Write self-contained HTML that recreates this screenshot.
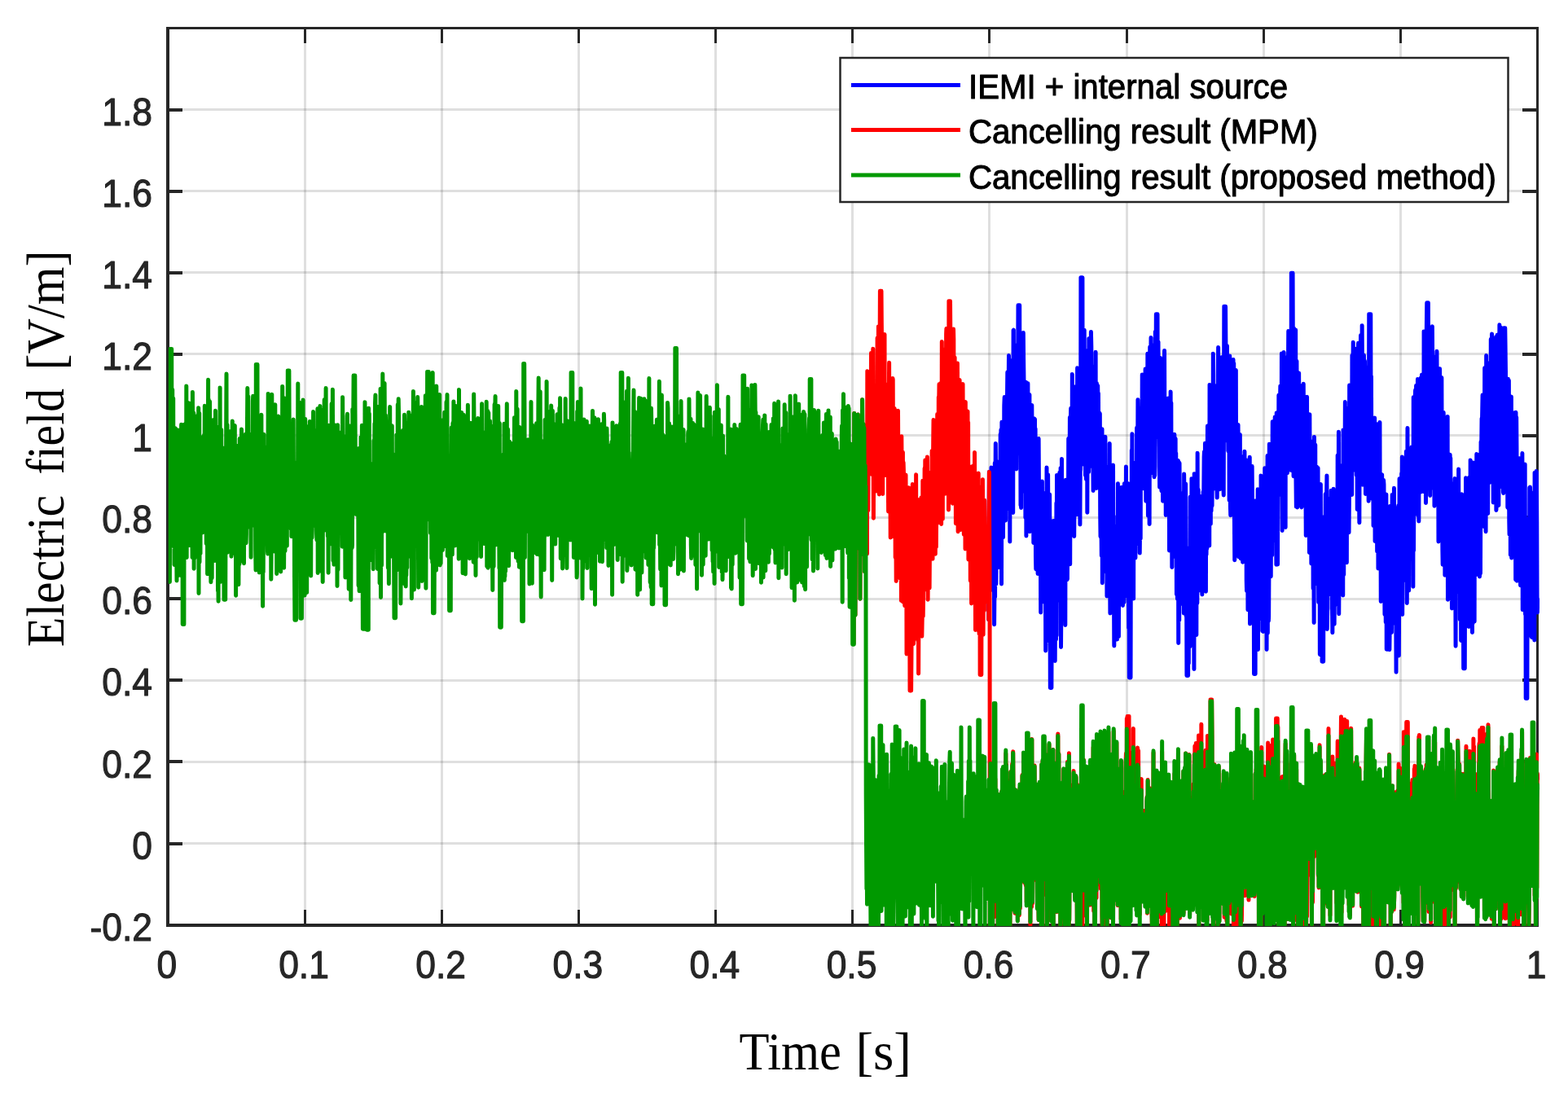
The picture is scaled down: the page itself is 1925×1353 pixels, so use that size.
<!DOCTYPE html>
<html><head><meta charset="utf-8"><title>Electric field plot</title>
<style>html,body{margin:0;padding:0;background:#fff;overflow:hidden}svg{display:block}</style>
</head><body>
<svg width="1925" height="1353" viewBox="0 0 1925 1353">
<rect x="0" y="0" width="1925" height="1353" fill="#fff"/>
<path d="M373 36h3V1134h-3z M541 36h3V1134h-3z M709 36h3V1134h-3z M877 36h3V1134h-3z M1045 36h3V1134h-3z M1213 36h3V1134h-3z M1382 36h3V1134h-3z M1550 36h3V1134h-3z M1718 36h3V1134h-3z" fill="#262626" fill-opacity="0.15"/>
<path d="M208 1034H1886v3H208z M208 934H1886v3H208z M208 834H1886v3H208z M208 734H1886v3H208z M208 634H1886v3H208z M208 533H1886v3H208z M208 433H1886v3H208z M208 333H1886v3H208z M208 233H1886v3H208z M208 133H1886v3H208z" fill="#262626" fill-opacity="0.15"/>
<path d="M204 33H1889V36H204z M204 1134H1889V1138H204z M204 33H208V1138H204z M1886 33H1889V1138H1886z M373 36h3v17h-3z M373 1117h3v17h-3z M541 36h3v17h-3z M541 1117h3v17h-3z M709 36h3v17h-3z M709 1117h3v17h-3z M877 36h3v17h-3z M877 1117h3v17h-3z M1045 36h3v17h-3z M1045 1117h3v17h-3z M1213 36h3v17h-3z M1213 1117h3v17h-3z M1382 36h3v17h-3z M1382 1117h3v17h-3z M1550 36h3v17h-3z M1550 1117h3v17h-3z M1718 36h3v17h-3z M1718 1117h3v17h-3z M208 1034h16v4h-16z M1869 1034h17v4h-17z M208 933h16v4h-16z M1869 933h17v4h-17z M208 833h16v4h-16z M1869 833h17v4h-17z M208 733h16v4h-16z M1869 733h17v4h-17z M208 633h16v4h-16z M1869 633h17v4h-17z M208 533h16v4h-16z M1869 533h17v4h-17z M208 433h16v4h-16z M1869 433h17v4h-17z M208 333h16v4h-16z M1869 333h17v4h-17z M208 233h16v4h-16z M1869 233h17v4h-17z M208 133h16v4h-16z M1869 133h17v4h-17z" fill="#262626"/>
<clipPath id="c"><rect x="206.7" y="34" width="1683.50" height="1103"/></clipPath>
<g clip-path="url(#c)" fill="none" stroke-linejoin="round" stroke-linecap="round" stroke-width="5.0">
<path stroke="#0000ff" d="M1212.0 738.9l0.4 -81.8 0.3 40.6 0.3 -6.7 0.4 -37.0 0.3 106.7 0.3 -97.3 0.4 -83.8 0.3 74.8 0.3 43.9 0.3 23.6 0.4 -59.0 0.3 61.9 0.3 -13.4 0.4 -110.8 0.3 -26.5 0.3 47.9 0.4 93.4 0.3 -87.5 0.3 22.4 0.3 -37.3 0.4 -25.3 0.3 104.1 0.3 -88.0 0.4 37.8 0.3 -13.8 0.3 138.9 0.4 -49.1 0.3 -149.2 0.3 164.6 0.3 -125.3 0.4 -63.2 0.3 53.3 0.3 119.2 0.4 -48.4 0.3 14.3 0.3 3.0 0.4 -70.6 0.3 -30.6 0.3 .3 0.3 -17.7 0.4 86.3 0.3 35.4 0.3 7.4 0.4 -120.2 0.3 82.5 0.3 37.2 0.4 -120.3 0.3 13.2 0.3 -55.9 0.3 52.4 0.4 -57.6 0.3 2.0 0.3 187.3 0.4 -198.8 0.3 110.4 0.3 -6.7 0.4 -102.0 0.3 67.7 0.3 72.1 0.4 -106.7 0.3 -34.7 0.3 69.8 0.3 -89.9 0.4 -10.6 0.3 110.4 0.3 -6.6 0.4 46.9 0.3 .7 0.3 -114.1 0.4 44.6 0.3 22.3 0.3 -24.8 0.3 22.5 0.4 -102.5 0.3 -30.1 0.3 103.6 0.4 64.0 0.3 -56.0 0.3 -81.4 0.4 -50.5 0.3 25.3 0.3 108.9 0.3 -52.4 0.4 146.6 0.3 -121.0 0.3 20.9 0.4 -31.7 0.3 13.5 0.3 64.4 0.4 -165.3 0.3 132.4 0.3 19.9 0.3 11.0 0.4 -55.2 0.3 -112.3 0.3 188.0 0.4 -224.0 0.3 -.4 0.3 146.0 0.4 -67.8 0.3 73.0 0.3 -120.1 0.3 -12.5 0.4 82.5 0.3 62.4 0.3 -84.1 0.4 -32.1 0.3 123.4 0.3 -77.4 0.4 -7.6 0.3 31.9 0.3 -12.6 0.3 -36.4 0.4 -26.5 0.3 -72.5 0.3 .0 0.4 .0 0.3 .0 0.3 .0 0.4 .0 0.3 182.5 0.3 -143.3 0.3 71.4 0.4 135.0 0.3 -123.1 0.3 126.3 0.4 -160.4 0.3 50.9 0.3 49.9 0.4 -81.4 0.3 97.6 0.3 22.8 0.3 -77.2 0.4 -117.2 0.3 32.5 0.3 21.3 0.4 61.6 0.3 36.4 0.3 42.5 0.4 -22.8 0.3 -61.9 0.3 117.2 0.3 -7.1 0.4 -159.0 0.3 188.8 0.3 -140.7 0.4 -34.0 0.3 108.6 0.3 -71.4 0.4 94.8 0.3 -144.7 0.3 82.6 0.3 -24.8 0.4 53.3 0.3 -71.4 0.3 6.5 0.4 -32.3 0.3 168.2 0.3 -120.4 0.4 -31.2 0.3 58.6 0.3 -46.6 0.3 15.4 0.4 56.7 0.3 -66.9 0.3 -20.8 0.4 54.4 0.3 46.6 0.3 -47.7 0.4 11.0 0.3 -7.7 0.3 112.2 0.3 -146.3 0.4 134.6 0.3 -140.8 0.3 34.3 0.4 -33.5 0.3 90.9 0.3 -79.3 0.4 157.0 0.3 15.5 0.3 -132.8 0.3 -18.0 0.4 20.0 0.3 76.7 0.3 -29.4 0.4 -20.3 0.3 109.6 0.3 -131.8 0.4 87.1 0.3 -121.4 0.3 45.6 0.3 85.1 0.4 -9.7 0.3 -27.4 0.3 -9.5 0.4 -20.6 0.3 63.4 0.3 86.5 0.4 -132.0 0.3 45.9 0.3 -25.8 0.3 94.0 0.4 -142.9 0.3 133.4 0.3 -106.8 0.4 76.2 0.3 30.1 0.3 -82.3 0.4 97.2 0.3 -133.3 0.3 56.1 0.3 -28.7 0.4 19.2 0.3 45.3 0.3 -52.8 0.4 154.2 0.3 -18.7 0.3 -24.0 0.4 -74.0 0.3 -108.2 0.3 212.9 0.3 -78.0 0.4 40.9 0.3 -152.4 0.3 -14.6 0.4 85.0 0.3 102.9 0.3 -131.5 0.4 50.9 0.3 -70.8 0.3 -12.3 0.3 61.1 0.4 176.5 0.3 .0 0.3 .0 0.4 .0 0.3 .0 0.3 .0 0.4 -110.1 0.3 4.2 0.3 -64.3 0.3 74.2 0.4 -55.9 0.3 19.2 0.3 -72.5 0.4 21.7 0.3 14.5 0.3 -5.3 0.4 -11.2 0.3 125.0 0.3 27.3 0.3 -53.0 0.4 14.9 0.3 -73.5 0.3 85.3 0.4 -167.7 0.3 162.8 0.3 -196.8 0.4 67.5 0.3 53.0 0.3 -27.9 0.3 -71.0 0.4 132.0 0.3 -130.1 0.3 84.6 0.4 -85.1 0.3 111.9 0.3 -138.1 0.4 76.6 0.3 -18.4 0.3 99.3 0.3 -163.0 0.4 219.8 0.3 -38.0 0.3 -99.4 0.4 -93.5 0.3 139.8 0.3 28.5 0.4 -76.9 0.3 -36.3 0.3 12.5 0.4 126.7 0.3 -78.0 0.3 -23.4 0.3 29.3 0.4 41.1 0.3 -28.6 0.3 -44.6 0.4 113.8 0.3 -146.2 0.3 -32.0 0.4 57.8 0.3 53.3 0.3 .8 0.3 10.8 0.4 -96.7 0.3 95.6 0.3 -73.2 0.4 15.8 0.3 -8.4 0.3 -106.6 0.4 29.9 0.3 27.5 0.3 15.7 0.3 -15.7 0.4 -83.5 0.3 180.3 0.3 -103.9 0.4 -74.1 0.3 -13.4 0.3 61.1 0.4 7.7 0.3 37.6 0.3 34.0 0.3 -182.1 0.4 111.2 0.3 34.4 0.3 -37.4 0.4 38.8 0.3 -99.8 0.3 105.5 0.4 46.3 0.3 -37.1 0.3 -146.6 0.3 73.1 0.4 -24.7 0.3 106.1 0.3 -48.8 0.4 -56.9 0.3 -9.9 0.3 118.0 0.4 -30.3 0.3 -76.5 0.3 -73.3 0.3 131.0 0.4 27.5 0.3 -106.0 0.3 -11.8 0.4 56.7 0.3 -53.1 0.3 -40.5 0.4 65.7 0.3 -47.6 0.3 170.5 0.3 -65.4 0.4 -2.2 0.3 -235.7 0.3 .0 0.4 .0 0.3 .0 0.3 .0 0.4 .0 0.3 .0 0.3 229.1 0.3 -26.8 0.4 -40.1 0.3 -53.5 0.3 -15.7 0.4 44.9 0.3 -73.4 0.3 95.1 0.4 37.5 0.3 -92.3 0.3 138.1 0.3 -42.9 0.4 -107.4 0.3 155.2 0.3 -42.9 0.4 33.5 0.3 -142.9 0.3 192.9 0.4 -117.4 0.3 -5.9 0.3 -75.7 0.3 130.3 0.4 19.1 0.3 -163.9 0.3 158.1 0.4 -76.7 0.3 -45.8 0.3 114.4 0.4 -18.2 0.3 -101.2 0.3 31.5 0.3 -70.4 0.4 17.9 0.3 55.6 0.3 63.1 0.4 -94.3 0.3 39.7 0.3 70.4 0.4 -3.5 0.3 46.3 0.3 -76.1 0.3 42.3 0.4 -92.0 0.3 -.4 0.3 47.9 0.4 54.5 0.3 -56.5 0.3 50.0 0.4 -140.1 0.3 164.4 0.3 -76.4 0.3 79.3 0.4 -128.9 0.3 81.6 0.3 -8.0 0.4 -19.8 0.3 -50.8 0.3 38.4 0.4 -29.2 0.3 56.8 0.3 22.2 0.3 -54.6 0.4 -.3 0.3 57.0 0.3 -56.2 0.4 124.7 0.3 26.3 0.3 -121.9 0.4 78.4 0.3 32.2 0.3 34.9 0.3 -16.8 0.4 -138.7 0.3 189.0 0.3 -32.9 0.4 -101.5 0.3 84.7 0.3 33.8 0.4 -60.9 0.3 -13.8 0.3 7.9 0.3 -44.4 0.4 41.8 0.3 -8.9 0.3 -85.3 0.4 154.1 0.3 -117.6 0.3 56.1 0.4 74.0 0.3 -101.9 0.3 130.9 0.3 -57.2 0.4 10.8 0.3 -97.8 0.3 60.2 0.4 -75.0 0.3 130.8 0.3 -2.4 0.4 -58.0 0.3 23.3 0.3 -122.0 0.3 141.2 0.4 67.3 0.3 -63.8 0.3 51.5 0.4 -161.4 0.3 135.1 0.3 32.6 0.4 -4.7 0.3 -97.0 0.3 92.6 0.3 -135.9 0.4 43.2 0.3 -74.3 0.3 122.5 0.4 -35.6 0.3 72.2 0.3 63.0 0.4 -146.8 0.3 57.8 0.3 -55.9 0.3 105.1 0.4 13.4 0.3 -70.7 0.3 -48.1 0.4 56.7 0.3 -8.9 0.3 68.4 0.4 20.8 0.3 -151.3 0.3 79.5 0.3 -119.3 0.4 48.4 0.3 100.8 0.3 38.4 0.4 -148.9 0.3 64.9 0.3 -24.1 0.4 5.3 0.3 -71.0 0.3 62.8 0.3 17.4 0.4 -18.4 0.3 60.3 0.3 -44.8 0.4 -86.6 0.3 59.9 0.3 20.6 0.4 -31.6 0.3 96.4 0.3 -38.0 0.4 -99.7 0.3 88.5 0.3 -27.9 0.3 73.0 0.4 -145.8 0.3 129.5 0.3 -65.0 0.4 -58.9 0.3 92.6 0.3 1.9 0.4 -120.8 0.3 158.4 0.3 -91.3 0.3 16.3 0.4 -2.6 0.3 -35.2 0.3 -12.4 0.4 -12.6 0.3 18.8 0.3 104.8 0.4 54.0 0.3 -108.7 0.3 169.4 0.3 .0 0.4 .0 0.3 .0 0.3 .0 0.4 .0 0.3 -130.6 0.3 -87.9 0.4 121.4 0.3 -181.7 0.3 106.2 0.3 -126.6 0.4 146.1 0.3 -.5 0.3 5.9 0.4 13.2 0.3 37.7 0.3 -166.8 0.4 98.7 0.3 -82.2 0.3 47.4 0.3 32.6 0.4 -66.0 0.3 86.3 0.3 -57.8 0.4 33.9 0.3 -51.2 0.3 34.0 0.4 -118.8 0.3 89.0 0.3 -88.3 0.3 64.2 0.4 -99.4 0.3 18.1 0.3 4.7 0.4 136.3 0.3 -139.9 0.3 158.6 0.4 -49.5 0.3 60.1 0.3 -26.9 0.3 -78.2 0.4 87.3 0.3 -122.2 0.3 13.5 0.4 20.9 0.3 -72.2 0.3 93.5 0.4 -134.8 0.3 25.5 0.3 70.1 0.3 -51.4 0.4 58.6 0.3 36.9 0.3 -79.8 0.4 74.7 0.3 -108.6 0.3 66.9 0.4 -73.0 0.3 5.3 0.3 -32.1 0.3 92.6 0.4 69.5 0.3 -19.9 0.3 -86.2 0.4 83.4 0.3 -111.9 0.3 125.1 0.4 -171.4 0.3 120.9 0.3 78.1 0.3 -140.8 0.4 116.6 0.3 -78.3 0.3 -74.0 0.4 186.8 0.3 -109.4 0.3 -108.1 0.4 29.1 0.3 119.8 0.3 -124.7 0.3 -35.9 0.4 67.1 0.3 99.2 0.3 -104.1 0.4 59.1 0.3 -6.6 0.3 -39.1 0.4 43.0 0.3 -63.8 0.3 103.3 0.3 -148.8 0.4 137.4 0.3 24.7 0.3 -120.3 0.4 118.5 0.3 -11.5 0.3 -165.0 0.4 118.9 0.3 -73.0 0.3 -67.6 0.3 .0 0.4 .0 0.3 .0 0.3 .0 0.4 .0 0.3 138.6 0.3 8.9 0.4 -113.6 0.3 117.3 0.3 -70.1 0.3 51.8 0.4 30.4 0.3 49.2 0.3 -65.8 0.4 24.6 0.3 -117.5 0.3 7.3 0.4 69.2 0.3 -60.6 0.3 147.3 0.3 -156.1 0.4 63.1 0.3 72.5 0.3 2.1 0.4 30.9 0.3 -137.3 0.3 133.5 0.4 -147.2 0.3 118.1 0.3 -16.3 0.3 -135.6 0.4 107.7 0.3 31.5 0.3 -.6 0.4 -37.4 0.3 100.7 0.3 -78.9 0.4 72.6 0.3 -72.8 0.3 43.4 0.3 28.0 0.4 -11.0 0.3 -10.3 0.3 -73.2 0.4 -41.3 0.3 143.8 0.3 -122.7 0.4 -4.9 0.3 170.8 0.3 -76.2 0.3 -45.2 0.4 72.0 0.3 44.3 0.3 -189.9 0.4 183.1 0.3 -169.5 0.3 143.7 0.4 -62.2 0.3 120.4 0.3 -99.9 0.3 62.3 0.4 -82.2 0.3 79.6 0.3 27.5 0.4 -43.1 0.3 -62.7 0.3 47.0 0.4 -91.6 0.3 49.2 0.3 82.0 0.3 -27.2 0.4 -98.7 0.3 103.0 0.3 -85.4 0.4 86.4 0.3 87.1 0.3 -149.0 0.4 66.3 0.3 88.2 0.3 -131.6 0.3 .8 0.4 -38.9 0.3 223.9 0.3 -207.7 0.4 168.3 0.3 11.5 0.3 -192.9 0.4 59.8 0.3 5.8 0.3 10.7 0.4 -2.8 0.3 99.5 0.3 -17.0 0.3 -81.8 0.4 91.7 0.3 2.4 0.3 -99.3 0.4 56.2 0.3 36.8 0.3 -60.1 0.4 -11.1 0.3 -54.8 0.3 148.3 0.3 -170.9 0.4 31.8 0.3 47.9 0.3 36.6 0.4 -73.5 0.3 66.3 0.3 -97.2 0.4 138.8 0.3 23.9 0.3 -20.9 0.3 93.9 0.4 .0 0.3 .0 0.3 .0 0.4 .0 0.3 .0 0.3 -156.7 0.4 141.6 0.3 -107.1 0.3 -25.3 0.3 35.1 0.4 30.1 0.3 46.4 0.3 -183.4 0.4 10.6 0.3 25.7 0.3 -5.8 0.4 125.2 0.3 -178.3 0.3 94.5 0.3 -32.4 0.4 142.6 0.3 -84.3 0.3 48.6 0.4 -76.3 0.3 86.5 0.3 -82.9 0.4 137.5 0.3 -239.8 0.3 9.5 0.3 145.9 0.4 1.8 0.3 -120.9 0.3 82.6 0.4 31.9 0.3 41.2 0.3 5.9 0.4 -183.2 0.3 57.3 0.3 86.7 0.3 -184.1 0.4 162.0 0.3 -77.0 0.3 -40.2 0.4 35.0 0.3 23.0 0.3 65.9 0.4 -86.9 0.3 -.4 0.3 71.6 0.3 -72.2 0.4 -27.6 0.3 1.2 0.3 58.6 0.4 33.5 0.3 -58.2 0.3 -34.6 0.4 120.0 0.3 -27.1 0.3 -74.3 0.3 74.7 0.4 -99.6 0.3 33.1 0.3 -25.8 0.4 -49.3 0.3 -7.0 0.3 157.7 0.4 1.5 0.3 -169.6 0.3 19.1 0.3 1.1 0.4 161.8 0.3 -170.5 0.3 125.1 0.4 -30.1 0.3 22.8 0.3 -15.5 0.4 -135.0 0.3 105.7 0.3 -77.7 0.3 112.4 0.4 -45.5 0.3 -52.2 0.3 45.1 0.4 59.0 0.3 -197.3 0.3 44.1 0.4 80.6 0.3 -84.4 0.3 130.3 0.3 -119.0 0.4 103.2 0.3 -26.7 0.3 -122.7 0.4 143.0 0.3 -52.5 0.3 -56.4 0.4 79.0 0.3 -156.8 0.3 49.4 0.3 116.6 0.4 -127.9 0.3 64.4 0.3 39.6 0.4 -50.3 0.3 1.9 0.3 35.5 0.4 12.0 0.3 22.2 0.3 -6.2 0.3 -64.4 0.4 -52.7 0.3 125.4 0.3 11.3 0.4 -53.6 0.3 12.5 0.3 -108.5 0.4 -35.1 0.3 84.6 0.3 89.1 0.3 -41.9 0.4 -103.6 0.3 27.0 0.3 119.1 0.4 -115.0 0.3 -45.5 0.3 8.3 0.4 70.1 0.3 30.1 0.3 14.2 0.3 -27.5 0.4 -96.8 0.3 12.4 0.3 105.2 0.4 -76.8 0.3 -5.9 0.3 118.1 0.4 16.3 0.3 -120.3 0.3 -111.3 0.3 .0 0.4 .0 0.3 .0 0.3 .0 0.4 .0 0.3 40.9 0.3 69.2 0.4 -26.9 0.3 -16.3 0.3 76.4 0.3 -95.2 0.4 117.2 0.3 -11.2 0.3 -41.1 0.4 64.5 0.3 -9.2 0.3 -57.4 0.4 -43.6 0.3 170.7 0.3 -121.2 0.3 -56.1 0.4 42.4 0.3 142.8 0.3 10.5 0.4 -62.5 0.3 -114.9 0.3 -9.0 0.4 183.1 0.3 -129.6 0.3 7.8 0.3 -21.5 0.4 136.3 0.3 -79.6 0.3 -101.3 0.4 95.1 0.3 -90.7 0.3 78.4 0.4 116.9 0.3 46.6 0.3 -81.6 0.3 -14.5 0.4 -40.2 0.3 26.8 0.3 -123.9 0.4 187.2 0.3 -39.5 0.3 79.4 0.4 -63.2 0.3 -91.4 0.3 95.6 0.3 -66.9 0.4 -34.0 0.3 38.3 0.3 123.9 0.4 -79.3 0.3 -36.6 0.3 -16.8 0.4 48.9 0.3 -66.5 0.3 135.0 0.4 -56.3 0.3 73.8 0.3 -110.0 0.3 94.5 0.4 -6.4 0.3 -101.9 0.3 107.6 0.4 -54.9 0.3 75.4 0.3 -82.4 0.4 70.6 0.3 -90.8 0.3 -27.5 0.3 93.4 0.4 -1.5 0.3 -97.9 0.3 106.0 0.4 -74.4 0.3 2.3 0.3 21.4 0.4 -36.0 0.3 -8.8 0.3 147.7 0.3 13.1 0.4 -99.5 0.3 95.5 0.3 -102.6 0.4 129.8 0.3 -73.2 0.3 29.2 0.4 -3.0 0.3 -49.1 0.3 85.3 0.3 -46.2 0.4 -130.5 0.3 204.8 0.3 -161.7 0.4 55.0 0.3 94.3 0.3 -121.4 0.4 54.3 0.3 1.5 0.3 40.2 0.3 -155.8 0.4 54.2 0.3 66.6 0.3 -13.8 0.4 31.9 0.3 -14.2 0.3 -17.8 0.4 148.1 0.3 .0 0.3 .0 0.3 .0 0.4 .0 0.3 .0 0.3 -146.2 0.4 -66.4 0.3 137.1 0.3 36.8 0.4 -98.8 0.3 -45.1 0.3 48.8 0.3 -21.5 0.4 -71.4 0.3 196.8 0.3 -121.5 0.4 -1.5 0.3 26.1 0.3 -5.1 0.4 58.9 0.3 -55.8 0.3 -67.2 0.3 -13.7 0.4 107.1 0.3 34.9 0.3 -175.7 0.4 164.4 0.3 -58.5 0.3 34.3 0.4 -59.6 0.3 110.2 0.3 -47.1 0.3 29.6 0.4 18.1 0.3 -162.0 0.3 17.8 0.4 97.9 0.3 -92.8 0.3 67.1 0.4 -128.6 0.3 45.3 0.3 91.2 0.3 -13.6 0.4 -37.1 0.3 -51.3 0.3 26.5 0.4 161.7 0.3 -116.3 0.3 -4.0 0.4 -117.6 0.3 217.7 0.3 -205.5 0.3 74.7 0.4 115.9 0.3 -5.7 0.3 -55.3 0.4 -156.2 0.3 47.3 0.3 50.6 0.4 14.6 0.3 -52.2 0.3 59.3 0.3 42.9 0.4 -96.1 0.3 55.6 0.3 -62.6 0.4 77.1 0.3 -95.1 0.3 -68.9 0.4 110.3 0.3 -98.2 0.3 3.2 0.3 18.4 0.4 112.2 0.3 -14.2 0.3 -69.2 0.4 -61.7 0.3 -6.6 0.3 97.2 0.4 -41.9 0.3 53.9 0.3 -48.8 0.3 121.0 0.4 -186.3 0.3 39.8 0.3 -13.6 0.4 103.3 0.3 56.4 0.3 -164.0 0.4 79.6 0.3 -40.8 0.3 -82.4 0.3 12.6 0.4 90.2 0.3 -76.0 0.3 -21.4 0.4 .8 0.3 -17.6 0.3 8.0 0.4 59.0 0.3 14.5 0.3 11.0 0.3 -132.3 0.4 160.1 0.3 57.4 0.3 -132.4 0.4 14.0 0.3 -49.4 0.3 135.2 0.4 -97.7 0.3 -88.7 0.3 112.5 0.3 52.9 0.4 -150.8 0.3 77.1 0.3 44.8 0.4 78.4 0.3 -208.8 0.3 24.2 0.4 69.9 0.3 -53.8 0.3 86.7 0.3 -13.6 0.4 28.7 0.3 -69.8 0.3 -58.9 0.4 -.5 0.3 -45.1 0.3 67.3 0.4 48.2 0.3 15.0 0.3 13.4 0.3 -11.4 0.4 -60.8 0.3 70.9 0.3 25.7 0.4 -99.8 0.3 102.5 0.3 -242.2 0.4 .0 0.3 .0 0.3 .0 0.3 .0 0.4 .0 0.3 99.9 0.3 -1.7 0.4 151.3 0.3 -127.5 0.3 -54.0 0.4 125.6 0.3 -6.3 0.3 -106.2 0.3 20.3 0.4 18.6 0.3 -50.4 0.3 181.7 0.4 35.5 0.3 -12.5 0.3 -166.4 0.4 144.0 0.3 35.7 0.3 -29.4 0.3 -82.7 0.4 -5.8 0.3 44.5 0.3 8.0 0.4 -99.6 0.3 85.6 0.3 16.6 0.4 -57.6 0.3 -20.6 0.3 67.7 0.4 35.6 0.3 -35.5 0.3 -49.6 0.3 121.9 0.4 .8 0.3 -54.7 0.3 -72.3 0.4 -22.6 0.3 2.9 0.3 40.8 0.4 -35.1 0.3 -10.6 0.3 38.5 0.3 9.3 0.4 101.7 0.3 -133.2 0.3 119.0 0.4 -15.3 0.3 -69.9 0.3 61.1 0.4 75.1 0.3 -94.4 0.3 -28.2 0.3 25.2 0.4 -72.9 0.3 151.6 0.3 -94.1 0.4 53.7 0.3 10.7 0.3 -37.0 0.4 20.6 0.3 39.1 0.3 -23.0 0.3 69.7 0.4 -169.7 0.3 106.7 0.3 -59.2 0.4 -15.0 0.3 78.6 0.3 -67.8 0.4 140.0 0.3 -33.5 0.3 -57.1 0.3 -22.9 0.4 -14.6 0.3 90.1 0.3 -88.7 0.4 157.1 0.3 -114.8 0.3 41.7 0.4 115.1 0.3 -228.1 0.3 30.5 0.3 -1.5 0.4 149.2 0.3 -168.7 0.3 150.3 0.4 20.6 0.3 -119.1 0.3 30.0 0.4 -54.8 0.3 98.1 0.3 -26.8 0.3 -13.5 0.4 19.6 0.3 -75.7 0.3 96.9 0.4 67.9 0.3 -51.9 0.3 -13.0 0.4 -58.3 0.3 18.7 0.3 168.6 0.3 -88.6 0.4 89.0 0.3 -209.3 0.3 138.8 0.4 -83.6 0.3 155.5 0.3 -163.5 0.4 170.5 0.3 .0 0.3 .0 0.3 .0 0.4 .0 0.3 .0 0.3 -127.4 0.4 51.0 0.3 11.5 0.3 -112.8 0.4 4.7 0.3 90.7 0.3 -40.0 0.3 -83.4 0.4 78.2 0.3 -58.0 0.3 38.7 0.4 -62.8 0.3 -18.8 0.3 188.6 0.4 -22.3 0.3 -3.2 0.3 -122.3 0.3 37.8 0.4 32.8 0.3 -51.9 0.3 24.3 0.4 59.0 0.3 -6.6 0.3 -107.8 0.4 97.5 0.3 5.6 0.3 14.3 0.3 -39.9 0.4 -87.5 0.3 117.1 0.3 -115.8 0.4 51.4 0.3 98.3 0.3 23.5 0.4 -150.9 0.3 39.0 0.3 -31.6 0.3 -33.1 0.4 106.1 0.3 -53.2 0.3 113.2 0.4 -80.2 0.3 57.2 0.3 -127.4 0.4 14.1 0.3 75.9 0.3 -16.3 0.3 -.8 0.4 -15.3 0.3 -65.9 0.3 108.9 0.4 -8.7 0.3 -148.5 0.3 164.3 0.4 -32.8 0.3 -60.4 0.3 -100.2 0.3 223.5 0.4 -67.9 0.3 -50.1 0.3 35.7 0.4 51.0 0.3 -110.3 0.3 47.8 0.4 -.2 0.3 -69.4 0.3 23.4 0.3 21.5 0.4 -19.8 0.3 53.1 0.3 -97.2 0.4 34.1 0.3 125.5 0.3 -202.8 0.4 121.6 0.3 55.9 0.3 -157.5 0.3 59.8 0.4 19.6 0.3 -68.2 0.3 -65.8 0.4 156.9 0.3 -136.4 0.3 13.6 0.4 -26.6 0.3 79.5 0.3 110.2 0.3 -127.1 0.4 -8.4 0.3 32.4 0.3 -75.2 0.4 131.1 0.3 -142.5 0.3 122.4 0.4 30.4 0.3 -36.6 0.3 -144.2 0.3 95.3 0.4 -23.2 0.3 22.4 0.3 -15.9 0.4 52.5 0.3 -20.3 0.3 -98.7 0.4 -13.3 0.3 135.8 0.3 -171.0 0.3 139.9 0.4 -80.4 0.3 -40.5 0.3 -35.3 0.4 61.9 0.3 -28.9 0.3 73.1 0.4 50.5 0.3 -148.8 0.3 25.3 0.3 50.0 0.4 69.2 0.3 -37.6 0.3 15.7 0.4 -46.6 0.3 79.3 0.3 -129.7 0.4 72.8 0.3 99.0 0.3 -164.1 0.3 80.0 0.4 -107.8 0.3 -12.3 0.3 132.3 0.4 -10.0 0.3 64.0 0.3 34.1 0.4 -162.2 0.3 36.4 0.3 35.1 0.4 -104.8 0.3 -34.5 0.3 145.9 0.3 -9.4 0.4 27.9 0.3 9.6 0.3 -185.9 0.4 66.8 0.3 128.6 0.3 -43.5 0.4 -114.4 0.3 117.6 0.3 -4.9 0.3 -113.9 0.4 118.2 0.3 -76.5 0.3 -34.8 0.4 26.1 0.3 15.3 0.3 122.2 0.4 -56.1 0.3 -93.0 0.3 48.6 0.3 77.6 0.4 -108.2 0.3 -24.2 0.3 68.1 0.4 14.6 0.3 -60.8 0.3 42.7 0.4 99.3 0.3 -89.5 0.3 -139.9 0.3 .0 0.4 .0 0.3 .0 0.3 .0 0.4 .0 0.3 .0 0.3 141.1 0.4 -65.0 0.3 98.1 0.3 -46.3 0.3 84.5 0.4 14.2 0.3 -97.8 0.3 19.6 0.4 20.7 0.3 90.7 0.3 -124.8 0.4 112.9 0.3 -89.9 0.3 65.5 0.3 -96.2 0.4 151.4 0.3 -108.7 0.3 28.9 0.4 16.9 0.3 -61.8 0.3 77.6 0.4 -66.8 0.3 25.2 0.3 101.3 0.3 -156.3 0.4 97.6 0.3 -79.8 0.3 159.5 0.4 -66.5 0.3 -4.1 0.3 69.3 0.4 -109.0 0.3 5.5 0.3 -74.7 0.3 144.6 0.4 -26.6 0.3 -8.8 0.3 110.7 0.4 -125.7 0.3 19.7 0.3 35.3 0.4 -85.1 0.3 92.4 0.3 -62.0 0.3 14.6 0.4 72.6 0.3 -43.4 0.3 -67.5 0.4 5.4 0.3 56.7 0.3 43.4 0.4 59.6 0.3 -67.5 0.3 -10.4 0.3 -67.5 0.4 154.8 0.3 -42.6 0.3 -114.3 0.4 190.3 0.3 .0 0.3 .0 0.4 .0 0.3 .0 0.3 .0 0.3 -117.5 0.4 -29.1 0.3 108.8 0.3 -132.8 0.4 33.0 0.3 138.0 0.3 -26.3 0.4 -150.0 0.3 62.4 0.3 -51.2 0.3 136.6 0.4 -95.1 0.3 4.6 0.3 97.7 0.4 -110.2 0.3 -58.8 0.3 141.7 0.4 -7.2 0.3 23.0 0.3 -92.7 0.3 37.9 0.4 -74.5 0.3 -36.3 0.3 149.8 0.4 -126.2 0.3 58.7 0.3 11.3 0.4 21.9 0.3 -63.1 0.3 88.9 0.3 84.7 0.4 -141.6 0.3 72.7 0.3 -36.0 0.4 26.8 0.3 -13.7 0.3 -86.9 0.4 -12.2 0.3 -13.6 0.3 35.6 0.3 148.6 0.4 -99.7 0.3 -117.6 0.3 162.9 0.4 -82.5 0.3 34.0 0.3 -53.7 0.4 -6.1 0.3 7.1 0.3 -23.9 0.3 -44.3 0.4 27.7 0.3 -47.8 0.3 193.5 0.4 -67.7 0.3 -122.0 0.3 120.7 0.4 27.1 0.3 -148.4 0.3 49.1 0.3 -50.7 0.4 56.3 0.3 -52.1 0.3 136.0 0.4 -56.8 0.3 33.9 0.3 -30.1 0.4 -95.7 0.3 3.0 0.3 26.0 0.3 157.4 0.4 -69.1 0.3 -146.0 0.3 115.4 0.4 53.8 0.3 -139.0 0.3 151.7 0.4 17.7 0.3 -160.2 0.3 17.3 0.3 -14.8 0.4 -2.7 0.3 69.3 0.3 -49.2 0.4 -29.3 0.3 25.0 0.3 54.8 0.4 -86.4 0.3 92.3 0.3 -45.0 0.3 46.7 0.4 11.5 0.3 -20.0 0.3 85.8 0.4 -232.4 0.3 188.1 0.3 -67.7 0.4 -118.9 0.3 142.5 0.3 -122.9 0.3 -19.1 0.4 -10.8 0.3 74.0 0.3 34.6 0.4 -114.2 0.3 87.2 0.3 44.1 0.4 23.6 0.3 -140.0 0.3 14.9 0.3 -37.6 0.4 94.9 0.3 73.2 0.3 -118.5 0.4 124.9 0.3 -111.2 0.3 35.0 0.4 -46.5 0.3 58.4 0.3 -106.0 0.4 -5.4 0.3 133.2 0.3 6.4 0.3 -119.0 0.4 52.3 0.3 -77.0 0.3 133.5 0.4 -28.2 0.3 -35.5 0.3 -17.5 0.4 -24.8 0.3 111.5 0.3 4.2 0.3 -196.6 0.4 86.9 0.3 58.1 0.3 50.7 0.4 -91.7 0.3 -50.4 0.3 -4.2 0.4 161.1 0.3 -30.4 0.3 -173.1 0.3 -11.2 0.4 -30.9 0.3 .0 0.3 .0 0.4 .0 0.3 .0 0.3 .0 0.4 128.8 0.3 -54.5 0.3 118.9 0.3 -106.5 0.4 131.2 0.3 -53.3 0.3 72.1 0.4 -187.1 0.3 104.9 0.3 63.5 0.4 -171.7 0.3 177.4 0.3 -64.2 0.3 -56.7 0.4 -73.8 0.3 45.0 0.3 15.6 0.4 49.6 0.3 62.6 0.3 25.8 0.4 -124.1 0.3 -21.4 0.3 167.4 0.3 -38.9 0.4 -104.9 0.3 58.9 0.3 -49.2 0.4 13.7 0.3 -63.2 0.3 137.8 0.4 -76.6 0.3 -67.7 0.3 62.2 0.3 -.5 0.4 87.5 0.3 -44.2 0.3 -58.5 0.4 187.3 0.3 -158.9 0.3 108.5 0.4 -7.3 0.3 -17.5 0.3 -137.1 0.3 27.5 0.4 151.9 0.3 -12.8 0.3 6.9 0.4 -32.1 0.3 48.3 0.3 -178.8 0.4 148.3 0.3 12.2 0.3 51.4 0.3 17.8 0.4 -37.3 0.3 -43.9 0.3 -105.7 0.4 15.0 0.3 156.2 0.3 12.1 0.4 -64.1 0.3 80.6 0.3 -160.4 0.3 79.4 0.4 16.7 0.3 -121.0 0.3 7.3 0.4 21.3 0.3 86.6 0.3 65.8 0.4 -17.7 0.3 -172.6 0.3 224.6 0.3 -150.3 0.4 -5.9 0.3 -19.2 0.3 1.2 0.4 91.9 0.3 -86.8 0.3 139.5 0.4 -148.4 0.3 176.2 0.3 -172.1 0.3 126.1 0.4 -40.8 0.3 88.0 0.3 -54.7 0.4 66.2 0.3 -87.7 0.3 60.7 0.4 -87.9 0.3 68.2 0.3 -92.5 0.3 98.9 0.4 32.8 0.3 -146.2 0.3 28.1 0.4 -4.5 0.3 -29.5 0.3 107.9 0.4 11.8 0.3 86.1 0.3 -157.5 0.3 91.3 0.4 -33.8 0.3 -9.8 0.3 7.2 0.4 24.6 0.3 -84.6 0.3 28.3 0.4 8.1 0.3 18.9 0.3 -110.0 0.3 86.9 0.4 53.3 0.3 -3.0 0.3 -100.0 0.4 147.5 0.3 -93.6 0.3 -38.4 0.4 21.6 0.3 136.1 0.3 -89.2 0.3 -14.1 0.4 -76.4 0.3 36.9 0.3 116.1 0.4 10.6 0.3 -69.4 0.3 15.4 0.4 104.5 0.3 .0 0.3 .0 0.3 .0 0.4 .0 0.3 .0 0.3 -93.2 0.4 -102.0 0.3 119.6 0.3 -158.4 0.4 137.7 0.3 -83.3 0.3 -7.6 0.3 14.0 0.4 -25.7 0.3 146.8 0.3 -113.5 0.4 -65.0 0.3 57.7 0.3 -22.9 0.4 144.5 0.3 -6.9 0.3 -176.4 0.3 122.5 0.4 -58.8 0.3 85.4 0.3 -170.4 0.4 140.8 0.3 38.4 0.3 -120.3 0.4 -15.7 0.3 88.3 0.3 44.5 0.3 35.6 0.4 -187.1 0.3 175.9 0.3 -151.9 0.4 -45.3 0.3 31.8 0.3 158.8 0.4 -2.7 0.3 7.1 0.3 -174.4 0.3 22.6 0.4 85.2 0.3 -71.1 0.3 80.7 0.4 -84.9 0.3 -16.5 0.3 -47.3 0.4 147.7 0.3 -80.6 0.3 -55.7 0.3 64.1 0.4 -74.7 0.3 106.4 0.3 24.5 0.4 -45.7 0.3 -11.5 0.3 -29.6 0.4 105.7 0.3 -36.4 0.3 -6.4 0.4 38.9 0.3 -85.3 0.3 -76.4 0.3 83.7 0.4 -84.2 0.3 -28.2 0.3 9.1 0.4 -20.9 0.3 -16.9 0.3 51.8 0.4 99.1 0.3 -34.2 0.3 38.0 0.3 6.8 0.4 -159.0 0.3 65.2 0.3 -101.0 0.4 38.6 0.3 -13.3 0.3 123.6 0.4 52.1 0.3 -86.3 0.3 -129.8 0.3 151.1 0.4 -99.7 0.3 83.8 0.3 -126.2 0.4 33.9 0.3 151.1 0.3 -151.0 0.4 -21.4 0.3 97.9 0.3 -8.4 0.3 21.2 0.4 -18.4 0.3 -.8 0.3 42.6 0.4 -89.6 0.3 36.6 0.3 -122.9 0.4 137.6 0.3 -121.5 0.3 71.2 0.3 -93.6 0.4 70.1 0.3 -43.0 0.3 69.5 0.4 37.0 0.3 73.3 0.3 -154.3 0.4 -16.4 0.3 75.8 0.3 -62.5 0.3 10.0 0.4 69.1 0.3 32.8 0.3 14.5 0.4 -105.8 0.3 -66.5 0.3 212.7 0.4 -5.0 0.3 -2.9 0.3 -86.5 0.3 -120.8 0.4 22.4 0.3 93.0 0.3 33.0 0.4 -83.8 0.3 144.6 0.3 -104.0 0.4 -2.8 0.3 -114.8 0.3 87.5 0.3 -77.7 0.4 163.8 0.3 -170.5 0.3 44.1 0.4 107.6 0.3 -55.9 0.3 -29.9 0.4 64.8 0.3 26.3 0.3 39.4 0.3 -67.7 0.4 -83.6 0.3 157.2 0.3 1.3 0.4 -202.7 0.3 .0 0.3 .0 0.4 .0 0.3 .0 0.3 .0 0.3 20.9 0.4 31.4 0.3 120.7 0.3 -49.5 0.4 -2.0 0.3 -43.3 0.3 51.2 0.4 -16.8 0.3 107.6 0.3 -69.2 0.3 -88.6 0.4 41.4 0.3 118.3 0.3 -157.9 0.4 172.2 0.3 17.0 0.3 -59.6 0.4 -39.5 0.3 -25.9 0.3 150.1 0.3 -122.1 0.4 60.0 0.3 -132.3 0.3 198.2 0.4 -22.6 0.3 -18.2 0.3 21.2 0.4 -1.5 0.3 -19.2 0.3 -88.7 0.3 42.4 0.4 -21.1 0.3 -69.9 0.3 79.8 0.4 -80.5 0.3 107.1 0.3 -43.7 0.4 -53.4 0.3 195.0 0.3 -205.5 0.3 81.7 0.4 -75.7 0.3 38.8 0.3 162.1 0.4 -51.4 0.3 -23.1 0.3 -69.7 0.4 100.7 0.3 -45.6 0.3 39.2 0.3 14.6 0.4 12.7 0.3 11.9 0.3 -139.7 0.4 33.0 0.3 -24.8 0.3 147.7 0.4 -78.0 0.3 46.1 0.3 -90.4 0.3 101.6 0.4 21.0 0.3 -38.3 0.3 -124.3 0.4 192.4 0.3 -86.4 0.3 67.4 0.4 6.1 0.3 -88.7 0.3 51.5 0.3 19.3 0.4 -103.8 0.3 53.3 0.3 -97.6 0.4 184.7 0.3 -118.0 0.3 220.8 0.4 .0 0.3 .0 0.3 .0 0.3 .0 0.4 .0 0.3 -124.2 0.3 44.9 0.4 -83.6 0.3 83.3 0.3 -117.2 0.4 -23.7 0.3 86.2 0.3 57.0 0.3 -181.1 0.4 8.5 0.3 -9.5 0.3 10.2 0.4 170.0 0.3 -173.8 0.3 107.8 0.4 -20.5 0.3 90.7 0.3 -114.4 0.3 -61.3 0.4 117.8 0.3 -5.3 0.3 -8.6 0.4 39.9 0.3 21.6 0.3 -39.8 0.4 -19.0 0.3 72.8 0.3 -205.7 0.3 .3 0.4 61.8 0.3 108.2 0.3 -86.5 0.4 -21.5 0.3 -64.3 0.3 1.4 0.4 61.3 0.3 90.6 0.3 20.3 0.3 -16.6"/>
<path stroke="#ff0000" d="M1046.4 670.4l0.3 -95.4 0.3 96.3 0.4 28.4 0.3 -90.0 0.3 180.6 0.3 -175.5 0.4 -107.2 0.3 17.9 0.3 -7.9 0.4 -3.4 0.3 241.1 0.3 -73.5 0.4 -164.2 0.3 130.2 0.3 -49.0 0.3 41.6 0.4 -100.5 0.3 133.1 0.3 -38.7 0.4 11.9 0.3 -137.2 0.3 59.4 0.4 25.6 0.3 23.5 0.3 40.2 0.3 -141.5 0.4 4.6 0.3 54.2 0.3 160.2 0.4 -133.5 0.3 80.1 0.3 -150.8 0.4 87.3 0.3 19.7 0.3 -41.0 0.3 2.9 0.4 -109.1 0.3 46.4 0.3 82.4 0.4 -85.1 0.3 -14.0 0.3 25.0 0.4 48.8 0.3 -69.1 0.3 63.5 0.3 113.0 0.4 -58.5 0.3 -71.7 0.3 62.3 0.4 -37.0 0.3 42.2 0.3 -63.6 0.4 32.3 0.3 23.8 0.3 48.6 0.3 -224.3 0.4 143.4 0.3 -78.3 0.3 105.9 0.4 -148.8 0.3 38.1 0.3 52.4 0.4 -95.7 0.3 86.2 0.3 22.0 0.3 -67.7 0.4 29.8 0.3 -53.1 0.3 38.8 0.4 -95.2 0.3 148.6 0.3 -20.7 0.4 -60.9 0.3 -40.7 0.3 120.7 0.3 -45.5 0.4 -106.9 0.3 105.3 0.3 102.7 0.4 -129.6 0.3 -2.3 0.3 85.1 0.4 -72.0 0.3 9.7 0.3 76.2 0.3 -36.9 0.4 -38.7 0.3 45.8 0.3 -90.6 0.4 120.0 0.3 -47.5 0.3 -4.7 0.4 -135.7 0.3 167.7 0.3 15.1 0.3 -16.6 0.4 -180.3 0.3 142.7 0.3 -123.3 0.4 186.6 0.3 -174.0 0.3 8.5 0.4 -84.1 0.3 .0 0.3 .0 0.3 .0 0.4 .0 0.3 .0 0.3 38.7 0.4 34.0 0.3 67.7 0.3 -15.6 0.4 124.5 0.3 -151.6 0.3 -1.1 0.4 89.6 0.3 -105.6 0.3 34.2 0.3 101.3 0.4 -162.9 0.3 172.7 0.3 -15.9 0.4 16.2 0.3 -111.8 0.3 70.7 0.4 -22.5 0.3 -13.6 0.3 -28.7 0.3 82.8 0.4 -61.4 0.3 52.0 0.3 -71.4 0.4 100.6 0.3 47.7 0.3 -128.6 0.4 -9.0 0.3 -45.1 0.3 152.8 0.3 -93.2 0.4 90.8 0.3 -43.5 0.3 107.9 0.4 -161.8 0.3 20.7 0.3 15.5 0.4 22.6 0.3 -1.9 0.3 103.6 0.3 -38.4 0.4 -155.8 0.3 1.7 0.3 101.8 0.4 -8.0 0.3 64.5 0.3 -19.3 0.4 -65.7 0.3 -38.1 0.3 61.2 0.3 -46.8 0.4 168.8 0.3 -155.1 0.3 99.4 0.4 84.6 0.3 -53.5 0.3 13.3 0.4 -108.0 0.3 123.9 0.3 -172.9 0.3 87.0 0.4 -99.0 0.3 57.9 0.3 85.6 0.4 13.3 0.3 -96.1 0.3 44.9 0.4 93.9 0.3 -19.6 0.3 25.9 0.3 -135.1 0.4 14.0 0.3 24.8 0.3 123.8 0.4 -201.9 0.3 37.7 0.3 160.7 0.4 -64.1 0.3 -46.3 0.3 -68.5 0.3 184.0 0.4 -171.4 0.3 9.8 0.3 66.4 0.4 2.1 0.3 -20.7 0.3 118.4 0.4 -55.4 0.3 -36.5 0.3 63.2 0.3 -132.2 0.4 131.5 0.3 -62.0 0.3 150.7 0.4 -155.1 0.3 28.2 0.3 -41.9 0.4 13.8 0.3 41.9 0.3 77.6 0.3 -159.6 0.4 -9.3 0.3 83.5 0.3 4.3 0.4 57.4 0.3 104.0 0.3 .0 0.4 .0 0.3 .0 0.3 .0 0.3 .0 0.4 -50.0 0.3 -172.6 0.3 54.9 0.4 5.3 0.3 -90.9 0.3 190.6 0.4 -21.0 0.3 -155.8 0.3 182.1 0.3 -63.1 0.4 -119.8 0.3 126.2 0.3 -99.2 0.4 60.2 0.3 -70.1 0.3 153.3 0.4 -74.3 0.3 -121.0 0.3 116.8 0.3 -28.4 0.4 25.7 0.3 -83.2 0.3 42.0 0.4 130.2 0.3 -172.2 0.3 4.0 0.4 209.5 0.3 -77.1 0.3 -30.8 0.3 23.5 0.4 14.6 0.3 -53.6 0.3 -59.3 0.4 -17.5 0.3 113.2 0.3 -88.7 0.4 -40.5 0.3 84.6 0.3 -8.3 0.3 94.1 0.4 -21.7 0.3 -46.3 0.3 -123.0 0.4 166.5 0.3 -22.4 0.3 -80.1 0.4 -35.9 0.3 106.0 0.3 -61.0 0.3 -88.5 0.4 41.4 0.3 -51.2 0.3 35.1 0.4 91.2 0.3 -84.3 0.3 44.8 0.4 -71.2 0.3 40.1 0.3 -3.7 0.3 -56.0 0.4 123.0 0.3 52.1 0.3 -56.1 0.4 -63.0 0.3 -26.1 0.3 19.5 0.4 85.0 0.3 26.6 0.3 -41.7 0.3 -100.2 0.4 48.1 0.3 -21.6 0.3 -7.1 0.4 57.1 0.3 -74.8 0.3 32.0 0.4 -60.2 0.3 -.1 0.3 87.7 0.3 45.0 0.4 -107.9 0.3 -35.0 0.3 -27.8 0.4 78.3 0.3 78.5 0.3 -87.7 0.4 -45.5 0.3 34.9 0.3 -35.4 0.3 141.6 0.4 -87.7 0.3 64.8 0.3 14.3 0.4 -58.1 0.3 30.1 0.3 -82.2 0.4 -52.9 0.3 55.4 0.3 31.7 0.3 46.0 0.4 -56.6 0.3 -97.7 0.3 15.3 0.4 -30.9 0.3 10.8 0.3 74.0 0.4 -19.9 0.3 31.7 0.3 -97.7 0.3 56.5 0.4 26.9 0.3 89.3 0.3 -44.0 0.4 -179.8 0.3 87.2 0.3 -66.3 0.4 196.8 0.3 -185.5 0.3 -11.1 0.4 133.9 0.3 -145.6 0.3 145.6 0.3 -98.9 0.4 62.2 0.3 8.1 0.3 11.6 0.4 48.6 0.3 -154.2 0.3 135.3 0.4 -177.5 0.3 -6.4 0.3 82.4 0.3 69.3 0.4 -46.5 0.3 -60.2 0.3 90.8 0.4 14.6 0.3 -122.2 0.3 194.5 0.4 -256.3 0.3 .0 0.3 .0 0.3 .0 0.4 .0 0.3 .0 0.3 39.9 0.4 150.1 0.3 -46.3 0.3 -33.8 0.4 16.9 0.3 6.4 0.3 56.8 0.3 -89.9 0.4 148.3 0.3 -108.8 0.3 79.5 0.4 -184.8 0.3 12.4 0.3 164.3 0.4 -58.1 0.3 26.1 0.3 -110.1 0.3 99.2 0.4 70.3 0.3 -61.9 0.3 96.4 0.4 -75.8 0.3 -60.5 0.3 53.7 0.4 33.2 0.3 -1.0 0.3 -146.2 0.3 60.2 0.4 146.4 0.3 -68.7 0.3 -7.0 0.4 -40.8 0.3 78.3 0.3 -37.3 0.4 -110.8 0.3 62.3 0.3 -12.9 0.3 73.8 0.4 60.9 0.3 -97.8 0.3 53.5 0.4 -32.3 0.3 -8.0 0.3 48.2 0.4 -105.0 0.3 3.4 0.3 -40.9 0.3 64.1 0.4 -31.6 0.3 65.6 0.3 86.6 0.4 -21.3 0.3 -41.4 0.3 -83.3 0.4 1.0 0.3 162.7 0.3 -180.4 0.3 127.6 0.4 -22.4 0.3 -26.2 0.3 42.9 0.4 -20.1 0.3 -2.3 0.3 -45.0 0.4 -43.1 0.3 107.3 0.3 -93.9 0.3 168.7 0.4 -23.0 0.3 -54.9 0.3 22.4 0.4 -39.9 0.3 70.4 0.3 -69.6 0.4 120.5 0.3 -86.9 0.3 69.3 0.3 -101.8 0.4 147.4 0.3 -77.0 0.3 -91.2 0.4 81.6 0.3 34.8 0.3 -33.8 0.4 -34.8 0.3 58.4 0.3 -107.2 0.3 70.3 0.4 -40.9 0.3 41.9 0.3 -87.6 0.4 91.7 0.3 2.9 0.3 123.4 0.4 -92.3 0.3 -5.6 0.3 -48.7 0.3 -32.3 0.4 49.4 0.3 35.1 0.3 1.8 0.4 -94.3 0.3 96.3 0.3 83.3 0.4 -185.3 0.3 193.8 0.3 -129.4 0.3 132.9 0.4 -9.1 0.3 -171.3 0.3 230.6 0.4 .0 0.3 .0 0.3 .0 0.4 .0 0.3 .0 0.3 -168.1 0.3 -11.5 0.4 -8.9 0.3 114.8 0.3 -166.0 0.4 87.1 0.3 103.4 0.3 -77.3 0.4 -2.8 0.3 -25.6 0.3 75.9 0.3 -135.2 0.4 32.1 0.3 70.3 0.3 -51.5 0.4 48.7 0.3 -56.7 0.3 7.5 0.4 17.7 0.3 29.3 0.3 -28.8 0.3 56.1 0.4 -81.8 0.3 40.6 0.3 -6.7 0.4 -37.0 0.3 106.7 0.3 -97.3 0.4 -83.8 0.3 74.8 0.3 43.9 0.3 502.3 0.4 -116.3 0.3 -148.0 0.3 163.1 0.4 -77.0 0.3 28.1 0.3 -63.6 0.4 -5.0 0.3 87.3 0.3 -16.8 0.3 90.7 0.4 -58.6 0.3 -119.5 0.3 82.6 0.4 22.4 0.3 -14.7 0.3 -47.4 0.4 33.4 0.3 84.3 0.3 -72.6 0.3 -96.7 0.4 81.8 0.3 63.0 0.3 -73.6 0.4 -54.4 0.3 11.2 0.3 80.2 0.4 -53.0 0.3 90.4 0.3 -94.8 0.3 146.5 0.4 -178.2 0.3 75.7 0.3 -2.2 0.4 -25.5 0.3 39.9 0.3 -49.4 0.4 -36.2 0.3 66.9 0.3 -11.3 0.3 24.1 0.4 26.4 0.3 42.6 0.3 -153.4 0.4 -2.1 0.3 191.9 0.3 -217.5 0.4 33.7 0.3 98.4 0.3 -134.4 0.4 144.3 0.3 -118.0 0.3 166.7 0.3 -22.3 0.4 -168.1 0.3 64.5 0.3 -24.5 0.4 38.3 0.3 -35.0 0.3 -63.9 0.4 160.5 0.3 -147.1 0.3 77.9 0.3 -44.4 0.4 160.6 0.3 -102.9 0.3 55.0 0.4 59.6 0.3 -58.7 0.3 18.7 0.4 36.5 0.3 -137.0 0.3 -45.5 0.3 153.0 0.4 43.0 0.3 -52.2 0.3 -59.5 0.4 -95.0 0.3 18.3 0.3 -5.2 0.4 148.0 0.3 -101.8 0.3 66.0 0.3 -134.9 0.4 35.6 0.3 .5 0.3 -51.3 0.4 58.5 0.3 75.3 0.3 59.7 0.4 -27.7 0.3 -9.8 0.3 -3.9 0.3 46.5 0.4 -42.8 0.3 -108.4 0.3 56.6 0.4 -32.3 0.3 -.3 0.3 -22.3 0.4 52.9 0.3 95.7 0.3 -110.5 0.3 120.5 0.4 -113.9 0.3 38.4 0.3 57.5 0.4 -95.6 0.3 18.0 0.3 88.9 0.4 -143.1 0.3 -13.2 0.3 148.0 0.3 -30.5 0.4 -50.1 0.3 -27.5 0.3 -21.7 0.4 64.2 0.3 -6.0 0.3 30.3 0.4 -122.7 0.3 17.7 0.3 44.2 0.3 26.0 0.4 30.1 0.3 -144.6 0.3 80.0 0.4 -8.9 0.3 87.8 0.3 -94.1 0.4 68.5 0.3 -25.8 0.3 -80.5 0.3 135.3 0.4 -119.0 0.3 64.4 0.3 75.3 0.4 -173.8 0.3 71.1 0.3 67.6 0.4 26.3 0.3 -150.5 0.3 103.4 0.3 -53.6 0.4 -33.5 0.3 -17.5 0.3 62.9 0.4 -63.6 0.3 76.2 0.3 -83.3 0.4 196.0 0.3 -60.4 0.3 27.5 0.3 -58.0 0.4 -73.9 0.3 142.9 0.3 -206.2 0.4 199.1 0.3 2.6 0.3 -44.5 0.4 -82.5 0.3 45.6 0.3 -68.2 0.3 50.4 0.4 -18.4 0.3 80.3 0.3 -131.8 0.4 56.2 0.3 21.2 0.3 -5.1 0.4 68.1 0.3 -103.4 0.3 1.0 0.3 -11.9 0.4 35.2 0.3 11.3 0.3 101.9 0.4 1.3 0.3 -42.6 0.3 -97.7 0.4 130.2 0.3 23.8 0.3 -133.8 0.3 93.5 0.4 -126.1 0.3 87.4 0.3 -76.7 0.4 -.2 0.3 89.0 0.3 -19.8 0.4 -11.0 0.3 150.1 0.3 -242.4 0.3 38.3 0.4 112.1 0.3 69.2 0.3 -224.7 0.4 120.0 0.3 -8.8 0.3 -103.5 0.4 121.7 0.3 7.6 0.3 -63.6 0.3 90.5 0.4 -94.5 0.3 -14.4 0.3 -13.1 0.4 -49.7 0.3 83.2 0.3 -17.8 0.4 89.4 0.3 -148.7 0.3 225.0 0.3 -75.7 0.4 -95.3 0.3 17.3 0.3 -22.9 0.4 1.8 0.3 57.1 0.3 -93.3 0.4 -32.8 0.3 202.0 0.3 -110.2 0.3 53.8 0.4 -63.1 0.3 107.1 0.3 -146.4 0.4 .5 0.3 173.2 0.3 -150.7 0.4 47.7 0.3 -42.6 0.3 26.6 0.3 -76.4 0.4 32.9 0.3 -47.8 0.3 231.5 0.4 -118.3 0.3 -48.7 0.3 -48.5 0.4 133.1 0.3 -4.8 0.3 18.5 0.3 -114.3 0.4 56.6 0.3 16.5 0.3 30.8 0.4 19.3 0.3 27.6 0.3 -108.5 0.4 104.1 0.3 -73.0 0.3 -48.2 0.3 -93.2 0.4 133.0 0.3 23.8 0.3 -132.6 0.4 169.2 0.3 -75.1 0.3 -29.3 0.4 84.7 0.3 -84.0 0.3 151.7 0.3 -110.6 0.4 22.5 0.3 6.3 0.3 -19.8 0.4 -9.0 0.3 -12.4 0.3 -46.0 0.4 -10.0 0.3 39.2 0.3 125.1 0.4 -103.9 0.3 -79.4 0.3 61.2 0.3 56.2 0.4 59.5 0.3 17.3 0.3 -95.5 0.4 -31.3 0.3 35.0 0.3 -98.8 0.4 38.9 0.3 -6.1 0.3 136.0 0.3 -16.0 0.4 -135.1 0.3 -30.1 0.3 71.0 0.4 -46.7 0.3 16.9 0.3 24.3 0.4 165.9 0.3 -242.2 0.3 205.7 0.3 -43.2 0.4 -107.3 0.3 -16.5 0.3 118.9 0.4 -28.6 0.3 -46.2 0.3 27.8 0.4 23.2 0.3 -26.0 0.3 -49.9 0.3 70.0 0.4 18.7 0.3 -84.7 0.3 104.7 0.4 -40.7 0.3 -104.1 0.3 83.5 0.4 -69.8 0.3 69.5 0.3 -46.0 0.3 117.8 0.4 -20.5 0.3 -105.5 0.3 -22.9 0.4 1.0 0.3 50.9 0.3 44.1 0.4 31.2 0.3 60.5 0.3 -177.2 0.3 145.4 0.4 -83.7 0.3 96.8 0.3 -95.0 0.4 22.4 0.3 21.7 0.3 38.6 0.4 -67.8 0.3 17.9 0.3 27.5 0.3 80.2 0.4 -59.3 0.3 -114.0 0.3 -10.0 0.4 -14.5 0.3 169.2 0.3 -243.4 0.4 88.4 0.3 151.5 0.3 -63.5 0.3 -27.7 0.4 31.8 0.3 18.7 0.3 -161.3 0.4 104.5 0.3 -59.3 0.3 71.5 0.4 -37.8 0.3 48.9 0.3 -4.1 0.3 -115.0 0.4 54.4 0.3 -15.5 0.3 144.6 0.4 -182.7 0.3 200.2 0.3 -163.1 0.4 -21.6 0.3 5.0 0.3 92.5 0.3 -85.9 0.4 67.2 0.3 29.8 0.3 -55.3 0.4 -42.4 0.3 89.5 0.3 52.7 0.4 -172.0 0.3 79.3 0.3 -8.5 0.3 -18.3 0.4 114.1 0.3 -117.3 0.3 100.7 0.4 -64.2 0.3 -66.1 0.3 1.6 0.4 12.1 0.3 -55.2 0.3 95.4 0.3 106.0 0.4 -11.5 0.3 -96.9 0.3 138.8 0.4 -45.4 0.3 65.1 0.3 -99.9 0.4 -138.4 0.3 133.3 0.3 -76.1 0.3 114.6 0.4 -189.7 0.3 107.2 0.3 -27.7 0.4 -16.4 0.3 110.3 0.3 -163.1 0.4 97.3 0.3 7.6 0.3 -23.1 0.3 -49.5 0.4 50.2 0.3 28.8 0.3 28.5 0.4 -28.1 0.3 -123.4 0.3 179.9 0.4 -13.3 0.3 -2.6 0.3 -106.0 0.3 -41.4 0.4 209.3 0.3 13.4 0.3 -22.2 0.4 -184.4 0.3 41.8 0.3 124.3 0.4 -161.8 0.3 188.1 0.3 -100.8 0.3 -125.7 0.4 156.7 0.3 -8.2 0.3 -33.4 0.4 -9.4 0.3 -19.5 0.3 124.3 0.4 -125.8 0.3 11.0 0.3 168.4 0.3 -68.7 0.4 -141.0 0.3 160.3 0.3 -33.5 0.4 -114.8 0.3 -77.5 0.3 109.2 0.4 10.1 0.3 4.3 0.3 -4.0 0.3 29.6 0.4 -67.2 0.3 105.7 0.3 -75.6 0.4 116.0 0.3 -196.1 0.3 -1.0 0.4 56.7 0.3 91.5 0.3 14.0 0.3 -85.0 0.4 1.6 0.3 129.4 0.3 -102.3 0.4 -138.3 0.3 53.6 0.3 45.3 0.4 60.4 0.3 -131.1 0.3 37.1 0.3 17.9 0.4 122.4 0.3 -54.5 0.3 -1.1 0.4 -39.1 0.3 -96.9 0.3 64.4 0.4 42.7 0.3 -44.6 0.3 137.9 0.3 -42.5 0.4 -73.0 0.3 90.1 0.3 -140.3 0.4 23.2 0.3 121.4 0.3 -19.5 0.4 -115.1 0.3 28.4 0.3 101.8 0.3 -86.6 0.4 129.1 0.3 -194.3 0.3 117.1 0.4 -23.2 0.3 -9.9 0.3 3.1 0.4 -49.4 0.3 84.7 0.3 72.8 0.4 17.2 0.3 -68.4 0.3 55.6 0.3 -22.4 0.4 -39.5 0.3 -87.5 0.3 132.4 0.4 -13.5 0.3 54.4 0.3 -221.1 0.4 -11.8 0.3 81.8 0.3 96.9 0.3 -221.5 0.4 141.7 0.3 -144.6 0.3 .0 0.4 .0 0.3 .0 0.3 .0 0.4 .0 0.3 .0 0.3 248.2 0.3 -184.1 0.4 98.8 0.3 -94.6 0.3 -20.2 0.4 182.5 0.3 -73.5 0.3 -111.9 0.4 14.7 0.3 44.4 0.3 -8.6 0.3 46.6 0.4 -95.2 0.3 159.1 0.3 -14.1 0.4 -177.0 0.3 156.6 0.3 20.4 0.4 -44.7 0.3 -73.7 0.3 29.0 0.3 66.6 0.4 -1.7 0.3 -100.2 0.3 -9.7 0.4 47.4 0.3 106.1 0.3 -57.7 0.4 68.9 0.3 -147.1 0.3 91.2 0.3 -127.9 0.4 154.4 0.3 -75.9 0.3 -75.1 0.4 63.6 0.3 21.4 0.3 -15.9 0.4 34.0 0.3 98.4 0.3 -157.8 0.3 105.1 0.4 -27.0 0.3 -78.3 0.3 64.3 0.4 -72.7 0.3 37.4 0.3 71.0 0.4 28.7 0.3 -87.1 0.3 91.4 0.3 -6.2 0.4 -61.9 0.3 19.3 0.3 -.2 0.4 -9.2 0.3 1.1 0.3 -38.0 0.4 -7.6 0.3 110.0 0.3 -19.4 0.3 14.4 0.4 -102.9 0.3 68.8 0.3 10.7 0.4 -93.1 0.3 -5.2 0.3 142.7 0.4 -60.9 0.3 -102.8 0.3 40.8 0.3 47.0 0.4 -2.6 0.3 -74.0 0.3 16.9 0.4 88.7 0.3 36.8 0.3 -86.4 0.4 46.4 0.3 -103.2 0.3 143.8 0.3 -39.6 0.4 -89.3 0.3 25.9 0.3 109.0 0.4 28.3 0.3 -128.4 0.3 -27.6 0.4 5.3 0.3 47.5 0.3 -118.9 0.3 213.7 0.4 -166.4 0.3 -18.2 0.3 112.6 0.4 57.6 0.3 -145.7 0.3 116.4 0.4 -63.4 0.3 -30.6 0.3 -26.6 0.3 102.4 0.4 -123.1 0.3 205.6 0.3 -171.6 0.4 -15.3 0.3 106.2 0.3 -124.4 0.4 172.8 0.3 -165.7 0.3 -4.5 0.3 119.3 0.4 -31.0 0.3 14.9 0.3 30.9 0.4 -11.1 0.3 -82.8 0.3 122.6 0.4 -142.1 0.3 71.8 0.3 66.4 0.3 23.2 0.4 -215.1 0.3 95.9 0.3 65.4 0.4 1.7 0.3 -34.6 0.3 18.1 0.4 70.5 0.3 -6.0 0.3 -121.1 0.3 -2.3 0.4 82.1 0.3 9.4 0.3 -145.9 0.4 34.0 0.3 16.2 0.3 112.2 0.4 -19.0 0.3 -.6 0.3 -104.0 0.3 14.8 0.4 74.3 0.3 -28.6 0.3 15.5 0.4 -56.5 0.3 29.5 0.3 -67.8 0.4 100.4 0.3 64.9 0.3 -55.1 0.3 -22.2 0.4 7.5 0.3 20.4 0.3 -73.2 0.4 -41.2 0.3 12.2 0.3 20.0 0.4 15.8 0.3 107.2 0.3 -97.3 0.3 17.3 0.4 131.6 0.3 -81.5 0.3 44.8 0.4 -13.9 0.3 -109.5 0.3 94.0 0.4 -168.0 0.3 132.8 0.3 -106.4 0.3 9.1 0.4 106.1 0.3 75.2 0.3 -214.9 0.4 106.4 0.3 -29.2 0.3 65.8 0.4 68.8 0.3 -142.9 0.3 -27.9 0.3 35.3 0.4 -103.6 0.3 87.9 0.3 -31.0 0.4 128.5 0.3 -108.9 0.3 -41.8 0.4 167.9 0.3 -149.8 0.3 -11.9 0.4 1.9 0.3 145.4 0.3 -39.4 0.3 -8.7 0.4 -9.5 0.3 6.8 0.3 -59.2 0.4 1.4 0.3 -44.6 0.3 89.4 0.4 -101.8 0.3 174.0 0.3 -152.3 0.3 18.2 0.4 12.1 0.3 -5.5 0.3 -50.0 0.4 121.9 0.3 -98.1 0.3 -42.6 0.4 14.0 0.3 175.3 0.3 -12.9 0.3 -86.7 0.4 -9.2 0.3 90.3 0.3 -45.6 0.4 3.0 0.3 40.7 0.3 -89.9 0.4 14.0 0.3 -30.5 0.3 -61.0 0.3 138.7 0.4 58.1 0.3 -144.3 0.3 94.0 0.4 -43.3 0.3 -23.9 0.3 14.7 0.4 87.8 0.3 -76.1 0.3 47.7 0.3 -43.8 0.4 62.9 0.3 -103.2 0.3 115.3 0.4 -10.0 0.3 -138.5 0.3 -.5 0.4 113.3 0.3 -149.1 0.3 66.2 0.3 -76.6 0.4 175.9 0.3 -162.9 0.3 15.7 0.4 -32.1 0.3 .0 0.3 .0 0.4 .0 0.3 .0 0.3 .0 0.3 150.3 0.4 15.4 0.3 -62.9 0.3 69.0 0.4 -181.4 0.3 242.4 0.3 -128.8 0.4 -82.4 0.3 48.8 0.3 103.0 0.3 .5 0.4 -47.8 0.3 -29.8 0.3 52.3 0.4 -171.8 0.3 131.5 0.3 62.9 0.4 -155.2 0.3 132.6 0.3 -106.2 0.3 67.9 0.4 82.6 0.3 -48.4 0.3 11.8 0.4 -91.6 0.3 118.2 0.3 -118.6 0.4 113.0 0.3 -135.7 0.3 -29.7 0.3 -3.2 0.4 115.6 0.3 -71.3 0.3 155.1 0.4 -24.4 0.3 -160.5 0.3 194.3 0.4 -226.5 0.3 191.3 0.3 -66.9 0.3 6.1 0.4 5.2 0.3 -23.5 0.3 -65.9 0.4 25.5 0.3 136.1 0.3 -94.5 0.4 14.5 0.3 -172.5 0.3 .0 0.3 .0 0.4 .0 0.3 .0 0.3 .0 0.4 44.3 0.3 171.8 0.3 43.9 0.4 -7.4 0.3 24.1 0.3 -60.8 0.3 -34.5 0.4 -58.7 0.3 118.0 0.3 -161.2 0.4 131.4 0.3 53.4 0.3 -37.3 0.4 37.5 0.3 -64.7 0.3 -117.7 0.3 131.6 0.4 17.4 0.3 -8.8 0.3 4.0 0.4 -31.5 0.3 88.3 0.3 -31.7 0.4 -96.8 0.3 -27.2 0.3 -45.2 0.3 110.2 0.4 79.4 0.3 -130.4 0.3 104.4 0.4 -132.5 0.3 68.6 0.3 -42.1 0.4 30.7 0.3 26.5 0.3 39.5 0.3 -50.1 0.4 -49.3 0.3 -21.4 0.3 134.3 0.4 -95.9 0.3 -48.2 0.3 137.7 0.4 -153.0 0.3 124.5 0.3 -96.1 0.3 148.3 0.4 -82.1 0.3 46.7 0.3 -47.9 0.4 11.7 0.3 -11.9 0.3 7.9 0.4 -37.2 0.3 117.4 0.3 -175.5 0.3 18.8 0.4 197.0 0.3 -169.4 0.3 -18.5 0.4 29.5 0.3 20.3 0.3 81.7 0.4 3.0 0.3 -134.6 0.3 119.7 0.3 17.0 0.4 -99.6 0.3 36.9 0.3 4.0 0.4 60.5 0.3 -178.5 0.3 113.9 0.4 65.2 0.3 -8.4 0.3 -58.7 0.3 -7.0 0.4 -2.7 0.3 -14.7 0.3 7.8 0.4 113.7 0.3 -105.4 0.3 -16.2 0.4 -25.8 0.3 -55.2 0.3 113.8 0.3 -39.1 0.4 116.5 0.3 -93.8 0.3 31.4 0.4 51.1 0.3 -175.8 0.3 183.8 0.4 -40.5 0.3 43.4 0.3 -111.0 0.3 3.1 0.4 -32.8 0.3 -2.5 0.3 4.3 0.4 61.5 0.3 -91.9 0.3 117.1 0.4 -148.5 0.3 133.3 0.3 -77.1 0.4 214.9 0.3 -127.1 0.3 31.2 0.3 -122.5 0.4 138.5 0.3 -17.8 0.3 -103.7 0.4 7.2 0.3 -66.7 0.3 19.5 0.4 -47.0 0.3 99.1 0.3 -13.9 0.3 -90.7 0.4 160.6 0.3 -20.6 0.3 42.9 0.4 -99.5 0.3 50.2 0.3 23.6 0.4 -25.3 0.3 -8.6 0.3 42.9 0.3 -135.2 0.4 -24.0 0.3 96.3 0.3 -53.3 0.4 78.6 0.3 -58.3 0.3 73.3 0.4 44.6 0.3 -16.1 0.3 -153.3 0.3 57.9 0.4 27.3 0.3 -4.5 0.3 49.4 0.4 -122.1 0.3 -15.6 0.3 161.8 0.4 -61.3 0.3 70.2 0.3 -114.8 0.3 114.1 0.4 -50.8 0.3 -61.2 0.3 9.3 0.4 104.0 0.3 -78.5 0.3 48.9 0.4 6.0 0.3 23.3 0.3 1.4 0.3 -54.0 0.4 46.7 0.3 -142.9 0.3 122.3 0.4 -52.6 0.3 -75.4 0.3 64.5 0.4 56.7 0.3 10.8 0.3 -143.2 0.3 134.3 0.4 -23.5 0.3 14.9 0.3 6.1 0.4 -72.5 0.3 162.4 0.3 -130.8 0.4 100.2 0.3 -88.2 0.3 24.4 0.3 -22.7 0.4 69.5 0.3 -55.8 0.3 85.3 0.4 -65.8 0.3 -153.8 0.3 84.1 0.4 9.5 0.3 69.0 0.3 32.7 0.3 -132.9 0.4 5.4 0.3 66.6 0.3 37.4 0.4 -148.3 0.3 18.7 0.3 108.3 0.4 9.8 0.3 -101.3 0.3 114.9 0.3 -135.2 0.4 29.2 0.3 36.1 0.3 -63.6 0.4 162.9 0.3 -47.7 0.3 .7 0.4 -126.8 0.3 20.9 0.3 -55.9 0.3 117.6 0.4 -43.7 0.3 -54.5 0.3 .6 0.4 34.7 0.3 34.4 0.3 51.2 0.4 72.7 0.3 -109.3 0.3 -100.1 0.3 11.7 0.4 100.7 0.3 -15.0 0.3 -15.0 0.4 52.9 0.3 -97.2 0.3 92.0 0.4 -137.7 0.3 3.5 0.3 34.9 0.3 39.7 0.4 -6.0 0.3 133.2 0.3 -82.2 0.4 80.0 0.3 -59.6 0.3 -28.5 0.4 -18.4 0.3 -48.1 0.3 -74.5 0.3 .0 0.4 .0 0.3 .0 0.3 .0 0.4 .0 0.3 152.4 0.3 -141.8 0.4 204.5 0.3 18.9 0.3 25.3 0.3 -116.3 0.4 92.3 0.3 -38.4 0.3 51.7 0.4 -100.0 0.3 101.6 0.3 13.6 0.4 -74.9 0.3 -113.0 0.3 81.0 0.3 -37.3 0.4 -47.4 0.3 79.3 0.3 -79.9 0.4 96.4 0.3 15.8 0.3 33.0 0.4 -129.0 0.3 120.5 0.3 -79.6 0.3 -34.1 0.4 158.5 0.3 -131.3 0.3 -56.1 0.4 -34.6 0.3 105.1 0.3 18.7 0.4 -111.9 0.3 61.5 0.3 -60.7 0.3 111.3 0.4 -31.8 0.3 123.3 0.3 -21.0 0.4 -79.3 0.3 -30.9 0.3 39.5 0.4 35.6 0.3 -100.9 0.3 76.2 0.3 33.3 0.4 -19.3 0.3 66.6 0.3 -24.4 0.4 14.7 0.3 -181.0 0.3 21.4 0.4 154.2 0.3 -27.9 0.3 -132.2 0.3 63.4 0.4 101.7 0.3 -35.4 0.3 74.7 0.4 -87.1 0.3 -45.4 0.3 -97.8 0.4 87.4 0.3 44.8 0.3 -81.3 0.3 63.6 0.4 -19.0 0.3 -41.0 0.3 121.7 0.4 -29.8 0.3 -129.2 0.3 185.3 0.4 -63.5 0.3 16.1 0.3 22.4 0.3 -126.7 0.4 189.4 0.3 -192.7 0.3 129.9 0.4 5.3 0.3 -111.4 0.3 140.6 0.4 -119.7 0.3 -39.4 0.3 12.1 0.4 -4.1 0.3 158.2 0.3 38.1 0.3 -117.1 0.4 76.3 0.3 -69.6 0.3 -39.5 0.4 90.8 0.3 -98.4 0.3 -38.8 0.4 118.9 0.3 45.9 0.3 -104.8 0.3 7.2 0.4 -20.9 0.3 -28.2 0.3 99.7 0.4 26.1 0.3 -99.0 0.3 55.5 0.4 45.0 0.3 29.5 0.3 -60.8 0.3 -120.5 0.4 143.7 0.3 -58.0 0.3 -98.3 0.4 54.6 0.3 50.5 0.3 -76.6 0.4 -48.0 0.3 78.9 0.3 29.6 0.3 16.1 0.4 -86.6 0.3 20.1 0.3 -29.0 0.4 65.8 0.3 -15.4 0.3 -102.9 0.4 15.5 0.3 127.7 0.3 80.5 0.3 -159.9 0.4 -50.8 0.3 168.9 0.3 -32.8 0.4 -104.0 0.3 23.3 0.3 45.8 0.4 -24.4 0.3 35.8 0.3 -91.2 0.3 33.9 0.4 -17.6 0.3 -3.8 0.3 58.3 0.4 -56.0 0.3 -47.8 0.3 113.8 0.4 -72.6 0.3 54.3 0.3 -60.9 0.3 47.4 0.4 34.1 0.3 -63.6 0.3 95.2 0.4 -35.6 0.3 50.3 0.3 -10.1 0.4 -114.9 0.3 -50.1 0.3 139.0 0.3 10.2 0.4 -9.6 0.3 -118.9 0.3 45.8 0.4 69.6 0.3 -20.7 0.3 42.8 0.4 -40.3 0.3 -45.8 0.3 154.8 0.3 -112.5 0.4 15.9 0.3 90.5 0.3 -150.7 0.4 125.4 0.3 -49.4 0.3 31.6 0.4 -140.7 0.3 44.2 0.3 47.8 0.3 25.4 0.4 -15.2 0.3 38.5 0.3 5.2 0.4 -147.4 0.3 85.6 0.3 -16.8 0.4 73.7 0.3 -14.1 0.3 34.2 0.3 -58.7 0.4 -159.7 0.3 92.0 0.3 109.5 0.4 -78.9 0.3 77.3 0.3 -134.3 0.4 163.9 0.3 -104.7 0.3 -84.0 0.3 113.0 0.4 -3.9 0.3 -67.1 0.3 26.8 0.4 10.3 0.3 45.4 0.3 -130.8 0.4 61.1 0.3 27.9 0.3 58.2 0.3 -117.5 0.4 35.8 0.3 7.3 0.3 1.1 0.4 -65.7 0.3 33.4 0.3 60.0 0.4 -88.7 0.3 -2.0 0.3 25.7 0.3 61.9 0.4 81.2 0.3 -141.4 0.3 11.1 0.4 -26.7 0.3 -41.8 0.3 52.2 0.4 -5.1 0.3 21.0 0.3 64.5 0.3 -37.1 0.4 -12.9 0.3 -8.1 0.3 56.5 0.4 -73.4 0.3 30.7 0.3 117.6 0.4 -204.5 0.3 -31.2 0.3 13.6 0.3 226.6 0.4 -189.7 0.3 8.7 0.3 149.3 0.4 -40.9 0.3 -72.4 0.3 60.7 0.4 33.0 0.3 -96.0 0.3 -39.1 0.3 53.9 0.4 -104.6 0.3 80.8 0.3 80.2 0.4 -97.5 0.3 -61.3 0.3 .0 0.4 .0 0.3 .0 0.3 .0 0.3 .0 0.4 201.9 0.3 -67.7 0.3 70.3 0.4 -194.0 0.3 39.8 0.3 109.9 0.4 65.5 0.3 -97.2 0.3 104.5 0.3 -175.7 0.4 180.8 0.3 -137.3 0.3 20.1 0.4 -78.6 0.3 -33.5 0.3 75.5 0.4 68.1 0.3 -42.3 0.3 -10.6 0.3 13.4 0.4 113.9 0.3 -107.7 0.3 67.2 0.4 -7.2 0.3 -12.1 0.3 -95.3 0.4 -12.5 0.3 55.8 0.3 62.6 0.3 -49.1 0.4 -76.6 0.3 80.6 0.3 -82.0 0.4 73.5 0.3 83.5 0.3 -161.6 0.4 44.9 0.3 -35.6 0.3 150.9 0.3 3.8 0.4 -151.4 0.3 133.6 0.3 -1.3 0.4 -65.5 0.3 20.9 0.3 -88.4 0.4 43.3 0.3 -21.2 0.3 55.0 0.4 4.9 0.3 -7.1 0.3 44.6 0.3 5.3 0.4 44.9 0.3 -132.8 0.3 78.5 0.4 -67.8 0.3 121.5 0.3 -150.8 0.4 97.0 0.3 116.9 0.3 -79.5 0.3 -69.9 0.4 92.7 0.3 26.1 0.3 -88.2 0.4 -8.1 0.3 40.5 0.3 -134.4 0.4 4.8 0.3 -27.1 0.3 -25.3 0.3 83.3 0.4 29.0 0.3 138.5 0.3 -23.4 0.4 -80.8 0.3 -4.4 0.3 58.4 0.4 -39.3 0.3 13.8 0.3 74.0 0.3 -189.7 0.4 136.5 0.3 34.8 0.3 -37.3 0.4 -39.4 0.3 -122.6 0.3 73.7 0.4 83.3 0.3 19.5 0.3 -8.3 0.3 -127.9 0.4 15.1 0.3 19.6 0.3 52.4 0.4 -116.5 0.3 200.8 0.3 -123.1 0.4 71.1 0.3 -53.1 0.3 -79.1 0.3 -5.8 0.4 80.3 0.3 19.9 0.3 74.5 0.4 -163.0 0.3 194.9 0.3 -113.1 0.4 -48.2 0.3 124.3 0.3 26.7 0.3 -153.9 0.4 18.9 0.3 101.2 0.3 -143.4 0.4 41.1 0.3 92.7 0.3 -57.0 0.4 -94.6 0.3 -2.3 0.3 31.6 0.3 -27.2 0.4 175.0 0.3 -117.5 0.3 32.5 0.4 22.4 0.3 61.1 0.3 -122.5 0.4 70.5 0.3 25.4 0.3 -81.2 0.3 5.7 0.4 115.9 0.3 -188.6 0.3 107.5 0.4 -73.3 0.3 -9.9 0.3 167.2 0.4 -129.7 0.3 11.4 0.3 71.1 0.3 -50.3 0.4 2.9 0.3 -114.7 0.3 148.0 0.4 -9.7 0.3 -38.5 0.3 16.8 0.4 -93.5 0.3 138.9 0.3 -24.5 0.3 25.5 0.4 -148.8 0.3 99.7 0.3 -38.8 0.4 -93.3 0.3 62.8 0.3 2.6 0.4 -14.1 0.3 50.1 0.3 114.9 0.3 -40.3 0.4 -57.1 0.3 -32.6 0.3 107.2 0.4 -151.6 0.3 121.4 0.3 -124.6 0.4 42.5 0.3 22.9 0.3 76.0 0.3 -24.0 0.4 34.5 0.3 -6.3 0.3 -12.6 0.4 -114.2 0.3 -11.0 0.3 88.1 0.4 30.3 0.3 -110.3 0.3 59.0 0.3 -16.9 0.4 45.8 0.3 -78.0 0.3 45.6 0.4 -38.5 0.3 -27.0 0.3 117.9 0.4 -74.4 0.3 6.5 0.3 -82.7 0.3 139.9 0.4 -43.5 0.3 -5.8 0.3 -6.0 0.4 -79.7 0.3 .4 0.3 5.9 0.4 7.0 0.3 10.7 0.3 21.7 0.3 14.3 0.4 2.9 0.3 74.5 0.3 -124.7 0.4 89.0 0.3 -38.3 0.3 41.5 0.4 60.7 0.3 -209.9 0.3 143.3 0.3 11.3 0.4 -115.1 0.3 226.2 0.3 -217.0 0.4 28.1 0.3 74.9 0.3 -34.5 0.4 -93.1 0.3 -36.4 0.3 .0 0.3 .0 0.4 .0 0.3 .0 0.3 .0 0.4 116.0 0.3 14.1 0.3 124.5 0.4 -34.1 0.3 -143.3 0.3 50.4 0.3 -51.9 0.4 29.8 0.3 36.5 0.3 -18.7 0.4 43.5 0.3 -68.9 0.3 65.1 0.4 50.9 0.3 -41.0 0.3 -35.5 0.3 -66.3 0.4 95.4 0.3 -53.3 0.3 104.2 0.4 -29.7 0.3 50.1 0.3 -35.6 0.4 -144.6 0.3 70.5 0.3 -74.3 0.3 80.1 0.4 30.7 0.3 57.4 0.3 -58.8 0.4 17.4 0.3 -66.3 0.3 -20.8 0.4 -12.7 0.3 126.4 0.3 -94.8 0.3 -50.0 0.4 185.5 0.3 -161.5 0.3 73.1 0.4 -141.6 0.3 172.7 0.3 -174.6 0.4 143.0 0.3 38.2 0.3 -23.5 0.4 -103.5 0.3 100.4 0.3 -114.8 0.3 13.1 0.4 102.0 0.3 -110.1 0.3 61.4 0.4 -37.9 0.3 37.2 0.3 91.4 0.4 31.3 0.3 -136.7 0.3 -9.9 0.3 88.1 0.4 -100.3 0.3 158.4 0.3 -181.5 0.4 68.3 0.3 1.1 0.3 -73.6 0.4 45.3 0.3 118.9 0.3 -169.4 0.3 159.6 0.4 -81.9 0.3 15.0 0.3 1.7 0.4 -9.6 0.3 -49.8 0.3 98.5 0.4 -92.1 0.3 138.7 0.3 -4.5 0.3 -122.4 0.4 10.7 0.3 -65.8 0.3 80.2 0.4 92.4 0.3 -113.1 0.3 135.6 0.4 -170.4 0.3 -29.6 0.3 161.0 0.3 -9.7 0.4 23.6 0.3 -57.7 0.3 -.2 0.4 -53.3 0.3 50.0 0.3 -20.2 0.4 -118.0 0.3 171.6 0.3 -85.2 0.3 26.5 0.4 -109.6 0.3 152.8 0.3 -74.5 0.4 161.8 0.3 -159.4 0.3 108.6 0.4 -145.3 0.3 171.6 0.3 -116.1 0.3 79.4 0.4 75.2 0.3 -194.1 0.3 41.5 0.4 .5 0.3 78.4 0.3 -21.8 0.4 -33.4 0.3 75.6 0.3 -95.8 0.3 -2.4 0.4 -55.7 0.3 221.6 0.3 -136.0 0.4 25.7 0.3 -27.5 0.3 42.8 0.4 12.4 0.3 -151.2 0.3 49.0 0.3 -.8 0.4 95.4 0.3 31.1 0.3 -91.5 0.4 1.5 0.3 109.4 0.3 -75.6 0.4 -30.3 0.3 -30.3 0.3 -23.5 0.3 9.0 0.4 146.5 0.3 -133.4 0.3 94.9 0.4 -25.2 0.3 -41.2 0.3 -22.0 0.4 -15.9 0.3 191.7 0.3 -10.5 0.3 -99.9 0.4 -108.4 0.3 204.5 0.3 -136.0 0.4 -9.1 0.3 -65.6 0.3 38.4 0.4 127.7 0.3 -202.4 0.3 9.2 0.3 153.0 0.4 -109.9 0.3 35.5 0.3 21.5 0.4 20.1 0.3 39.6 0.3 -73.8 0.4 -89.9 0.3 43.3 0.3 71.9 0.3 10.9 0.4 -58.4 0.3 47.2 0.3 33.2 0.4 -91.1 0.3 160.3 0.3 -139.3 0.4 72.3 0.3 -30.8 0.3 42.6 0.3 -52.6 0.4 25.5 0.3 -57.0 0.3 16.3 0.4 -78.4 0.3 138.0 0.3 -173.4 0.4 20.6 0.3 49.3 0.3 100.6 0.3 -105.9 0.4 35.2 0.3 -71.0 0.3 87.2 0.4 43.1 0.3 6.1 0.3 16.0 0.4 -54.3 0.3 -86.1 0.3 42.0 0.3 108.2 0.4 -7.5 0.3 -88.8 0.3 13.3 0.4 -26.1 0.3 5.3 0.3 -46.2 0.4 152.6 0.3 -79.7 0.3 34.1 0.3 -14.9 0.4 49.1 0.3 -38.2 0.3 19.2 0.4 -19.5 0.3 -72.4 0.3 86.1 0.4 -150.5 0.3 132.9 0.3 -39.6 0.3 -60.6 0.4 123.7 0.3 -45.8 0.3 -32.1 0.4 106.1 0.3 -110.5 0.3 69.4 0.4 -62.1 0.3 -15.0 0.3 106.7 0.3 -167.1 0.4 114.5 0.3 -77.0 0.3 2.7 0.4 -11.7 0.3 60.7 0.3 -51.4 0.4 -3.6 0.3 136.0 0.3 -164.7 0.3 129.0 0.4 -8.5 0.3 26.8 0.3 14.6 0.4 -182.7 0.3 159.3 0.3 -150.1 0.4 168.0 0.3 -59.5 0.3 38.9 0.3 -113.4 0.4 6.3 0.3 92.1 0.3 -20.6 0.4 23.9 0.3 -13.1 0.3 5.1 0.4 -9.4 0.3 114.6 0.3 -51.8 0.3 3.9 0.4 -81.1 0.3 15.6 0.3 16.5 0.4 -76.9 0.3 -58.1 0.3 -4.5 0.4 73.2 0.3 -89.2 0.3 19.8 0.4 7.7 0.3 155.8 0.3 -106.4 0.3 86.8 0.4 -46.4 0.3 -120.5 0.3 .0 0.4 .0 0.3 .0 0.3 .0 0.4 .0 0.3 186.3 0.3 6.1 0.3 -8.6 0.4 -63.4 0.3 104.8 0.3 -185.8 0.4 53.8 0.3 50.9 0.3 86.0 0.4 -172.7 0.3 49.9 0.3 69.1 0.3 49.4 0.4 -210.0 0.3 -8.5 0.3 203.9 0.4 -55.2 0.3 -30.7 0.3 -129.0 0.4 97.5 0.3 5.3 0.3 44.3 0.3 18.6 0.4 66.2 0.3 -77.2 0.3 -61.5 0.4 121.1 0.3 -73.8 0.3 62.9 0.4 4.5 0.3 -97.5 0.3 128.2 0.3 -124.6 0.4 29.7 0.3 46.9 0.3 -66.1 0.4 -9.2 0.3 1.8 0.3 -60.8 0.4 91.1 0.3 118.9 0.3 -135.8 0.3 44.6 0.4 -32.3 0.3 36.0 0.3 7.7 0.4 39.7 0.3 -166.0 0.3 118.3 0.4 -53.3 0.3 29.1 0.3 -41.7 0.3 84.1 0.4 -140.6 0.3 155.5 0.3 -50.4 0.4 -3.9 0.3 51.3 0.3 -68.7 0.4 56.4 0.3 -123.0 0.3 -27.5 0.3 233.6 0.4 -85.7 0.3 -72.4 0.3 112.3 0.4 -143.5 0.3 148.2 0.3 -81.7 0.4 -130.3 0.3 100.0 0.3 1.5 0.3 25.2 0.4 -69.2 0.3 8.6 0.3 93.1 0.4 -33.2 0.3 -22.5 0.3 93.9 0.4 -41.5 0.3 -76.3 0.3 -24.8 0.3 156.9 0.4 -167.7 0.3 72.6 0.3 -89.8 0.4 99.4 0.3 -76.7 0.3 92.6 0.4 59.9 0.3 -27.9 0.3 -48.6 0.3 -23.3 0.4 -72.3 0.3 181.6 0.3 -87.6 0.4 -69.6 0.3 39.8 0.3 162.8 0.4 -210.4 0.3 172.9 0.3 -7.0 0.3 -13.4 0.4 -25.8 0.3 -93.5 0.3 -1.2 0.4 54.8 0.3 -10.6 0.3 39.0 0.4 40.0 0.3 35.3 0.3 -88.5 0.3 -73.2 0.4 115.2 0.3 -121.2 0.3 34.5 0.4 36.9 0.3 -10.9 0.3 -24.1 0.4 -42.3 0.3 52.0 0.3 101.0 0.3 1.6 0.4 -71.0 0.3 -56.6 0.3 48.2 0.4 -77.7 0.3 56.7 0.3 -66.1 0.4 171.6 0.3 -175.6 0.3 -17.8 0.3 16.1 0.4 66.7 0.3 -9.4 0.3 -12.1 0.4 45.0 0.3 58.4 0.3 -106.8 0.4 14.3 0.3 10.8 0.3 94.0 0.3 -197.3 0.4 18.3 0.3 -45.3 0.3 106.2 0.4 62.8 0.3 11.2 0.3 5.6 0.4 -9.2 0.3 68.3 0.3 -142.8 0.3 148.3 0.4 -29.9 0.3 -19.2 0.3 3.1 0.4 -42.4 0.3 -43.3 0.3 88.6 0.4 -46.1 0.3 -124.9 0.3 147.9 0.3 -110.8 0.4 90.5 0.3 -87.8 0.3 133.2 0.4 -140.1 0.3 55.3 0.3 -71.4 0.4 187.6 0.3 -28.1 0.3 -37.7 0.3 -23.1 0.4 -20.0 0.3 -99.8 0.3 139.7 0.4 -65.6 0.3 55.4 0.3 -80.0 0.4 76.1 0.3 -40.5 0.3 71.6 0.3 -71.6 0.4 35.1 0.3 -100.5 0.3 63.3 0.4 -94.2 0.3 69.5 0.3 -30.5 0.4 124.4 0.3 -118.6 0.3 135.5 0.3 -54.6 0.4 39.9 0.3 -69.1 0.3 132.7 0.4 -53.8 0.3 -113.6 0.3 -55.1 0.4 164.1 0.3 -110.6 0.3 -29.6 0.3 6.8"/>
<path stroke="#009900" d="M206.4 552.5l0.3 -24.5 0.4 2.4 0.3 145.6 0.3 -40.9 0.4 -118.6 0.3 197.9 0.3 -167.0 0.3 -119.0 0.4 .0 0.3 .0 0.3 .0 0.4 .0 0.3 .0 0.3 210.0 0.4 -52.9 0.3 -107.2 0.3 71.2 0.3 -2.0 0.4 -58.5 0.3 154.4 0.3 27.7 0.4 -81.1 0.3 103.4 0.3 -6.4 0.4 -104.1 0.3 12.0 0.3 -69.1 0.3 46.4 0.4 14.2 0.3 53.7 0.3 26.7 0.4 46.3 0.3 -49.8 0.3 -94.7 0.4 94.5 0.3 -17.3 0.3 32.0 0.3 -149.8 0.4 178.6 0.3 -63.3 0.3 -89.9 0.4 .8 0.3 -11.2 0.3 38.6 0.4 -31.7 0.3 132.7 0.3 -90.4 0.3 -33.8 0.4 -37.1 0.3 83.3 0.3 -53.1 0.4 156.7 0.3 -130.1 0.3 188.4 0.4 .0 0.3 .0 0.3 .0 0.3 .0 0.4 .0 0.3 -245.3 0.3 36.6 0.4 12.7 0.3 90.7 0.3 -73.8 0.4 33.2 0.3 -17.7 0.3 43.2 0.3 -172.0 0.4 210.5 0.3 -107.0 0.3 83.1 0.4 -136.8 0.3 7.2 0.3 122.3 0.4 -95.3 0.3 -38.1 0.3 -25.2 0.3 103.6 0.4 71.1 0.3 -19.1 0.3 -88.9 0.4 7.5 0.3 82.7 0.3 -141.6 0.4 85.6 0.3 8.6 0.3 33.1 0.3 -27.9 0.4 37.7 0.3 37.4 0.3 -203.0 0.4 90.5 0.3 35.3 0.3 41.9 0.4 -142.2 0.3 191.2 0.3 -109.5 0.3 60.5 0.4 35.7 0.3 -169.9 0.3 50.9 0.4 68.1 0.3 -15.6 0.3 -81.9 0.4 70.7 0.3 -15.0 0.3 -24.1 0.3 70.0 0.4 -9.2 0.3 -118.8 0.3 67.9 0.4 104.3 0.3 -181.6 0.3 227.8 0.4 -194.0 0.3 -27.4 0.3 183.1 0.3 -81.3 0.4 -43.5 0.3 114.3 0.3 -108.2 0.4 -35.0 0.3 25.3 0.3 -18.7 0.4 74.6 0.3 23.2 0.3 -36.7 0.3 49.7 0.4 -37.9 0.3 -67.9 0.3 2.8 0.4 76.8 0.3 5.7 0.3 -99.8 0.4 73.8 0.3 -109.2 0.3 105.5 0.3 -11.3 0.4 -17.5 0.3 -57.4 0.3 93.3 0.4 56.5 0.3 -117.8 0.3 87.0 0.4 -133.3 0.3 201.5 0.3 -99.8 0.3 13.9 0.4 -152.7 0.3 166.9 0.3 -142.6 0.4 99.4 0.3 -49.8 0.3 57.4 0.4 -104.5 0.3 121.0 0.3 44.2 0.3 26.3 0.4 30.2 0.3 -22.9 0.3 -155.1 0.4 20.3 0.3 152.7 0.3 -133.5 0.4 12.9 0.3 24.2 0.3 -31.4 0.3 54.0 0.4 -120.5 0.3 107.5 0.3 -69.2 0.4 -2.3 0.3 91.4 0.3 45.8 0.4 -122.5 0.3 -61.9 0.3 43.7 0.3 9.4 0.4 86.5 0.3 -104.9 0.3 -8.4 0.4 -5.8 0.3 87.2 0.3 -87.6 0.4 201.2 0.3 -22.3 0.3 35.0 0.3 -148.7 0.4 20.2 0.3 18.8 0.3 -50.2 0.4 84.6 0.3 -186.9 0.3 162.0 0.4 -96.5 0.3 172.8 0.3 -89.5 0.3 -97.2 0.4 93.4 0.3 -53.7 0.3 -9.6 0.4 -6.5 0.3 141.6 0.3 -118.3 0.4 76.6 0.3 -100.9 0.3 20.0 0.3 166.0 0.4 .0 0.3 .0 0.3 .0 0.4 .0 0.3 .0 0.3 -82.6 0.4 -47.6 0.3 -84.7 0.3 -62.3 0.3 199.4 0.4 -129.1 0.3 -7.8 0.3 156.8 0.4 -87.8 0.3 -16.4 0.3 -27.7 0.4 90.0 0.3 -79.0 0.3 35.0 0.4 -37.6 0.3 -9.7 0.3 52.6 0.3 -49.9 0.4 -18.3 0.3 12.8 0.3 100.1 0.4 40.9 0.3 -112.1 0.3 80.4 0.4 -107.0 0.3 -27.5 0.3 63.0 0.3 35.7 0.4 -9.6 0.3 -59.6 0.3 132.7 0.4 -36.4 0.3 33.7 0.3 -86.2 0.4 -68.0 0.3 100.1 0.3 -12.8 0.3 -39.0 0.4 160.6 0.3 -91.2 0.3 37.0 0.4 -74.0 0.3 98.8 0.3 -154.3 0.4 2.0 0.3 130.9 0.3 -4.6 0.3 -125.7 0.4 167.5 0.3 -64.0 0.3 15.9 0.4 23.1 0.3 -154.1 0.3 24.7 0.4 83.0 0.3 -66.5 0.3 19.4 0.3 69.5 0.4 -47.4 0.3 -94.4 0.3 122.5 0.4 -104.6 0.3 144.3 0.3 -99.9 0.4 -23.1 0.3 -20.3 0.3 -1.6 0.3 67.7 0.4 79.8 0.3 -96.7 0.3 -51.1 0.4 63.9 0.3 51.9 0.3 -79.3 0.4 -47.5 0.3 13.4 0.3 120.4 0.3 -10.7 0.4 -103.0 0.3 3.9 0.3 -26.3 0.4 -54.1 0.3 42.5 0.3 9.0 0.4 -41.2 0.3 160.2 0.3 -80.8 0.3 71.6 0.4 -92.6 0.3 -12.3 0.3 19.1 0.4 38.9 0.3 -.4 0.3 29.6 0.4 64.2 0.3 -150.4 0.3 67.1 0.3 20.3 0.4 -3.2 0.3 -80.5 0.3 41.8 0.4 -86.9 0.3 -6.3 0.3 158.8 0.4 -14.0 0.3 -64.3 0.3 -61.5 0.3 115.7 0.4 -36.1 0.3 -69.6 0.3 -4.4 0.4 164.9 0.3 24.2 0.3 -252.5 0.4 .0 0.3 .0 0.3 .0 0.3 .0 0.4 .0 0.3 219.5 0.3 -118.3 0.4 133.1 0.3 -136.8 0.3 142.9 0.4 -42.2 0.3 57.3 0.3 -80.8 0.3 43.5 0.4 -85.9 0.3 -11.7 0.3 83.8 0.4 -107.9 0.3 13.9 0.3 -48.6 0.4 168.7 0.3 -52.0 0.3 37.2 0.3 -5.6 0.4 86.8 0.3 -90.7 0.3 49.0 0.4 -66.4 0.3 -102.9 0.3 111.6 0.4 3.0 0.3 -99.4 0.3 102.0 0.3 -48.4 0.4 28.0 0.3 -64.4 0.3 4.7 0.4 8.3 0.3 41.8 0.3 -68.1 0.4 -2.6 0.3 104.8 0.3 22.3 0.3 3.0 0.4 -196.4 0.3 18.0 0.3 127.8 0.4 -81.6 0.3 93.9 0.3 -29.0 0.4 7.2 0.3 -79.6 0.3 117.3 0.3 -43.5 0.4 -16.3 0.3 113.6 0.3 -28.7 0.4 -65.3 0.3 -133.1 0.3 101.0 0.4 -3.9 0.3 -26.3 0.3 3.7 0.3 -30.5 0.4 17.0 0.3 -43.6 0.3 144.4 0.4 30.9 0.3 -83.4 0.3 64.1 0.4 -160.9 0.3 90.2 0.3 15.6 0.3 -88.6 0.4 113.9 0.3 -39.9 0.3 116.6 0.4 -179.4 0.3 97.8 0.3 -39.0 0.4 50.6 0.3 -115.5 0.3 -8.0 0.3 61.7 0.4 -54.8 0.3 121.8 0.3 -48.9 0.4 -38.6 0.3 -3.0 0.3 64.5 0.4 -61.5 0.3 149.9 0.3 -131.6 0.3 -26.8 0.4 149.2 0.3 -127.4 0.3 83.4 0.4 -174.4 0.3 84.9 0.3 86.0 0.4 -72.5 0.3 -1.0 0.3 12.8 0.3 112.6 0.4 -65.2 0.3 -90.6 0.3 -52.5 0.4 187.6 0.3 -73.9 0.3 -18.5 0.4 15.0 0.3 66.8 0.3 -67.1 0.3 23.1 0.4 48.2 0.3 -122.4 0.3 77.2 0.4 -170.1 0.3 .0 0.3 .0 0.4 .0 0.3 .0 0.3 .0 0.4 93.8 0.3 27.6 0.3 35.0 0.3 -47.3 0.4 42.6 0.3 -21.5 0.3 64.4 0.4 -119.9 0.3 129.2 0.3 -41.7 0.4 -47.7 0.3 38.4 0.3 1.2 0.3 -57.2 0.4 56.2 0.3 -92.9 0.3 71.7 0.4 51.7 0.3 -71.0 0.3 136.4 0.4 57.4 0.3 .0 0.3 .0 0.3 .0 0.4 .0 0.3 .0 0.3 -178.5 0.4 45.1 0.3 18.2 0.3 -4.8 0.4 -20.4 0.3 2.4 0.3 -152.3 0.3 214.3 0.4 -50.6 0.3 -23.1 0.3 9.6 0.4 -127.1 0.3 60.3 0.3 66.1 0.4 46.5 0.3 92.3 0.3 .0 0.3 .0 0.4 .0 0.3 .0 0.3 .0 0.4 -134.9 0.3 9.8 0.3 -40.3 0.4 -88.8 0.3 -14.1 0.3 136.7 0.3 -106.9 0.4 57.9 0.3 44.8 0.3 -39.4 0.4 146.9 0.3 -82.1 0.3 -134.5 0.4 77.1 0.3 106.6 0.3 -151.2 0.3 -23.6 0.4 45.5 0.3 158.6 0.3 -164.7 0.4 63.9 0.3 -22.3 0.3 19.6 0.4 -98.5 0.3 87.5 0.3 -22.8 0.3 69.6 0.4 -82.7 0.3 69.8 0.3 -129.3 0.4 124.0 0.3 -82.1 0.3 92.1 0.4 55.4 0.3 -99.0 0.3 -53.4 0.3 11.8 0.4 93.8 0.3 -10.2 0.3 -22.3 0.4 -50.3 0.3 27.4 0.3 -99.3 0.4 75.2 0.3 -33.6 0.3 -19.1 0.3 47.6 0.4 45.7 0.3 -24.8 0.3 -24.3 0.4 30.5 0.3 43.2 0.3 -18.5 0.4 -19.0 0.3 47.3 0.3 7.2 0.3 -13.5 0.4 -7.7 0.3 -139.9 0.3 201.8 0.4 -55.2 0.3 -5.4 0.3 -37.4 0.4 66.9 0.3 -20.9 0.3 32.4 0.3 -76.5 0.4 -108.9 0.3 155.4 0.3 -74.9 0.4 69.9 0.3 -43.0 0.3 -87.5 0.4 183.3 0.3 -198.5 0.3 7.6 0.3 44.7 0.4 158.9 0.3 -160.4 0.3 63.2 0.4 -108.0 0.3 141.8 0.3 -110.4 0.4 -49.8 0.3 153.9 0.3 6.4 0.3 -16.8 0.4 -74.0 0.3 -49.3 0.3 -34.5 0.4 157.8 0.3 -92.4 0.3 24.3 0.4 19.7 0.3 -47.3 0.3 31.3 0.3 88.7 0.4 -37.8 0.3 82.5 0.3 -116.8 0.4 -64.3 0.3 125.4 0.3 -97.5 0.4 7.5 0.3 72.9 0.3 30.4 0.3 -11.2 0.4 18.0 0.3 -21.1 0.3 -38.3 0.4 -112.5 0.3 128.6 0.3 -89.4 0.4 80.7 0.3 -137.4 0.3 115.7 0.3 94.5 0.4 -153.4 0.3 126.2 0.3 31.9 0.4 -143.7 0.3 19.1 0.3 101.7 0.4 10.2 0.3 -158.5 0.3 107.4 0.3 -57.0 0.4 97.7 0.3 -80.1 0.3 88.2 0.4 -79.2 0.3 120.6 0.3 -86.9 0.4 -110.9 0.3 177.8 0.3 -69.1 0.3 -72.1 0.4 4.2 0.3 81.1 0.3 -31.8 0.4 -1.9 0.3 -72.7 0.3 85.3 0.4 -62.0 0.3 22.1 0.3 -51.6 0.3 62.3 0.4 -56.8 0.3 -1.8 0.3 74.6 0.4 61.9 0.3 -183.6 0.3 60.0 0.4 106.9 0.3 -103.7 0.3 30.7 0.3 23.1 0.4 -69.2 0.3 82.7 0.3 22.7 0.4 -10.4 0.3 78.6 0.3 -6.2 0.4 -67.0 0.3 66.6 0.3 -25.5 0.3 -74.8 0.4 23.2 0.3 -114.3 0.3 -2.9 0.4 148.6 0.3 -42.3 0.3 3.1 0.4 62.6 0.3 43.1 0.3 -200.5 0.4 81.6 0.3 -80.3 0.3 167.1 0.3 -113.0 0.4 -31.3 0.3 -7.1 0.3 196.7 0.4 -144.7 0.3 56.3 0.3 -103.3 0.4 127.6 0.3 -3.3 0.3 -166.3 0.3 121.4 0.4 -36.1 0.3 -82.3 0.3 -44.9 0.4 .0 0.3 .0 0.3 .0 0.4 .0 0.3 .0 0.3 60.0 0.3 51.2 0.4 8.7 0.3 50.7 0.3 -29.5 0.4 -14.4 0.3 11.1 0.3 -45.7 0.4 36.0 0.3 38.8 0.3 -2.4 0.3 -27.8 0.4 121.4 0.3 -116.8 0.3 -51.7 0.4 175.2 0.3 -88.8 0.3 -86.8 0.4 65.8 0.3 30.5 0.3 51.2 0.3 -160.5 0.4 29.9 0.3 42.2 0.3 23.8 0.4 -110.7 0.3 4.2 0.3 119.8 0.4 126.0 0.3 .0 0.3 .0 0.3 .0 0.4 .0 0.3 .0 0.3 -88.5 0.4 -59.7 0.3 -130.4 0.3 197.7 0.4 -30.0 0.3 -76.2 0.3 6.0 0.3 -1.4 0.4 5.4 0.3 178.1 0.3 .0 0.4 .0 0.3 .0 0.3 .0 0.4 .0 0.3 .0 0.3 -272.1 0.3 148.6 0.4 -142.1 0.3 110.6 0.3 -32.0 0.4 3.6 0.3 -20.8 0.3 86.5 0.4 2.9 0.3 -21.7 0.3 14.7 0.3 -11.5 0.4 48.0 0.3 -94.3 0.3 14.9 0.4 -8.1 0.3 51.8 0.3 46.4 0.4 -51.8 0.3 -105.9 0.3 79.8 0.3 -50.6 0.4 -50.3 0.3 71.6 0.3 -95.8 0.4 -10.6 0.3 160.0 0.3 -109.0 0.4 102.6 0.3 33.3 0.3 -49.5 0.3 -30.6 0.4 -70.3 0.3 176.8 0.3 -153.4 0.4 56.9 0.3 65.7 0.3 -168.3 0.4 43.8 0.3 142.5 0.3 -162.3 0.3 192.7 0.4 .2 0.3 -36.0 0.3 -202.8 0.4 256.1 0.3 -227.1 0.3 34.1 0.4 153.7 0.3 -149.2 0.3 15.8 0.3 2.3 0.4 -104.2 0.3 90.1 0.3 -27.8 0.4 131.1 0.3 -102.6 0.3 99.1 0.4 -72.6 0.3 -105.8 0.3 47.0 0.3 127.3 0.4 -20.1 0.3 -114.7 0.3 8.8 0.4 115.0 0.3 -89.6 0.3 108.3 0.4 -10.8 0.3 -99.7 0.3 10.5 0.3 30.0 0.4 114.8 0.3 -97.6 0.3 70.9 0.4 46.2 0.3 -167.2 0.3 90.4 0.4 -66.9 0.3 -73.5 0.3 143.1 0.3 -20.8 0.4 29.3 0.3 19.8 0.3 -110.7 0.4 72.6 0.3 -30.3 0.3 -79.7 0.4 154.8 0.3 6.0 0.3 -119.5 0.3 -6.4 0.4 111.3 0.3 -99.1 0.3 109.5 0.4 79.4 0.3 .0 0.3 .0 0.4 .0 0.3 .0 0.3 .0 0.3 -86.7 0.4 -102.4 0.3 124.4 0.3 -160.0 0.4 166.0 0.3 -97.5 0.3 47.3 0.4 -153.2 0.3 90.3 0.3 -6.5 0.3 -90.8 0.4 21.1 0.3 146.2 0.3 -75.3 0.4 -10.8 0.3 -5.3 0.3 57.4 0.4 -20.6 0.3 138.6 0.3 -49.7 0.3 -92.2 0.4 88.6 0.3 17.5 0.3 -93.0 0.4 90.2 0.3 -7.8 0.3 -166.2 0.4 124.2 0.3 13.9 0.3 -62.4 0.3 112.5 0.4 -61.2 0.3 -146.1 0.3 10.7 0.4 55.4 0.3 48.0 0.3 -.9 0.4 97.5 0.3 -52.2 0.3 38.6 0.4 -31.5 0.3 -87.3 0.3 109.3 0.3 -103.4 0.4 -74.2 0.3 119.2 0.3 -1.7 0.4 46.8 0.3 -177.4 0.3 46.0 0.4 8.8 0.3 92.5 0.3 13.8 0.3 -49.3 0.4 -85.3 0.3 -22.6 0.3 69.8 0.4 -23.6 0.3 53.3 0.3 125.2 0.4 -196.6 0.3 117.3 0.3 -15.7 0.3 -97.0 0.4 21.3 0.3 -83.6 0.3 156.1 0.4 25.9 0.3 61.5 0.3 -226.7 0.4 -2.6 0.3 130.7 0.3 -100.3 0.3 93.6 0.4 11.5 0.3 14.2 0.3 23.9 0.4 -82.0 0.3 79.7 0.3 -108.7 0.4 32.8 0.3 -102.5 0.3 23.0 0.3 121.8 0.4 88.9 0.3 -170.5 0.3 61.4 0.4 62.0 0.3 17.9 0.3 -190.8 0.4 62.7 0.3 109.2 0.3 -84.3 0.3 -8.2 0.4 25.1 0.3 -94.3 0.3 -12.0 0.4 214.1 0.3 -79.7 0.3 14.2 0.4 -135.7 0.3 61.3 0.3 -48.0 0.3 56.6 0.4 95.2 0.3 -167.9 0.3 177.5 0.4 -130.6 0.3 98.4 0.3 -76.5 0.4 -92.7 0.3 98.8 0.3 137.7 0.3 -100.5 0.4 -57.5 0.3 74.3 0.3 -2.6 0.4 -179.5 0.3 .0 0.3 .0 0.4 .0 0.3 .0 0.3 .0 0.3 180.5 0.4 -128.4 0.3 7.4 0.3 111.8 0.4 -28.6 0.3 -105.9 0.3 161.2 0.4 -88.7 0.3 62.6 0.3 -33.2 0.3 90.3 0.4 -96.4 0.3 -56.3 0.3 158.0 0.4 -233.3 0.3 295.4 0.3 .0 0.4 .0 0.3 .0 0.3 .0 0.3 .0 0.4 -100.0 0.3 -105.4 0.3 43.5 0.4 -61.1 0.3 .5 0.3 2.9 0.4 167.1 0.3 -226.4 0.3 173.5 0.3 -105.6 0.4 -21.3 0.3 62.2 0.3 29.8 0.4 30.3 0.3 -37.6 0.3 68.2 0.4 12.4 0.3 -13.5 0.3 -105.9 0.3 -81.8 0.4 209.4 0.3 -46.4 0.3 -26.8 0.4 70.9 0.3 -37.3 0.3 -102.6 0.4 65.5 0.3 23.7 0.3 10.6 0.3 -135.7 0.4 159.5 0.3 -72.3 0.3 1.2 0.4 -82.1 0.3 134.0 0.3 -93.0 0.4 45.1 0.3 -102.0 0.3 136.5 0.3 -85.4 0.4 -.4 0.3 -9.6 0.3 123.7 0.4 -33.6 0.3 -143.9 0.3 168.3 0.4 -25.5 0.3 -151.9 0.3 197.9 0.3 -73.5 0.4 61.2 0.3 -22.8 0.3 -56.2 0.4 -16.1 0.3 71.6 0.3 103.2 0.4 .0 0.3 .0 0.3 .0 0.3 .0 0.4 .0 0.3 -170.7 0.3 25.7 0.4 -79.8 0.3 82.9 0.3 -5.8 0.4 78.9 0.3 -92.9 0.3 -68.6 0.3 4.6 0.4 88.2 0.3 -119.3 0.3 66.7 0.4 94.3 0.3 -56.5 0.3 -75.3 0.4 147.7 0.3 -119.9 0.3 -27.4 0.3 69.0 0.4 -93.0 0.3 96.9 0.3 51.9 0.4 3.2 0.3 -124.2 0.3 93.0 0.4 -38.4 0.3 44.7 0.3 -88.6 0.3 -25.5 0.4 174.6 0.3 -207.8 0.3 78.5 0.4 118.5 0.3 -83.7 0.3 89.8 0.4 -96.6 0.3 34.3 0.3 65.7 0.3 -45.6 0.4 -69.7 0.3 -63.0 0.3 33.6 0.4 81.3 0.3 -59.4 0.3 141.7 0.4 -34.2 0.3 -152.5 0.3 183.8 0.3 -191.5 0.4 79.6 0.3 3.4 0.3 -52.5 0.4 118.1 0.3 -124.5 0.3 171.6 0.4 -44.1 0.3 -149.5 0.3 100.9 0.4 29.7 0.3 -24.0 0.3 10.6 0.3 -98.7 0.4 55.2 0.3 -87.9 0.3 155.7 0.4 -26.6 0.3 -86.8 0.3 89.7 0.4 -108.5 0.3 164.9 0.3 -156.5 0.3 34.4 0.4 -44.4 0.3 16.8 0.3 -2.1 0.4 120.7 0.3 -79.6 0.3 38.8 0.4 37.1 0.3 .1 0.3 -87.7 0.3 -2.1 0.4 2.2 0.3 122.4 0.3 4.4 0.4 -206.2 0.3 32.1 0.3 93.1 0.4 -23.2 0.3 -29.5 0.3 -37.6 0.3 121.4 0.4 66.1 0.3 -74.2 0.3 -85.7 0.4 28.6 0.3 108.6 0.3 -99.1 0.4 30.8 0.3 -37.2 0.3 -5.8 0.3 -59.0 0.4 108.0 0.3 -25.8 0.3 -39.7 0.4 -19.5 0.3 65.4 0.3 21.5 0.4 -93.7 0.3 133.0 0.3 -142.8 0.3 108.5 0.4 55.3 0.3 -122.0 0.3 31.2 0.4 -97.1 0.3 87.2 0.3 -20.2 0.4 82.1 0.3 -74.3 0.3 -18.7 0.3 -20.6 0.4 .1 0.3 131.8 0.3 4.5 0.4 -111.6 0.3 45.7 0.3 41.4 0.4 -50.5 0.3 60.6 0.3 -76.4 0.3 16.2 0.4 -99.8 0.3 53.9 0.3 148.4 0.4 -94.2 0.3 -5.2 0.3 -91.6 0.4 192.7 0.3 -87.2 0.3 -103.3 0.3 113.4 0.4 52.9 0.3 -68.3 0.3 45.3 0.4 -133.2 0.3 156.9 0.3 -21.4 0.4 42.4 0.3 -138.1 0.3 115.6 0.3 -79.3 0.4 -69.5 0.3 31.7 0.3 113.8 0.4 55.7 0.3 -120.5 0.3 -65.0 0.4 1.2 0.3 155.2 0.3 -105.4 0.3 -33.0 0.4 -60.7 0.3 50.5 0.3 -38.0 0.4 -22.3 0.3 132.4 0.3 49.9 0.4 -111.3 0.3 108.4 0.3 -36.3 0.3 -104.6 0.4 12.0 0.3 103.9 0.3 -135.3 0.4 123.6 0.3 -130.9 0.3 44.8 0.4 86.6 0.3 13.9 0.3 54.1 0.3 -178.2 0.4 250.7 0.3 .0 0.3 .0 0.4 .0 0.3 .0 0.3 .0 0.4 -93.6 0.3 -.6 0.3 -83.1 0.3 117.5 0.4 -92.9 0.3 -42.8 0.3 -10.4 0.4 -6.5 0.3 101.9 0.3 2.8 0.4 -142.3 0.3 192.1 0.3 -64.2 0.3 59.6 0.4 -176.8 0.3 170.5 0.3 -40.4 0.4 -84.2 0.3 .2 0.3 -20.3 0.4 -61.1 0.3 128.9 0.3 64.8 0.3 -147.0 0.4 -15.3 0.3 126.1 0.3 -68.3 0.4 109.8 0.3 -84.0 0.3 3.6 0.4 -72.0 0.3 2.7 0.3 36.7 0.3 32.8 0.4 -70.4 0.3 37.0 0.3 26.9 0.4 -37.3 0.3 42.2 0.3 24.8 0.4 -9.4 0.3 47.4 0.3 -57.0 0.3 32.7 0.4 -100.5 0.3 10.0 0.3 83.1 0.4 -28.4 0.3 -102.8 0.3 154.2 0.4 -129.0 0.3 30.6 0.3 -25.1 0.3 -27.0 0.4 168.1 0.3 -204.2 0.3 83.2 0.4 -34.6 0.3 63.0 0.3 -90.0 0.4 151.7 0.3 -96.4 0.3 131.7 0.3 -74.1 0.4 -62.2 0.3 116.5 0.3 27.0 0.4 -171.8 0.3 18.0 0.3 -5.1 0.4 157.8 0.3 -139.5 0.3 112.5 0.3 -60.7 0.4 10.6 0.3 -62.2 0.3 207.0 0.4 .0 0.3 .0 0.3 .0 0.4 .0 0.3 .0 0.3 -316.4 0.3 .0 0.4 .0 0.3 .0 0.3 62.8 0.4 175.3 0.3 -114.0 0.3 41.3 0.4 -6.0 0.3 -28.8 0.3 73.6 0.4 -87.2 0.3 32.2 0.3 .4 0.3 -24.6 0.4 -13.7 0.3 51.6 0.3 -69.6 0.4 113.0 0.3 -85.3 0.3 22.5 0.4 5.2 0.3 121.9 0.3 -92.5 0.3 11.4 0.4 -33.3 0.3 100.9 0.3 -100.0 0.4 -110.0 0.3 173.8 0.3 5.5 0.4 -75.5 0.3 119.0 0.3 -194.6 0.3 156.5 0.4 -86.9 0.3 -46.4 0.3 134.1 0.4 -118.4 0.3 57.3 0.3 -45.6 0.4 -44.2 0.3 58.8 0.3 -33.5 0.3 117.2 0.4 -78.3 0.3 24.5 0.3 39.7 0.4 -136.8 0.3 1.9 0.3 158.9 0.4 -5.5 0.3 -137.5 0.3 4.9 0.3 52.5 0.4 -96.9 0.3 -34.1 0.3 80.7 0.4 54.4 0.3 35.9 0.3 46.6 0.4 -87.6 0.3 -113.1 0.3 139.4 0.3 34.9 0.4 77.8 0.3 -191.7 0.3 71.4 0.4 -54.9 0.3 84.0 0.3 -57.8 0.4 31.0 0.3 -27.7 0.3 89.6 0.3 -32.6 0.4 -57.9 0.3 68.0 0.3 45.4 0.4 -107.6 0.3 66.3 0.3 -142.9 0.4 33.3 0.3 -18.1 0.3 53.2 0.3 15.4 0.4 43.7 0.3 -174.4 0.3 119.0 0.4 -9.0 0.3 -24.7 0.3 -29.1 0.4 131.6 0.3 -91.2 0.3 72.0 0.3 2.0 0.4 -27.7 0.3 14.8 0.3 -20.0 0.4 27.2 0.3 -29.1 0.3 -99.5 0.4 48.3 0.3 31.1 0.3 -86.3 0.3 132.9 0.4 -14.2 0.3 95.8 0.3 -104.0 0.4 -104.2 0.3 152.1 0.3 -108.0 0.4 -2.5 0.3 63.7 0.3 -41.1 0.3 66.9 0.4 7.3 0.3 -31.4 0.3 20.3 0.4 36.5 0.3 -28.9 0.3 -118.5 0.4 74.5 0.3 51.0 0.3 -121.5 0.3 125.2 0.4 -141.2 0.3 35.2 0.3 -10.2 0.4 62.9 0.3 19.2 0.3 31.8 0.4 10.0 0.3 -31.5 0.3 19.1 0.3 -144.5 0.4 90.7 0.3 -102.7 0.3 69.1 0.4 127.9 0.3 -70.8 0.3 33.7 0.4 8.5 0.3 -135.5 0.3 98.6 0.3 5.5 0.4 72.2 0.3 -118.7 0.3 56.3 0.4 -80.9 0.3 -2.6 0.3 106.6 0.4 -71.5 0.3 19.7 0.3 -38.4 0.3 47.3 0.4 -39.0 0.3 -87.2 0.3 83.7 0.4 108.9 0.3 -95.9 0.3 84.6 0.4 26.7 0.3 -44.7 0.3 -1.6 0.3 -134.1 0.4 30.5 0.3 -21.3 0.3 58.3 0.4 67.6 0.3 -42.3 0.3 -26.3 0.4 22.7 0.3 29.9 0.3 -115.8 0.3 142.7 0.4 -19.2 0.3 -52.0 0.3 -134.5 0.4 .0 0.3 .0 0.3 .0 0.4 .0 0.3 .0 0.3 156.2 0.3 -83.4 0.4 -.4 0.3 41.8 0.3 112.9 0.4 -10.4 0.3 -154.2 0.3 -.1 0.4 57.7 0.3 43.3 0.3 -37.7 0.3 -9.9 0.4 -34.8 0.3 49.1 0.3 84.6 0.4 36.8 0.3 -4.6 0.3 -199.1 0.4 63.8 0.3 -75.6 0.3 185.5 0.3 -49.8 0.4 -67.0 0.3 25.9 0.3 84.9 0.4 -57.1 0.3 -83.0 0.3 49.6 0.4 38.8 0.3 64.1 0.3 -208.2 0.3 159.7 0.4 -98.1 0.3 18.7 0.3 126.9 0.4 -51.6 0.3 102.2 0.3 -65.8 0.4 29.7 0.3 -86.8 0.3 22.0 0.3 11.4 0.4 -130.3 0.3 168.3 0.3 5.9 0.4 -136.3 0.3 76.6 0.3 -13.5 0.4 -23.8 0.3 16.8 0.3 34.0 0.4 -99.0 0.3 -26.9 0.3 106.1 0.3 74.1 0.4 -128.5 0.3 82.4 0.3 -111.6 0.4 -3.2 0.3 -10.0 0.3 15.0 0.4 106.5 0.3 -125.0 0.3 76.3 0.3 60.3 0.4 -47.1 0.3 11.8 0.3 -61.6 0.4 -35.7 0.3 147.1 0.3 48.7 0.4 -97.1 0.3 -4.2 0.3 -89.3 0.3 -27.8 0.4 17.1 0.3 20.4 0.3 -3.5 0.4 102.1 0.3 22.1 0.3 51.2 0.4 -201.1 0.3 136.6 0.3 92.9 0.3 -104.7 0.4 -16.2 0.3 -71.4 0.3 129.3 0.4 -7.0 0.3 -142.4 0.3 7.5 0.4 37.9 0.3 64.9 0.3 18.9 0.3 -98.7 0.4 -45.5 0.3 43.8 0.3 64.9 0.4 11.0 0.3 .4 0.3 -26.4 0.4 80.8 0.3 -86.8 0.3 29.3 0.3 23.4 0.4 -44.8 0.3 -22.3 0.3 35.9 0.4 -103.2 0.3 11.1 0.3 157.8 0.4 -146.6 0.3 77.4 0.3 -9.5 0.3 -39.5 0.4 -19.1 0.3 -44.2 0.3 7.9 0.4 44.3 0.3 -3.7 0.3 106.1 0.4 -105.0 0.3 74.9 0.3 13.4 0.3 14.3 0.4 -8.6 0.3 20.8 0.3 -146.7 0.4 21.1 0.3 34.2 0.3 56.5 0.4 -57.4 0.3 27.7 0.3 86.5 0.3 -50.8 0.4 -8.9 0.3 -58.7 0.3 71.3 0.4 -58.6 0.3 89.7 0.3 -81.5 0.4 -8.1 0.3 -42.3 0.3 127.3 0.3 -99.4 0.4 -32.1 0.3 61.4 0.3 126.4 0.4 -211.3 0.3 59.4 0.3 77.0 0.4 13.6 0.3 -73.5 0.3 33.5 0.3 3.0 0.4 15.4 0.3 -28.1 0.3 -90.0 0.4 95.3 0.3 43.5 0.3 -90.2 0.4 69.5 0.3 13.4 0.3 -138.0 0.3 93.8 0.4 -31.0 0.3 65.7 0.3 36.4 0.4 -152.6 0.3 -6.1 0.3 128.9 0.4 -68.9 0.3 42.8 0.3 28.9 0.3 -56.1 0.4 -62.3 0.3 -21.6 0.3 24.8 0.4 135.4 0.3 -223.4 0.3 .0 0.4 .0 0.3 .0 0.3 .0 0.3 .0 0.4 256.8 0.3 -114.6 0.3 75.8 0.4 -181.9 0.3 187.5 0.3 1.5 0.4 -41.2 0.3 -71.8 0.3 100.7 0.3 -125.3 0.4 100.4 0.3 -122.8 0.3 156.9 0.4 -175.7 0.3 151.3 0.3 -99.6 0.4 -75.1 0.3 220.2 0.3 -5.6 0.3 -67.3 0.4 -20.3 0.3 1.7 0.3 -144.7 0.4 133.6 0.3 -42.5 0.3 14.2 0.4 49.5 0.3 -13.4 0.3 17.8 0.3 11.1 0.4 5.0 0.3 -4.0 0.3 -53.6 0.4 112.1 0.3 -46.2 0.3 -67.2 0.4 77.7 0.3 -.8 0.3 -30.7 0.3 -24.2 0.4 -54.2 0.3 -43.0 0.3 -26.4 0.4 168.9 0.3 -13.1 0.3 -27.2 0.4 81.7 0.3 -184.0 0.3 193.8 0.3 -22.6 0.4 -124.5 0.3 46.8 0.3 64.6 0.4 -131.7 0.3 83.7 0.3 -102.8 0.4 217.6 0.3 -205.9 0.3 157.8 0.3 -85.9 0.4 -62.1 0.3 40.7 0.3 -86.3 0.4 74.7 0.3 89.3 0.3 71.3 0.4 -87.8 0.3 60.2 0.3 -207.0 0.3 184.4 0.4 -25.5 0.3 -3.7 0.3 58.4 0.4 -105.8 0.3 80.6 0.3 -170.7 0.4 71.7 0.3 49.4 0.3 -99.8 0.3 11.8 0.4 113.0 0.3 -163.3 0.3 38.4 0.4 29.5 0.3 65.6 0.3 -131.3 0.4 76.5 0.3 9.8 0.3 106.7 0.4 -125.7 0.3 5.4 0.3 30.7 0.3 -21.1 0.4 93.2 0.3 -137.2 0.3 66.8 0.4 96.3 0.3 -.8 0.3 -55.0 0.4 -173.0 0.3 196.9 0.3 -86.2 0.3 -49.9 0.4 189.7 0.3 -100.6 0.3 -92.2 0.4 198.6 0.3 -219.7 0.3 18.0 0.4 222.5 0.3 .0 0.3 .0 0.3 .0 0.4 .0 0.3 .0 0.3 -85.0 0.4 16.4 0.3 -9.5 0.3 -104.7 0.4 -35.7 0.3 105.8 0.3 -40.7 0.3 -7.7 0.4 13.5 0.3 1.9 0.3 -52.0 0.4 54.9 0.3 -19.6 0.3 -64.1 0.4 138.6 0.3 -113.4 0.3 99.6 0.3 -98.7 0.4 9.6 0.3 .5 0.3 -32.9 0.4 26.1 0.3 -76.3 0.3 200.7 0.4 -53.5 0.3 49.2 0.3 34.4 0.3 -97.3 0.4 -58.0 0.3 37.5 0.3 137.7 0.4 -234.0 0.3 155.9 0.3 -13.8 0.4 -79.0 0.3 -14.9 0.3 9.7 0.3 101.7 0.4 -9.9 0.3 -99.4 0.3 67.9 0.4 -36.7 0.3 176.2 0.3 .0 0.4 .0 0.3 .0 0.3 .0 0.3 .0 0.4 -126.7 0.3 10.1 0.3 -13.2 0.4 -45.6 0.3 105.0 0.3 -177.7 0.4 6.9 0.3 149.8 0.3 -107.3 0.3 22.8 0.4 125.7 0.3 -172.5 0.3 59.7 0.4 13.3 0.3 -66.3 0.3 72.7 0.4 94.7 0.3 -157.5 0.3 51.9 0.3 -44.0 0.4 83.6 0.3 -104.2 0.3 18.0 0.4 122.1 0.3 -104.0 0.3 44.8 0.4 81.7 0.3 -9.2 0.3 -30.4 0.3 22.7 0.4 -97.2 0.3 2.0 0.3 9.0 0.4 -156.0 0.3 .0 0.3 .0 0.4 .0 0.3 .0 0.3 .0 0.3 168.6 0.4 -80.6 0.3 123.9 0.3 -79.7 0.4 9.0 0.3 136.2 0.3 -193.9 0.4 53.2 0.3 98.7 0.3 -114.4 0.3 -.6 0.4 16.9 0.3 -51.5 0.3 186.1 0.4 -99.1 0.3 -70.4 0.3 -37.4 0.4 57.5 0.3 9.0 0.3 70.8 0.3 -34.7 0.4 -28.6 0.3 -15.9 0.3 -12.4 0.4 61.7 0.3 -72.4 0.3 173.7 0.4 -123.6 0.3 15.2 0.3 -23.4 0.3 79.0 0.4 -35.7 0.3 -57.3 0.3 99.4 0.4 -2.3 0.3 -55.1 0.3 -33.2 0.4 91.9 0.3 -110.6 0.3 111.4 0.3 -4.5 0.4 -66.3 0.3 -54.2 0.3 -2.1 0.4 .3 0.3 127.8 0.3 -167.7 0.4 44.0 0.3 74.1 0.3 -79.0 0.3 11.3 0.4 67.2 0.3 -93.4 0.3 154.6 0.4 16.5 0.3 -117.4 0.3 56.8 0.4 -49.1 0.3 76.5 0.3 13.8 0.3 -146.5 0.4 49.6 0.3 93.4 0.3 19.5 0.4 -160.7 0.3 26.3 0.3 11.5 0.4 48.2 0.3 -40.0 0.3 58.1 0.3 68.0 0.4 -104.1 0.3 56.9 0.3 -21.7 0.4 29.5 0.3 69.1 0.3 -109.8 0.4 -60.7 0.3 23.5 0.3 -94.2 0.3 80.1 0.4 32.2 0.3 -68.0 0.3 63.8 0.4 -59.6 0.3 121.4 0.3 -32.1 0.4 -134.1 0.3 71.8 0.3 -25.5 0.3 16.8 0.4 47.5 0.3 -30.7 0.3 140.7 0.4 -39.2 0.3 6.6 0.3 -5.4 0.4 -141.1 0.3 166.1 0.3 -43.4 0.3 -80.5 0.4 -6.7 0.3 -15.6 0.3 39.2 0.4 60.0 0.3 -118.3 0.3 145.4 0.4 9.0 0.3 -44.7 0.3 -16.7 0.4 -134.5 0.3 30.7 0.3 42.1 0.3 48.6 0.4 -6.3 0.3 -15.4 0.3 41.6 0.4 30.5 0.3 3.9 0.3 -109.5 0.4 -16.1 0.3 22.3 0.3 102.9 0.3 -161.5 0.4 155.0 0.3 -144.6 0.3 84.6 0.4 18.7 0.3 -30.2 0.3 30.3 0.4 -58.1 0.3 119.6 0.3 -102.6 0.3 80.7 0.4 36.1 0.3 -12.4 0.3 24.9 0.4 -15.7 0.3 -148.8 0.3 131.5 0.4 47.4 0.3 -210.3 0.3 113.4 0.3 -66.7 0.4 124.6 0.3 -36.6 0.3 -74.3 0.4 -24.5 0.3 110.7 0.3 -54.9 0.4 -125.2 0.3 115.8 0.3 72.9 0.3 -29.4 0.4 -94.6 0.3 66.8 0.3 -101.9 0.4 194.1 0.3 -133.6 0.3 15.9 0.4 114.8 0.3 -20.6 0.3 -106.8 0.3 -1.0 0.4 49.1 0.3 -92.3 0.3 77.5 0.4 -38.5 0.3 141.4 0.3 -116.8 0.4 126.1 0.3 -21.4 0.3 -155.4 0.3 89.2 0.4 -29.9 0.3 -33.0 0.3 -1.6 0.4 107.3 0.3 -96.7 0.3 81.3 0.4 -18.8 0.3 -34.1 0.3 52.4 0.3 49.8 0.4 -135.7 0.3 3.5 0.3 31.0 0.4 60.5 0.3 21.9 0.3 -81.8 0.4 12.8 0.3 -125.7 0.3 196.2 0.3 -141.2 0.4 -9.8 0.3 104.5 0.3 -80.2 0.4 -2.3 0.3 2.3 0.3 118.3 0.4 -98.9 0.3 -49.2 0.3 194.8 0.3 -125.7 0.4 127.0 0.3 -128.4 0.3 -33.6 0.4 132.1 0.3 -163.2 0.3 44.8 0.4 60.9 0.3 -76.2 0.3 -23.2 0.3 62.7 0.4 -8.6 0.3 -68.8 0.3 36.0 0.4 18.0 0.3 102.2 0.3 1.3 0.4 -108.4 0.3 -34.4 0.3 -9.9 0.3 90.4 0.4 -34.1 0.3 -6.6 0.3 -19.0 0.4 56.2 0.3 -31.4 0.3 60.2 0.4 -66.1 0.3 66.7 0.3 26.3 0.3 -24.5 0.4 64.7 0.3 -176.8 0.3 7.9 0.4 -19.0 0.3 47.6 0.3 172.8 0.4 .0 0.3 .0 0.3 .0 0.3 .0 0.4 .0 0.3 -97.4 0.3 -183.4 0.4 .0 0.3 .0 0.3 .0 0.4 .0 0.3 .0 0.3 126.8 0.3 36.6 0.4 -80.4 0.3 73.3 0.3 -2.3 0.4 -97.8 0.3 43.9 0.3 -24.8 0.4 99.1 0.3 -126.8 0.3 155.4 0.3 -186.6 0.4 50.3 0.3 13.6 0.3 -7.5 0.4 36.5 0.3 -52.3 0.3 168.2 0.4 -182.6 0.3 42.6 0.3 117.7 0.3 25.9 0.4 -100.1 0.3 -34.3 0.3 131.9 0.4 -171.5 0.3 152.1 0.3 -194.9 0.4 67.1 0.3 16.1 0.3 91.9 0.3 58.7 0.4 -34.2 0.3 -56.4 0.3 -74.6 0.4 -3.0 0.3 95.8 0.3 -125.2 0.4 128.9 0.3 -165.6 0.3 31.0 0.3 195.1 0.4 -192.5 0.3 87.7 0.3 -35.0 0.4 6.3 0.3 48.3 0.3 -47.2 0.4 73.3 0.3 -94.1 0.3 -8.9 0.3 136.9 0.4 -161.6 0.3 160.8 0.3 19.2 0.4 -47.5 0.3 -18.9 0.3 26.3 0.4 -29.8 0.3 55.8 0.3 -31.8 0.3 -81.2 0.4 150.6 0.3 -97.2 0.3 -41.1 0.4 79.5 0.3 -40.4 0.3 -80.4 0.4 -12.9 0.3 -7.4 0.3 193.6 0.4 -148.9 0.3 57.7 0.3 73.6 0.3 -62.8 0.4 -118.6 0.3 58.4 0.3 75.6 0.4 56.8 0.3 -179.8 0.3 19.4 0.4 31.0 0.3 89.8 0.3 -62.7 0.3 -26.9 0.4 49.1 0.3 32.6 0.3 -32.3 0.4 13.9 0.3 55.5 0.3 -67.0 0.4 -92.7 0.3 149.5 0.3 -124.0 0.3 10.7 0.4 33.5 0.3 18.9 0.3 19.4 0.4 -48.5 0.3 -39.6 0.3 -29.1 0.4 67.0 0.3 -63.6 0.3 6.0 0.3 65.1 0.4 -1.3 0.3 77.1 0.3 -157.6 0.4 45.5 0.3 8.5 0.3 75.5 0.4 -148.3 0.3 179.3 0.3 -54.7 0.3 30.9 0.4 40.2 0.3 -156.9 0.3 111.4 0.4 28.6 0.3 -19.7 0.3 -128.6 0.4 150.5 0.3 -24.6 0.3 -111.6 0.3 59.4 0.4 -40.8 0.3 -65.6 0.3 216.6 0.4 -117.5 0.3 -26.6 0.3 -12.0 0.4 4.9 0.3 128.1 0.3 -6.5 0.3 -99.2 0.4 66.0 0.3 -14.8 0.3 29.2 0.4 -31.5 0.3 67.1 0.3 -150.8 0.4 62.7 0.3 -82.7 0.3 122.1 0.3 -44.2 0.4 64.6 0.3 -131.4 0.3 63.3 0.4 22.7 0.3 -126.5 0.3 45.6 0.4 100.4 0.3 -135.1 0.3 143.0 0.3 -144.2 0.4 198.4 0.3 -172.1 0.3 135.3 0.4 -100.7 0.3 70.3 0.3 18.4 0.4 -118.7 0.3 137.4 0.3 -19.1 0.3 12.3 0.4 -120.7 0.3 73.5 0.3 -24.1 0.4 74.2 0.3 -12.0 0.3 -172.6 0.4 100.0 0.3 -3.4 0.3 -35.7 0.3 -10.4 0.4 95.7 0.3 89.4 0.3 -91.9 0.4 19.1 0.3 50.7 0.3 -187.8 0.4 17.3 0.3 96.5 0.3 40.2 0.3 -101.2 0.4 45.8 0.3 126.7 0.3 -193.3 0.4 22.1 0.3 -80.2 0.3 55.2 0.4 27.0 0.3 69.1 0.3 -68.5 0.3 83.9 0.4 -91.1 0.3 153.5 0.3 -48.9 0.4 -82.3 0.3 43.3 0.3 -126.1 0.4 44.6 0.3 -49.5 0.3 91.7 0.3 -68.2 0.4 50.1 0.3 -60.8 0.3 37.0 0.4 166.5 0.3 -74.1 0.3 23.0 0.4 8.9 0.3 -21.8 0.3 -103.9 0.3 170.7 0.4 -25.0 0.3 -142.4 0.3 116.2 0.4 -19.3 0.3 -128.8 0.3 -10.3 0.4 116.6 0.3 97.6 0.3 -76.4 0.3 -134.8 0.4 33.0 0.3 182.2 0.3 -189.8 0.4 92.4 0.3 -66.2 0.3 119.6 0.4 -18.3 0.3 34.5 0.3 -87.9 0.3 -66.0 0.4 14.1 0.3 6.9 0.3 12.9 0.4 74.5 0.3 5.7 0.3 -128.6 0.4 -14.4 0.3 100.3 0.3 -148.0 0.3 .0 0.4 .0 0.3 .0 0.3 .0 0.4 .0 0.3 197.6 0.3 -52.6 0.4 .1 0.3 76.6 0.3 -151.6 0.3 17.1 0.4 -5.5 0.3 153.8 0.3 -68.2 0.4 -75.4 0.3 -53.9 0.3 93.3 0.4 53.1 0.3 -65.9 0.3 -77.4 0.3 23.6 0.4 -13.6 0.3 125.2 0.3 21.0 0.4 -146.6 0.3 37.9 0.3 38.1 0.4 27.4 0.3 78.6 0.3 -92.6 0.3 -93.0 0.4 -8.3 0.3 139.0 0.3 -86.9 0.4 73.2 0.3 -18.5 0.3 -3.8 0.4 44.3 0.3 -21.7 0.3 2.3 0.3 40.7 0.4 -22.3 0.3 28.0 0.3 -115.4 0.4 90.4 0.3 -80.8 0.3 -38.2 0.4 129.9 0.3 -72.1 0.3 -42.7 0.4 40.9 0.3 -71.6 0.3 6.9 0.3 149.6 0.4 -126.5 0.3 60.7 0.3 -42.9 0.4 115.1 0.3 -94.3 0.3 -16.9 0.4 -62.0 0.3 4.5 0.3 172.4 0.3 -174.5 0.4 86.6 0.3 -61.9 0.3 -14.8 0.4 99.5 0.3 -116.5 0.3 36.8 0.4 -7.0 0.3 81.3 0.3 -15.9 0.3 55.8 0.4 -80.2 0.3 -62.6 0.3 183.3 0.4 -156.6 0.3 13.3 0.3 121.4 0.4 -139.9 0.3 -1.1 0.3 118.3 0.3 37.2 0.4 -123.7 0.3 33.7 0.3 11.3 0.4 26.7 0.3 -33.5 0.3 10.6 0.4 -62.9 0.3 -3.9 0.3 18.4 0.3 104.5 0.4 4.9 0.3 -118.6 0.3 -16.4 0.4 15.4 0.3 9.0 0.3 -21.0 0.4 47.0 0.3 48.3 0.3 -15.3 0.3 -35.1 0.4 80.5 0.3 -49.4 0.3 -38.7 0.4 93.2 0.3 -51.0 0.3 38.2 0.4 -63.5 0.3 -42.6 0.3 7.9 0.3 -7.2 0.4 16.1 0.3 43.4 0.3 16.8 0.4 -88.5 0.3 -19.6 0.3 93.4 0.4 122.9 0.3 -235.3 0.3 15.9 0.3 57.8 0.4 -93.9 0.3 70.2 0.3 -50.6 0.4 167.3 0.3 -71.8 0.3 -23.2 0.4 78.0 0.3 -100.2 0.3 103.6 0.3 -112.9 0.4 -41.7 0.3 87.4 0.3 -90.0 0.4 120.0 0.3 -95.5 0.3 142.4 0.4 12.2 0.3 -109.0 0.3 -71.6 0.3 95.4 0.4 -92.8 0.3 209.1 0.3 -164.6 0.4 199.8 0.3 -136.4 0.3 4.1 0.4 -65.7 0.3 132.6 0.3 -134.7 0.3 29.9 0.4 3.7 0.3 61.9 0.3 65.6 0.4 -35.9 0.3 120.9 0.3 .0 0.4 .0 0.3 .0 0.3 .0 0.3 .0 0.4 -283.7 0.3 17.9 0.3 -7.9 0.4 -3.4 0.3 241.1 0.3 -73.5 0.4 -164.2 0.3 130.2 0.3 -49.0 0.3 41.6 0.4 -100.5 0.3 133.1 0.3 -38.7 0.4 11.9 0.3 -137.2 0.3 59.4 0.4 25.6 0.3 23.5 0.3 40.2 0.3 -141.5 0.4 4.6 0.3 54.2 0.3 160.2 0.4 -133.5 0.3 80.1 0.3 -150.8 0.4 87.3 0.3 19.7 0.3 -41.0 0.3 2.9 0.4 -109.1 0.3 46.4 0.3 82.4 0.4 -85.1 0.3 -14.0 0.3 25.0 0.4 48.8 0.3 -69.1 0.3 63.5 0.3 113.0 0.4 -58.5 0.3 -71.7 0.3 62.3 0.4 -37.0 0.3 378.5 0.3 58.0 0.4 58.1 0.3 -84.8 0.3 103.7 0.3 -142.2 0.4 35.0 0.3 -.4 0.3 5.5 0.4 -41.2 0.3 81.9 0.3 -110.2 0.4 74.4 0.3 -31.5 0.3 .8 0.3 50.7 0.4 -93.0 0.3 174.0 0.3 38.1 0.4 -153.7 0.3 107.0 0.3 25.0 0.4 -40.5 0.3 -97.9 0.3 -30.7 0.3 163.1 0.4 -218.1 0.3 32.6 0.3 21.9 0.4 144.9 0.3 -110.4 0.3 85.3 0.4 62.7 0.3 -85.2 0.3 -20.8 0.3 74.3 0.4 -153.9 0.3 136.6 0.3 -32.5 0.4 7.4 0.3 -95.8 0.3 26.6 0.4 102.0 0.3 -18.5 0.3 -80.6 0.3 -1.1 0.4 142.1 0.3 -38.3 0.3 -153.1 0.4 60.5 0.3 3.4 0.3 -125.6 0.4 .0 0.3 .0 0.3 .0 0.3 .0 0.4 .0 0.3 227.6 0.3 -68.5 0.4 -116.4 0.3 157.1 0.3 -29.0 0.4 44.9 0.3 -192.2 0.3 196.7 0.4 -1.5 0.3 -45.0 0.3 -100.5 0.3 -21.8 0.4 10.7 0.3 133.2 0.3 -24.1 0.4 -77.1 0.3 72.4 0.3 -46.0 0.4 -18.4 0.3 163.8 0.3 -230.6 0.3 67.4 0.4 109.9 0.3 42.6 0.3 -112.4 0.4 61.4 0.3 -121.3 0.3 5.8 0.4 51.7 0.3 -4.2 0.3 -5.2 0.3 -50.8 0.4 9.6 0.3 129.2 0.3 -117.2 0.4 44.8 0.3 -87.0 0.3 214.6 0.4 -114.7 0.3 41.7 0.3 -178.2 0.3 79.0 0.4 -27.2 0.3 -1.3 0.3 70.0 0.4 103.3 0.3 -23.7 0.3 -19.5 0.4 -135.4 0.3 142.8 0.3 -18.7 0.3 -49.7 0.4 -141.6 0.3 .0 0.3 .0 0.4 .0 0.3 .0 0.3 .0 0.4 63.2 0.3 109.2 0.3 -33.9 0.3 -35.2 0.4 164.2 0.3 -60.7 0.3 -56.1 0.4 11.1 0.3 -2.1 0.3 -155.1 0.4 191.8 0.3 20.8 0.3 -178.9 0.3 54.6 0.4 -31.0 0.3 203.2 0.3 -222.5 0.4 40.3 0.3 -37.3 0.3 161.1 0.4 -29.2 0.3 67.1 0.3 -80.6 0.3 69.9 0.4 -195.4 0.3 96.9 0.3 -107.4 0.4 186.9 0.3 -25.7 0.3 -96.0 0.4 54.1 0.3 85.7 0.3 -91.0 0.3 -86.6 0.4 30.3 0.3 -23.5 0.3 -42.2 0.4 153.4 0.3 -45.6 0.3 34.5 0.4 -93.5 0.3 8.4 0.3 -21.0 0.3 138.4 0.4 -56.8 0.3 84.8 0.3 -63.7 0.4 58.4 0.3 -104.4 0.3 156.1 0.4 -45.5 0.3 -19.5 0.3 -94.6 0.3 -85.4 0.4 67.9 0.3 171.9 0.3 -192.9 0.4 88.2 0.3 -61.3 0.3 94.0 0.4 -78.0 0.3 -72.5 0.3 113.3 0.3 75.6 0.4 -82.7 0.3 -109.7 0.3 47.9 0.4 52.9 0.3 -6.2 0.3 -105.5 0.4 147.4 0.3 -31.6 0.3 74.3 0.3 -85.9 0.4 -53.3 0.3 51.6 0.3 -19.4 0.4 -45.1 0.3 72.7 0.3 -8.7 0.4 25.2 0.3 -64.7 0.3 -43.5 0.3 173.4 0.4 -33.3 0.3 -46.7 0.3 66.7 0.4 -117.8 0.3 48.4 0.3 -14.7 0.4 -2.5 0.3 66.9 0.3 58.3 0.3 -198.0 0.4 43.3 0.3 -121.4 0.3 .0 0.4 .0 0.3 .0 0.3 .0 0.4 .0 0.3 253.2 0.3 -59.8 0.3 12.2 0.4 -3.1 0.3 -90.4 0.3 -5.4 0.4 161.0 0.3 -138.6 0.3 47.2 0.4 -110.3 0.3 256.6 0.3 -141.8 0.3 57.9 0.4 -78.7 0.3 -45.7 0.3 46.8 0.4 64.6 0.3 11.3 0.3 -160.6 0.4 61.6 0.3 113.4 0.3 -59.6 0.3 -49.3 0.4 -2.7 0.3 -16.2 0.3 61.9 0.4 66.0 0.3 -170.8 0.3 38.3 0.4 -25.0 0.3 82.7 0.3 36.9 0.3 -131.6 0.4 182.9 0.3 -116.0 0.3 54.5 0.4 12.5 0.3 -42.9 0.3 14.1 0.4 34.9 0.3 -122.6 0.3 96.0 0.3 14.4 0.4 -27.5 0.3 -43.9 0.3 -65.1 0.4 53.0 0.3 63.3 0.3 -40.4 0.4 70.3 0.3 .5 0.3 -29.7 0.3 25.3 0.4 54.6 0.3 -80.5 0.3 94.2 0.4 -12.4 0.3 -130.7 0.3 55.1 0.4 -82.8 0.3 120.8 0.3 -21.0 0.3 -44.7 0.4 -63.1 0.3 141.9 0.3 -41.0 0.4 -125.1 0.3 120.7 0.3 -81.7 0.4 -32.9 0.3 18.3 0.3 78.6 0.4 93.9 0.3 -163.6 0.3 21.9 0.3 94.7 0.4 3.7 0.3 -156.4 0.3 84.3 0.4 22.3 0.3 24.6 0.3 -67.2 0.4 149.8 0.3 -163.9 0.3 8.5 0.3 86.8 0.4 34.7 0.3 -122.7 0.3 91.8 0.4 35.3 0.3 14.3 0.3 -101.1 0.4 -52.8 0.3 12.8 0.3 -34.7 0.3 -27.1 0.4 -11.0 0.3 111.0 0.3 -85.3 0.4 133.9 0.3 39.3 0.3 -24.3 0.4 -140.0 0.3 -20.9 0.3 68.8 0.3 -2.3 0.4 126.9 0.3 -41.8 0.3 4.7 0.4 -142.2 0.3 14.4 0.3 63.3 0.4 -20.4 0.3 -51.1 0.3 44.0 0.3 122.2 0.4 -146.8 0.3 -23.8 0.3 134.3 0.4 50.6 0.3 -16.1 0.3 -169.4 0.4 61.9 0.3 -8.9 0.3 -58.9 0.3 46.0 0.4 48.1 0.3 139.0 0.3 -231.4 0.4 45.6 0.3 89.9 0.3 -3.1 0.4 -116.0 0.3 24.3 0.3 40.4 0.3 68.3 0.4 -142.2 0.3 67.1 0.3 -129.4 0.4 167.0 0.3 -6.9 0.3 63.1 0.4 -11.8 0.3 -63.1 0.3 47.5 0.3 21.2 0.4 -41.0 0.3 -14.8 0.3 -37.5 0.4 75.2 0.3 -1.0 0.3 -84.4 0.4 88.8 0.3 65.7 0.3 -86.0 0.3 -24.7 0.4 -66.4 0.3 -5.9 0.3 66.8 0.4 27.1 0.3 -32.3 0.3 -19.6 0.4 -12.4 0.3 78.0 0.3 -126.2 0.3 166.9 0.4 -191.7 0.3 172.6 0.3 -80.7 0.4 -133.4 0.3 107.7 0.3 -66.9 0.4 129.0 0.3 -53.3 0.3 30.0 0.3 -87.7 0.4 17.3 0.3 27.8 0.3 -27.0 0.4 15.8 0.3 67.1 0.3 -94.2 0.4 56.6 0.3 139.8 0.3 -205.3 0.3 73.4 0.4 -52.6 0.3 60.8 0.3 -67.4 0.4 127.9 0.3 13.6 0.3 -40.6 0.4 -95.8 0.3 55.3 0.3 -27.2 0.3 99.3 0.4 -93.6 0.3 111.0 0.3 -160.9 0.4 107.9 0.3 -12.5 0.3 -164.4 0.4 .0 0.3 .0 0.3 .0 0.3 .0 0.4 .0 0.3 264.9 0.3 -115.4 0.4 116.8 0.3 -201.3 0.3 18.2 0.4 97.0 0.3 9.9 0.3 -123.6 0.3 59.9 0.4 37.9 0.3 -120.2 0.3 114.4 0.4 15.5 0.3 29.1 0.3 -84.7 0.4 23.2 0.3 1.9 0.3 1.0 0.3 -99.1 0.4 206.0 0.3 -79.8 0.3 -50.4 0.4 -13.4 0.3 18.4 0.3 93.8 0.4 -74.5 0.3 -4.6 0.3 2.7 0.3 -33.2 0.4 89.8 0.3 -94.8 0.3 -19.5 0.4 43.7 0.3 76.3 0.3 -132.5 0.4 68.9 0.3 36.2 0.3 -85.6 0.3 226.2 0.4 -112.6 0.3 -152.9 0.3 161.6 0.4 -77.9 0.3 27.5 0.3 -62.6 0.4 -4.1 0.3 84.8 0.3 -17.3 0.3 92.3 0.4 -58.5 0.3 -117.4 0.3 83.2 0.4 22.8 0.3 -208.5 0.3 .0 0.4 .0 0.3 .0 0.3 .0 0.3 .0 0.4 174.2 0.3 69.0 0.3 -78.3 0.4 -58.3 0.3 13.2 0.3 81.9 0.4 -52.6 0.3 88.0 0.3 -92.6 0.3 147.2 0.4 -179.5 0.3 72.2 0.3 -1.9 0.4 -23.4 0.3 41.7 0.3 -51.0 0.4 -32.7 0.3 68.2 0.3 -16.8 0.3 24.8 0.4 25.2 0.3 44.7 0.3 -154.3 0.4 -.2 0.3 191.3 0.3 -219.0 0.4 36.6 0.3 96.4 0.3 -136.0 0.4 142.0 0.3 -115.6 0.3 170.2 0.3 -24.9 0.4 -165.4 0.3 60.1 0.3 -23.5 0.4 36.4 0.3 -32.1 0.3 -67.6 0.4 163.1 0.3 -144.0 0.3 79.2 0.3 -43.9 0.4 155.2 0.3 -99.9 0.3 53.4 0.4 59.7 0.3 -56.6 0.3 15.4 0.4 33.2 0.3 -129.5 0.3 -45.3 0.3 147.4 0.4 45.9 0.3 -51.1 0.3 -58.1 0.4 -97.2 0.3 17.5 0.3 -4.0 0.4 148.6 0.3 -102.8 0.3 67.1 0.3 -134.2 0.4 35.1 0.3 3.0 0.3 -53.6 0.4 52.7 0.3 79.6 0.3 60.5 0.4 -28.5 0.3 -10.5 0.3 -4.4 0.3 46.0 0.4 -41.1 0.3 -109.2 0.3 56.7 0.4 -33.3 0.3 .7 0.3 -21.9 0.4 53.7 0.3 94.0 0.3 -112.6 0.3 123.9 0.4 -114.9 0.3 39.2 0.3 54.6 0.4 -96.0 0.3 17.4 0.3 90.7 0.4 -142.2 0.3 -16.8 0.3 150.1 0.3 -28.5 0.4 -51.3 0.3 -28.0 0.3 -16.4 0.4 62.3 0.3 -8.2 0.3 31.5 0.4 -121.9 0.3 15.0 0.3 41.8 0.3 32.5 0.4 27.2 0.3 -145.1 0.3 84.8 0.4 -11.7 0.3 85.7 0.3 -92.3 0.4 67.3 0.3 -28.1 0.3 -72.2 0.3 127.4 0.4 -117.8 0.3 65.5 0.3 79.4 0.4 -212.0 0.3 .0 0.3 .0 0.4 .0 0.3 .0 0.3 .0 0.3 98.6 0.4 -34.7 0.3 -17.5 0.3 64.4 0.4 -60.8 0.3 71.3 0.3 -86.5 0.4 197.2 0.3 -60.7 0.3 30.3 0.3 -56.8 0.4 -78.2 0.3 141.9 0.3 -200.5 0.4 198.9 0.3 .3 0.3 -43.0 0.4 -82.7 0.3 47.6 0.3 -67.6 0.3 43.2 0.4 -15.3 0.3 84.2 0.3 -132.6 0.4 53.8 0.3 22.1 0.3 -5.4 0.4 67.3 0.3 -103.4 0.3 .1 0.3 -12.3 0.4 37.5 0.3 10.7 0.3 104.4 0.4 -1.5 0.3 -45.5 0.3 -92.8 0.4 127.7 0.3 25.9 0.3 -134.2 0.3 91.3 0.4 -126.4 0.3 91.6 0.3 -81.0 0.4 3.3 0.3 89.9 0.3 -22.9 0.4 -11.0 0.3 151.0 0.3 -242.4 0.3 38.8 0.4 109.6 0.3 70.9 0.3 -224.8 0.4 121.8 0.3 -151.1 0.3 .0 0.4 .0 0.3 .0 0.3 .0 0.3 .0 0.4 94.1 0.3 -9.9 0.3 -12.0 0.4 -49.4 0.3 84.6 0.3 -18.9 0.4 88.5 0.3 -147.9 0.3 224.1 0.3 -76.2 0.4 -94.3 0.3 18.3 0.3 -20.5 0.4 -.4 0.3 57.0 0.3 -95.0 0.4 -33.5 0.3 201.2 0.3 -108.8 0.3 56.2 0.4 -63.0 0.3 105.2 0.3 -148.6 0.4 3.4 0.3 173.1 0.3 -151.4 0.4 49.8 0.3 -42.0 0.3 26.9 0.3 -78.0 0.4 36.0 0.3 -52.0 0.3 231.3 0.4 -118.1 0.3 -51.0 0.3 -45.6 0.4 133.8 0.3 -7.0 0.3 18.4 0.3 -117.9 0.4 64.7 0.3 11.6 0.3 32.5 0.4 21.1 0.3 25.0 0.3 -106.5 0.4 103.9 0.3 -75.1 0.3 -45.6 0.3 -92.5 0.4 130.9 0.3 25.1 0.3 -133.4 0.4 170.4 0.3 -76.9 0.3 -30.4 0.4 83.6 0.3 -82.7 0.3 154.7 0.3 -111.1 0.4 19.5 0.3 7.7 0.3 -22.3 0.4 -8.1 0.3 -13.1 0.3 -47.7 0.4 -8.9 0.3 39.5 0.3 125.6 0.4 -100.8 0.3 -81.3 0.3 60.1 0.3 59.1 0.4 58.2 0.3 14.1 0.3 -90.6 0.4 -33.4 0.3 35.5 0.3 -99.1 0.4 38.3 0.3 -4.4 0.3 135.5 0.3 -18.9 0.4 -130.4 0.3 -30.7 0.3 67.2 0.4 -43.5 0.3 14.8 0.3 27.9 0.4 161.7 0.3 -237.0 0.3 201.4 0.3 -39.9 0.4 -106.5 0.3 -14.4 0.3 115.6 0.4 -28.8 0.3 -45.6 0.3 29.4 0.4 21.2 0.3 -25.3 0.3 -45.9 0.3 67.1 0.4 16.5 0.3 -82.2 0.3 103.1 0.4 -41.1 0.3 -104.1 0.3 79.8 0.4 -66.6 0.3 69.3 0.3 -43.8 0.3 118.1 0.4 -26.4 0.3 -103.5 0.3 -23.0 0.4 2.5 0.3 49.6 0.3 46.3 0.4 25.4 0.3 65.6 0.3 -177.5 0.3 145.3 0.4 -82.2 0.3 91.9 0.3 -94.8 0.4 24.0 0.3 23.5 0.3 38.9 0.4 -70.8 0.3 19.3 0.3 27.1 0.3 77.6 0.4 -53.7 0.3 -114.9 0.3 -10.0 0.4 -119.8 0.3 .0 0.3 .0 0.4 .0 0.3 .0 0.3 .0 0.3 178.0 0.4 34.0 0.3 15.4 0.3 -159.7 0.4 102.9 0.3 -61.9 0.3 74.0 0.4 -35.4 0.3 49.4 0.3 -6.8 0.3 -115.0 0.4 54.7 0.3 -14.8 0.3 144.1 0.4 -183.5 0.3 201.6 0.3 -158.9 0.4 -26.0 0.3 6.6 0.3 86.4 0.3 -81.6 0.4 64.8 0.3 34.6 0.3 -57.3 0.4 -41.8 0.3 86.8 0.3 53.5 0.4 -176.7 0.3 82.6 0.3 -11.2 0.3 -14.7 0.4 111.9 0.3 -121.4 0.3 99.4 0.4 -61.5 0.3 -63.2 0.3 1.2 0.4 7.6 0.3 -53.8 0.3 99.1 0.3 103.5 0.4 -11.2 0.3 -97.2 0.3 139.6 0.4 -46.0 0.3 68.2 0.3 -107.3 0.4 -137.6 0.3 133.7 0.3 -77.9 0.3 116.2 0.4 -191.8 0.3 112.1 0.3 -31.3 0.4 -17.8 0.3 111.5 0.3 -167.3 0.4 100.9 0.3 7.8 0.3 -25.0 0.3 -53.7 0.4 54.5 0.3 27.9 0.3 28.7 0.4 -26.1 0.3 -125.6 0.3 185.7 0.4 -17.5 0.3 -2.4 0.3 -106.4 0.3 -38.2 0.4 204.6 0.3 12.0 0.3 -19.2 0.4 -184.3 0.3 38.6 0.3 130.4 0.4 -160.2 0.3 184.7 0.3 -99.7 0.3 -129.2 0.4 156.3 0.3 -6.1 0.3 -30.6 0.4 -12.9 0.3 -17.9 0.3 127.7 0.4 -128.1 0.3 12.7 0.3 165.9 0.3 -64.0 0.4 -141.3 0.3 158.6 0.3 -34.7 0.4 -111.7 0.3 -77.9 0.3 110.0 0.4 12.0 0.3 3.8 0.3 -5.0 0.3 29.2 0.4 -63.6 0.3 107.3 0.3 -80.3 0.4 120.1 0.3 -194.5 0.3 -5.7 0.4 56.4 0.3 93.0 0.3 17.2 0.3 -89.5 0.4 5.2 0.3 127.5 0.3 -98.8 0.4 -142.6 0.3 59.5 0.3 42.6 0.4 60.3 0.3 -131.3 0.3 41.0 0.3 10.8 0.4 127.5 0.3 -53.6 0.3 -6.2 0.4 -37.6 0.3 -97.0 0.3 64.4 0.4 43.8 0.3 -39.9 0.3 132.0 0.3 -43.5 0.4 -67.3 0.3 86.3 0.3 -142.5 0.4 27.9 0.3 120.4 0.3 -20.9 0.4 -115.3 0.3 29.3 0.3 102.2 0.3 -87.4 0.4 133.2 0.3 -199.8 0.3 118.4 0.4 -23.4 0.3 -8.0 0.3 1.7 0.4 -44.0 0.3 83.6 0.3 73.3 0.4 14.1 0.3 -66.0 0.3 54.5 0.3 -18.8 0.4 -42.5 0.3 -88.1 0.3 132.7 0.4 -10.4 0.3 55.8 0.3 -222.4 0.4 -12.0 0.3 88.5 0.3 92.8 0.3 -218.4 0.4 138.9 0.3 72.0 0.3 -110.0 0.4 -37.0 0.3 69.6 0.3 91.0 0.4 -83.7 0.3 -62.4 0.3 173.9 0.3 -185.6 0.4 100.2 0.3 -95.6 0.3 -23.7 0.4 188.5 0.3 -72.0 0.3 -114.4 0.4 17.7 0.3 41.7 0.3 -2.9 0.3 44.7 0.4 -90.1 0.3 156.0 0.3 -17.2 0.4 -177.1 0.3 156.7 0.3 24.8 0.4 -49.6 0.3 -71.1 0.3 28.2 0.3 65.5 0.4 -.1 0.3 -100.9 0.3 -6.8 0.4 45.3 0.3 108.5 0.3 -59.7 0.4 65.6 0.3 -146.9 0.3 88.2 0.3 -126.1 0.4 150.8 0.3 -74.4 0.3 -73.9 0.4 63.2 0.3 21.3 0.3 -18.1 0.4 33.3 0.3 99.3 0.3 -157.5 0.3 102.9 0.4 -24.6 0.3 -83.7 0.3 67.1 0.4 -74.9 0.3 37.5 0.3 72.2 0.4 24.7 0.3 -88.6 0.3 91.4 0.3 -7.9 0.4 -65.4 0.3 19.6 0.3 2.3 0.4 -12.1 0.3 3.9 0.3 -39.9 0.4 -7.8 0.3 113.5 0.3 -24.7 0.3 17.0 0.4 -104.1 0.3 68.5 0.3 6.7 0.4 -92.7 0.3 -4.9 0.3 141.1 0.4 -61.1 0.3 -100.7 0.3 41.8 0.3 46.9 0.4 -.3 0.3 -79.0 0.3 17.8 0.4 86.5 0.3 40.2 0.3 -87.0 0.4 46.6 0.3 -101.9 0.3 140.0 0.3 -41.4 0.4 -81.1 0.3 19.2 0.3 109.9 0.4 26.8 0.3 -127.1 0.3 -29.7 0.4 8.7 0.3 46.8 0.3 -120.4 0.3 213.9 0.4 -163.2 0.3 -20.1 0.3 115.3 0.4 57.7 0.3 -147.2 0.3 117.5 0.4 -68.3 0.3 -31.1 0.3 -24.9 0.3 102.5 0.4 -127.7 0.3 207.2 0.3 -171.0 0.4 -15.7 0.3 110.7 0.3 -126.2 0.4 168.1 0.3 -165.9 0.3 -4.3 0.3 118.9 0.4 -35.7 0.3 16.8 0.3 30.5 0.4 -14.5 0.3 -76.4 0.3 119.6 0.4 -143.0 0.3 74.5 0.3 66.5 0.3 15.9 0.4 -211.9 0.3 92.9 0.3 64.6 0.4 -1.6 0.3 -35.2 0.3 24.1 0.4 65.0 0.3 -6.4 0.3 -119.5 0.3 -3.4 0.4 81.7 0.3 8.1 0.3 -144.4 0.4 31.4 0.3 17.5 0.3 108.8 0.4 -15.3 0.3 -2.9 0.3 -106.4 0.3 14.8 0.4 75.4 0.3 -26.0 0.3 10.0 0.4 -53.2 0.3 26.9 0.3 -66.0 0.4 102.2 0.3 58.8 0.3 -53.6 0.3 -17.9 0.4 4.9 0.3 22.1 0.3 -72.1 0.4 -35.3 0.3 5.8 0.3 20.4 0.4 15.8 0.3 111.1 0.3 -99.9 0.3 18.3 0.4 132.7 0.3 -81.1 0.3 46.3 0.4 -11.9 0.3 -108.3 0.3 90.4 0.4 -165.2 0.3 133.3 0.3 -106.7 0.3 7.6 0.4 107.7 0.3 82.7 0.3 -217.4 0.4 105.6 0.3 -28.8 0.3 62.8 0.4 73.8 0.3 -142.4 0.3 -27.7 0.3 34.4 0.4 -99.7 0.3 84.0 0.3 -29.8 0.4 132.4 0.3 -110.5 0.3 -37.4 0.4 166.3 0.3 -150.6 0.3 -7.3 0.4 .3 0.3 146.6 0.3 -42.1 0.3 -10.0 0.4 -9.6 0.3 8.3 0.3 -56.4 0.4 1.8 0.3 -47.8 0.3 93.2 0.4 -104.5 0.3 177.0 0.3 -155.9 0.3 19.3 0.4 9.6 0.3 2.2 0.3 -56.7 0.4 123.9 0.3 -99.5 0.3 -41.5 0.4 13.7 0.3 176.8 0.3 -15.3 0.3 -83.6 0.4 -8.7 0.3 86.5 0.3 -42.4 0.4 2.1 0.3 36.6 0.3 -84.7 0.4 12.0 0.3 -28.7 0.3 -62.3 0.3 139.7 0.4 59.5 0.3 -144.2 0.3 91.8 0.4 -45.1 0.3 -20.9 0.3 16.0 0.4 87.6 0.3 -77.3 0.3 50.6 0.3 -40.0 0.4 55.0 0.3 -100.3 0.3 117.7 0.4 -7.6 0.3 -137.8 0.3 .2 0.4 114.9 0.3 -148.1 0.3 63.9 0.3 -76.6 0.4 173.4 0.3 -156.9 0.3 17.3 0.4 6.4 0.3 28.9 0.3 -50.7 0.4 66.7 0.3 -5.9 0.3 114.6 0.3 -36.1 0.4 9.8 0.3 -58.7 0.3 69.1 0.4 -180.5 0.3 244.7 0.3 -130.8 0.4 -80.1 0.3 47.4 0.3 108.8 0.3 -4.8 0.4 -48.7 0.3 -26.4 0.3 49.5 0.4 -170.6 0.3 132.4 0.3 63.6 0.4 -154.7 0.3 132.6 0.3 -106.5 0.3 69.8 0.4 80.6 0.3 -46.8 0.3 10.9 0.4 -91.7 0.3 114.3 0.3 -117.3 0.4 115.3 0.3 -137.6 0.3 -32.2 0.3 .1 0.4 114.8 0.3 -72.5 0.3 153.1 0.4 -22.5 0.3 -163.0 0.3 193.2 0.4 -225.3 0.3 188.4 0.3 -65.0 0.3 3.7 0.4 5.9 0.3 -28.0 0.3 -64.8 0.4 24.1 0.3 134.2 0.3 -89.8 0.4 10.3 0.3 -181.2 0.3 .0 0.3 .0 0.4 .0 0.3 .0 0.3 .0 0.4 50.3 0.3 167.0 0.3 48.0 0.4 -7.9 0.3 23.8 0.3 -62.5 0.3 -36.6 0.4 -60.0 0.3 117.8 0.3 -161.5 0.4 134.4 0.3 54.3 0.3 -43.4 0.4 39.1 0.3 -64.8 0.3 -118.1 0.3 133.8 0.4 17.8 0.3 -10.1 0.3 2.0 0.4 -30.0 0.3 85.8 0.3 -32.0 0.4 -94.3 0.3 -26.6 0.3 -47.2 0.3 111.6 0.4 80.2 0.3 -129.2 0.3 101.6 0.4 -133.2 0.3 69.7 0.3 -41.3 0.4 28.4 0.3 27.8 0.3 39.9 0.3 -52.9 0.4 -46.1 0.3 -24.5 0.3 137.5 0.4 -99.6 0.3 -48.1 0.3 142.2 0.4 -157.3 0.3 123.9 0.3 -92.9 0.3 144.4 0.4 -79.8 0.3 47.9 0.3 -51.2 0.4 11.9 0.3 -11.6 0.3 9.5 0.4 -41.0 0.3 116.1 0.3 -174.4 0.3 18.8 0.4 198.1 0.3 -173.4 0.3 -17.7 0.4 26.6 0.3 23.1 0.3 78.6 0.4 5.2 0.3 -135.5 0.3 117.3 0.3 13.4 0.4 -96.5 0.3 37.3 0.3 -1.3 0.4 61.9 0.3 -180.1 0.3 111.3 0.4 65.3 0.3 -5.2 0.3 -65.0 0.3 -2.5 0.4 -6.3 0.3 -13.2 0.3 8.2 0.4 111.6 0.3 -107.8 0.3 -18.2 0.4 -19.5 0.3 -60.1 0.3 113.9 0.3 -39.8 0.4 121.7 0.3 -95.8 0.3 27.8 0.4 50.7 0.3 -173.8 0.3 183.2 0.4 -241.4 0.3 .0 0.3 .0 0.3 .0 0.4 .0 0.3 .0 0.3 109.2 0.4 59.8 0.3 -92.8 0.3 123.0 0.4 -153.9 0.3 132.5 0.3 -73.8 0.4 234.6 0.3 -145.3 0.3 29.8 0.3 -117.5 0.4 136.0 0.3 -16.0 0.3 -105.9 0.4 9.5 0.3 -67.2 0.3 20.6 0.4 -43.4 0.3 99.9 0.3 -18.0 0.3 -88.7 0.4 165.0 0.3 -23.7 0.3 45.7 0.4 -99.6 0.3 51.8 0.3 21.8 0.4 -21.9 0.3 -8.2 0.3 42.2 0.3 -134.2 0.4 -21.4 0.3 96.1 0.3 -51.5 0.4 81.8 0.3 -64.0 0.3 73.5 0.4 44.5 0.3 -13.7 0.3 -152.9 0.3 54.2 0.4 33.3 0.3 -6.3 0.3 47.8 0.4 -120.1 0.3 -19.6 0.3 164.8 0.4 -59.9 0.3 71.4 0.3 -115.7 0.3 112.3 0.4 -50.6 0.3 -59.1 0.3 11.6 0.4 100.7 0.3 -80.1 0.3 48.7 0.4 8.3 0.3 18.9 0.3 3.6 0.3 -53.2 0.4 49.6 0.3 -144.5 0.3 123.9 0.4 -52.0 0.3 -150.7 0.3 .0 0.4 .0 0.3 .0 0.3 .0 0.3 .0 0.4 174.1 0.3 16.7 0.3 2.9 0.4 -72.2 0.3 162.3 0.3 -128.2 0.4 101.2 0.3 -89.3 0.3 27.0 0.3 -26.7 0.4 74.8 0.3 -55.4 0.3 86.4 0.4 -71.4 0.3 -150.7 0.3 88.2 0.4 7.3 0.3 66.3 0.3 37.0 0.3 -132.8 0.4 4.5 0.3 69.2 0.3 36.2 0.4 -142.9 0.3 13.5 0.3 113.6 0.4 11.6 0.3 -105.5 0.3 118.9 0.3 -139.5 0.4 36.6 0.3 35.0 0.3 -60.9 0.4 159.9 0.3 -44.4 0.3 1.9 0.4 -127.9 0.3 21.7 0.3 -54.5 0.3 112.8 0.4 -36.7 0.3 -57.9 0.3 .3 0.4 37.7 0.3 35.1 0.3 48.6 0.4 72.3 0.3 -110.7 0.3 -95.3 0.3 12.0 0.4 97.4 0.3 -13.5 0.3 -15.9 0.4 54.2 0.3 -97.9 0.3 90.5 0.4 -137.3 0.3 1.5 0.3 36.8 0.3 38.5 0.4 -5.0 0.3 130.3 0.3 -82.4 0.4 79.5 0.3 -59.9 0.3 -22.8 0.4 -24.1 0.3 -49.6 0.3 -83.0 0.3 .0 0.4 .0 0.3 .0 0.3 .0 0.4 .0 0.3 157.9 0.3 -140.0 0.4 198.1 0.3 17.2 0.3 27.5 0.3 -117.9 0.4 93.2 0.3 -40.2 0.3 51.2 0.4 -98.6 0.3 96.3 0.3 16.6 0.4 -76.9 0.3 -113.3 0.3 79.9 0.3 -39.6 0.4 -43.6 0.3 77.4 0.3 -77.7 0.4 93.1 0.3 13.5 0.3 33.6 0.4 -128.1 0.3 118.6 0.3 -80.5 0.3 -26.3 0.4 154.0 0.3 -132.2 0.3 -59.0 0.4 -36.4 0.3 109.1 0.3 16.3 0.4 -111.3 0.3 65.9 0.3 -67.2 0.3 118.1 0.4 -31.3 0.3 119.4 0.3 -20.8 0.4 -78.0 0.3 -30.8 0.3 37.3 0.4 34.2 0.3 -98.2 0.3 75.6 0.3 29.9 0.4 -16.8 0.3 68.8 0.3 -24.6 0.4 13.1 0.3 -180.5 0.3 -69.0 0.4 .0 0.3 .0 0.3 .0 0.3 .0 0.4 .0 0.3 211.9 0.3 77.2 0.4 -90.6 0.3 -50.5 0.3 -90.7 0.4 82.5 0.3 47.2 0.3 -82.6 0.3 64.4 0.4 -22.2 0.3 -37.9 0.3 120.7 0.4 -32.6 0.3 -128.1 0.3 184.2 0.4 -61.9 0.3 14.5 0.3 22.0 0.3 -130.5 0.4 187.3 0.3 -190.1 0.3 128.3 0.4 2.5 0.3 -108.2 0.3 138.9 0.4 -121.1 0.3 -39.6 0.3 12.3 0.4 -4.5 0.3 154.4 0.3 37.3 0.3 -116.2 0.4 71.6 0.3 -63.3 0.3 -45.0 0.4 92.2 0.3 -98.2 0.3 -38.0 0.4 117.2 0.3 44.2 0.3 -103.7 0.3 12.6 0.4 -24.0 0.3 -33.0 0.3 101.9 0.4 25.3 0.3 -98.8 0.3 55.1 0.4 50.2 0.3 24.0 0.3 -240.1 0.3 .0 0.4 .0 0.3 .0 0.3 .0 0.4 .0 0.3 .0 0.3 75.2 0.4 -44.1 0.3 80.6 0.3 25.6 0.3 20.4 0.4 -86.3 0.3 19.9 0.3 -27.3 0.4 64.4 0.3 -18.0 0.3 -93.8 0.4 13.0 0.3 127.5 0.3 81.1 0.3 -159.9 0.4 -47.6 0.3 167.1 0.3 -30.7 0.4 -99.8 0.3 19.0 0.3 46.4 0.4 -21.5 0.3 33.5 0.3 -88.9 0.3 30.7 0.4 -8.6 0.3 -7.6 0.3 59.6 0.4 -56.3 0.3 -44.9 0.3 116.2 0.4 -77.5 0.3 55.5 0.3 -59.4 0.3 43.4 0.4 36.0 0.3 -60.8 0.3 94.5 0.4 -32.8 0.3 48.0 0.3 -10.7 0.4 -114.2 0.3 -46.6 0.3 133.3 0.3 12.1 0.4 -7.1 0.3 -122.4 0.3 42.0 0.4 74.2 0.3 -17.5 0.3 43.3 0.4 -39.1 0.3 -45.3 0.3 149.5 0.3 -113.1 0.4 22.0 0.3 87.3 0.3 -149.5 0.4 121.8 0.3 -46.7 0.3 32.3 0.4 -141.5 0.3 44.3 0.3 50.6 0.3 25.5 0.4 -16.9 0.3 35.7 0.3 3.5 0.4 -145.2 0.3 90.6 0.3 -21.9 0.4 78.3 0.3 -11.7 0.3 27.9 0.3 -55.5 0.4 -155.1 0.3 87.7 0.3 108.9 0.4 -79.1 0.3 80.7 0.3 -137.2 0.4 166.0 0.3 -105.8 0.3 -79.8 0.3 110.4 0.4 -1.5 0.3 -61.7 0.3 26.5 0.4 8.3 0.3 42.8 0.3 -126.0 0.4 61.1 0.3 29.7 0.3 56.6 0.3 -110.4 0.4 29.8 0.3 11.0 0.3 .2 0.4 -65.2 0.3 36.7 0.3 53.6 0.4 -82.1 0.3 -3.7 0.3 23.7 0.3 70.9 0.4 75.7 0.3 -142.0 0.3 10.6 0.4 -21.6 0.3 -44.7 0.3 53.7 0.4 -3.9 0.3 18.9 0.3 70.8 0.3 -40.3 0.4 -14.8 0.3 -9.4 0.3 56.1 0.4 -73.1 0.3 35.7 0.3 114.5 0.4 -205.8 0.3 -31.3 0.3 18.0 0.3 220.4 0.4 -189.5 0.3 8.0 0.3 148.1 0.4 -41.8 0.3 -68.7 0.3 61.0 0.4 31.2 0.3 -95.8 0.3 -42.6 0.3 53.5 0.4 -102.7 0.3 83.4 0.3 76.9 0.4 -101.6 0.3 -64.5 0.3 .0 0.4 .0 0.3 .0 0.3 .0 0.3 .0 0.4 204.2 0.3 -73.8 0.3 70.7 0.4 -194.8 0.3 41.3 0.3 108.4 0.4 66.2 0.3 -98.3 0.3 104.5 0.3 -182.9 0.4 184.1 0.3 -137.8 0.3 22.5 0.4 -77.6 0.3 -37.6 0.3 73.9 0.4 66.7 0.3 -42.6 0.3 -8.8 0.3 15.4 0.4 110.0 0.3 -107.0 0.3 67.9 0.4 -7.7 0.3 -13.0 0.3 -94.3 0.4 -14.4 0.3 57.1 0.3 65.4 0.3 -47.1 0.4 -79.8 0.3 81.0 0.3 -80.3 0.4 72.2 0.3 83.4 0.3 -165.0 0.4 46.7 0.3 -39.2 0.3 154.0 0.3 2.6 0.4 -147.4 0.3 130.8 0.3 -.9 0.4 -66.1 0.3 22.5 0.3 -87.8 0.4 40.5 0.3 -17.8 0.3 57.1 0.4 -1.2 0.3 -8.2 0.3 47.6 0.3 5.3 0.4 43.0 0.3 -136.2 0.3 79.4 0.4 -66.5 0.3 122.8 0.3 -149.8 0.4 94.4 0.3 116.4 0.3 -80.9 0.3 -68.3 0.4 88.7 0.3 25.3 0.3 -85.3 0.4 -14.9 0.3 45.8 0.3 -135.0 0.4 .2 0.3 -27.6 0.3 -24.8 0.3 84.6 0.4 29.8 0.3 133.9 0.3 -19.6 0.4 -84.2 0.3 -5.6 0.3 56.1 0.4 -36.0 0.3 11.7 0.3 71.2 0.3 -252.2 0.4 .0 0.3 .0 0.3 .0 0.4 .0 0.3 .0 0.3 107.7 0.4 79.3 0.3 19.0 0.3 -4.0 0.3 -128.8 0.4 8.4 0.3 23.8 0.3 54.0 0.4 -122.1 0.3 203.5 0.3 -123.0 0.4 71.8 0.3 -57.0 0.3 -76.5 0.3 -6.5 0.4 84.5 0.3 16.7 0.3 76.1 0.4 -162.9 0.3 195.3 0.3 -114.5 0.4 -44.5 0.3 120.4 0.3 30.4 0.3 -153.7 0.4 20.5 0.3 97.3 0.3 -139.9 0.4 41.3 0.3 95.8 0.3 -55.8 0.4 -96.2 0.3 -.2 0.3 33.8 0.3 -32.7 0.4 177.1 0.3 -114.0 0.3 33.2 0.4 22.8 0.3 61.7 0.3 -120.7 0.4 69.0 0.3 24.7 0.3 -76.3 0.3 4.3 0.4 115.3 0.3 -185.9 0.3 110.9 0.4 -76.7 0.3 -10.8 0.3 169.6 0.4 -131.7 0.3 11.9 0.3 73.8 0.3 -50.4 0.4 3.9 0.3 -114.7 0.3 150.2 0.4 -10.8 0.3 -40.5 0.3 21.3 0.4 -98.1 0.3 143.0 0.3 -23.0 0.3 23.2 0.4 -150.3 0.3 95.2 0.3 -33.7 0.4 -92.1 0.3 62.2 0.3 1.4 0.4 -10.3 0.3 49.1 0.3 113.4 0.3 -37.6 0.4 -61.8 0.3 -28.4 0.3 104.4 0.4 -149.0 0.3 118.5 0.3 -124.3 0.4 44.8 0.3 22.6 0.3 73.9 0.3 -24.1 0.4 32.8 0.3 -5.4 0.3 -8.4 0.4 -114.5 0.3 -11.4 0.3 86.2 0.4 30.3 0.3 -105.8 0.3 58.8 0.3 -17.3 0.4 40.5 0.3 -72.6 0.3 43.3 0.4 -34.7 0.3 -29.6 0.3 117.9 0.4 -71.3 0.3 4.5 0.3 -79.0 0.3 139.6 0.4 -43.5 0.3 -5.2 0.3 -3.4 0.4 -79.9 0.3 1.4 0.3 4.8 0.4 10.7 0.3 9.3 0.3 22.4 0.3 16.7 0.4 2.0 0.3 75.5 0.3 -124.9 0.4 90.2 0.3 -37.6 0.3 44.6 0.4 60.1 0.3 -211.6 0.3 144.5 0.3 12.7 0.4 -118.1 0.3 228.2 0.3 -215.3 0.4 31.0 0.3 69.2 0.3 -30.1 0.4 -92.5 0.3 -42.6 0.3 .0 0.3 .0 0.4 .0 0.3 .0 0.3 .0 0.4 124.7 0.3 10.4 0.3 126.8 0.4 -32.5 0.3 -148.0 0.3 52.4 0.3 -53.7 0.4 32.4 0.3 36.2 0.3 -20.9 0.4 44.9 0.3 -70.8 0.3 65.1 0.4 50.2 0.3 -41.6 0.3 -36.4 0.3 -64.0 0.4 91.4 0.3 -52.5 0.3 103.4 0.4 -29.2 0.3 47.7 0.3 -34.8 0.4 -145.8 0.3 69.4 0.3 -72.5 0.3 77.6 0.4 29.8 0.3 57.1 0.3 -61.2 0.4 18.4 0.3 -69.5 0.3 -22.6 0.4 -10.4 0.3 123.0 0.3 -91.6 0.3 -52.7 0.4 190.0 0.3 -166.3 0.3 71.8 0.4 -141.4 0.3 168.5 0.3 -168.3 0.4 133.8 0.3 42.6 0.3 -25.3 0.4 -101.0 0.3 98.1 0.3 -116.3 0.3 14.4 0.4 103.0 0.3 -108.4 0.3 57.4 0.4 -33.8 0.3 34.8 0.3 93.8 0.4 29.2 0.3 -137.2 0.3 -7.1 0.3 84.0 0.4 -99.6 0.3 160.7 0.3 -184.0 0.4 69.2 0.3 -1.9 0.3 -68.2 0.4 44.5 0.3 116.5 0.3 -164.6 0.3 158.0 0.4 -88.3 0.3 19.5 0.3 -127.8 0.4 .0 0.3 .0 0.3 .0 0.4 .0 0.3 .0 0.3 210.8 0.3 -121.6 0.4 7.3 0.3 -68.5 0.3 80.8 0.4 97.5 0.3 -116.9 0.3 134.7 0.4 -173.3 0.3 -30.2 0.3 165.6 0.3 -13.8 0.4 27.6 0.3 -60.6 0.3 -1.1 0.4 -52.4 0.3 47.0 0.3 -19.3 0.4 -115.5 0.3 168.7 0.3 -90.5 0.3 28.5 0.4 -115.8 0.3 156.6 0.3 -71.5 0.4 161.7 0.3 -163.2 0.3 106.6 0.4 -141.8 0.3 167.5 0.3 -117.0 0.3 79.4 0.4 75.4 0.3 -197.4 0.3 42.6 0.4 -.3 0.3 81.1 0.3 -24.3 0.4 -36.1 0.3 75.2 0.3 -94.5 0.3 -3.8 0.4 -53.8 0.3 215.2 0.3 -133.5 0.4 29.8 0.3 -33.1 0.3 45.8 0.4 7.1 0.3 -147.4 0.3 51.3 0.3 .8 0.4 94.4 0.3 25.2 0.3 -88.6 0.4 1.5 0.3 108.8 0.3 -74.0 0.4 -28.3 0.3 -32.9 0.3 -22.2 0.3 8.1 0.4 146.6 0.3 -128.0 0.3 93.3 0.4 -180.3 0.3 .0 0.3 .0 0.4 .0 0.3 .0 0.3 .0 0.3 160.2 0.4 -106.9 0.3 208.1 0.3 -136.4 0.4 -7.9 0.3 -67.5 0.3 40.6 0.4 131.5 0.3 -203.5 0.3 5.9 0.3 157.4 0.4 -107.3 0.3 37.6 0.3 13.8 0.4 24.0 0.3 41.4 0.3 -74.9 0.4 -89.2 0.3 41.6 0.3 74.9 0.3 12.9 0.4 -59.2 0.3 50.7 0.3 30.0 0.4 -88.2 0.3 159.2 0.3 -140.8 0.4 75.1 0.3 -31.0 0.3 41.4 0.3 -55.9 0.4 34.1 0.3 -58.9 0.3 15.0 0.4 -76.8 0.3 132.1 0.3 -168.7 0.4 21.1 0.3 49.1 0.3 100.8 0.3 -110.1 0.4 38.9 0.3 -71.1 0.3 89.4 0.4 39.9 0.3 7.1 0.3 16.2 0.4 -53.4 0.3 -87.6 0.3 42.2 0.3 108.1 0.4 -7.3 0.3 -88.1 0.3 9.8 0.4 -23.8 0.3 5.6 0.3 -45.3 0.4 152.3 0.3 -82.7 0.3 38.9 0.3 -17.3 0.4 49.0 0.3 -35.4 0.3 20.6 0.4 -20.2 0.3 -71.5 0.3 86.3 0.4 -149.6 0.3 132.3 0.3 -41.3 0.3 -57.8 0.4 122.9 0.3 -43.2 0.3 -32.1 0.4 105.9 0.3 -112.6 0.3 77.2 0.4 -71.6 0.3 -9.8 0.3 110.8 0.3 -168.1 0.4 115.6 0.3 -76.1 0.3 4.3 0.4 -15.3 0.3 62.7 0.3 -47.4 0.4 -1.5 0.3 134.6 0.3 -161.1 0.3 122.7 0.4 -4.3 0.3 27.9 0.3 16.6 0.4 -187.9 0.3 162.0 0.3 -151.8 0.4 169.1 0.3 -57.9 0.3 35.5 0.3 -108.5 0.4 6.9 0.3 95.1 0.3 -26.1 0.4 30.4 0.3 -17.3 0.3 6.7 0.4 -10.4 0.3 114.7 0.3 -54.1 0.3 6.6 0.4 -80.7 0.3 16.5 0.3 10.4 0.4 -75.8 0.3 -56.1 0.3 -4.4 0.4 72.5 0.3 -92.6 0.3 27.5 0.4 3.8 0.3 153.6 0.3 -109.3 0.3 84.0 0.4 -44.7 0.3 -116.2 0.3 .0 0.4 .0 0.3 .0 0.3 .0 0.4 .0 0.3 178.3 0.3 6.3 0.3 -10.2 0.4 -64.5 0.3 102.3 0.3 -185.8 0.4 51.3 0.3 53.1 0.3 83.0 0.4 -171.2 0.3 50.3 0.3 68.5 0.3 49.6 0.4 -211.9 0.3 -7.3 0.3 199.7 0.4 -56.4 0.3 -29.6 0.3 -127.4 0.4 97.3 0.3 6.6 0.3 43.7 0.3 13.7 0.4 68.9 0.3 -76.4 0.3 -64.0 0.4 121.0 0.3 -72.5 0.3 64.3 0.4 5.6 0.3 -99.0 0.3 123.3 0.3 -119.0 0.4 33.4 0.3 39.2 0.3 -65.6 0.4 -9.4 0.3 1.8 0.3 -58.8 0.4 89.1 0.3 117.1 0.3 -134.3 0.3 45.0 0.4 -31.8 0.3 40.2 0.3 6.5 0.4 36.9 0.3 -164.9 0.3 115.7 0.4 -54.5 0.3 28.8 0.3 -40.4 0.3 79.3 0.4 -137.8 0.3 161.8 0.3 -57.5 0.4 -1.7 0.3 50.5 0.3 -70.5 0.4 58.6 0.3 -123.1 0.3 -27.5 0.3 232.0 0.4 -87.2 0.3 -73.2 0.3 112.2 0.4 -139.6 0.3 139.1 0.3 -76.2 0.4 -133.9 0.3 105.0 0.3 -1.4 0.3 23.2 0.4 -66.0 0.3 5.4 0.3 89.0 0.4 -29.6 0.3 -23.1 0.3 91.5 0.4 -42.0 0.3 -80.7 0.3 -27.2 0.3 157.0 0.4 -163.3 0.3 70.9 0.3 -90.1 0.4 99.0 0.3 -75.7 0.3 87.4 0.4 60.9 0.3 -29.2 0.3 -47.6 0.3 -25.9 0.4 -72.7 0.3 185.6 0.3 -90.1 0.4 -69.5 0.3 38.3 0.3 165.4 0.4 -212.9 0.3 -35.6 0.3 .0 0.3 .0 0.4 .0 0.3 .0 0.3 .0 0.4 122.8 0.3 -13.3 0.3 44.0 0.4 38.9 0.3 34.5 0.3 -83.2 0.3 -77.3 0.4 113.6 0.3 -118.4 0.3 36.6 0.4 37.6 0.3 -12.4 0.3 -25.9 0.4 -36.6 0.3 51.1 0.3 100.1 0.3 4.8 0.4 -68.5 0.3 -60.0 0.3 52.2 0.4 -77.7 0.3 54.7 0.3 -65.1 0.4 172.4 0.3 -176.9 0.3 -16.0 0.3 16.8 0.4 67.9 0.3 -10.9 0.3 -10.2 0.4 45.5 0.3 62.5 0.3 -108.5 0.4 11.9 0.3 15.2 0.3 91.5 0.3 -195.7 0.4 20.7 0.3 -44.6 0.3 104.0 0.4 67.6 0.3 8.7 0.3 3.9 0.4 -5.3 0.3 69.1 0.3 -146.8 0.3 148.9 0.4 -30.0 0.3 -15.0 0.3 1.4 0.4 -40.5 0.3 -50.8 0.3 92.5 0.4 -44.9 0.3 -126.5 0.3 150.1 0.3 -113.4 0.4 93.7 0.3 -88.3 0.3 134.4 0.4 -139.0 0.3 52.0 0.3 -69.7 0.4 184.7 0.3 -23.2 0.3 -44.1 0.3 -18.2 0.4 -22.9 0.3 -96.7 0.3 141.7 0.4 -67.0 0.3 56.6 0.3 -85.7 0.4 75.2 0.3 -36.1 0.3 71.2 0.3 -200.7 0.4 .0 0.3 .0 0.3 .0 0.4 .0 0.3 .0 0.3 74.6 0.4 127.3 0.3 -118.3 0.3 135.1 0.3 -55.6 0.4 39.3 0.3 -66.4 0.3 135.4 0.4 -54.3 0.3 -114.3 0.3 -53.9 0.4 166.0 0.3 -112.0 0.3 -26.7 0.3 5.6"/>
</g>
<g font-family="'Liberation Sans', Arial, sans-serif" font-size="46" fill="#262626" stroke="#262626" stroke-width="1.1" stroke-linejoin="round"><text transform="translate(204.9 1201.0) scale(0.965 1.05)" text-anchor="middle">0</text><text transform="translate(373.0 1201.0) scale(0.965 1.05)" text-anchor="middle">0.1</text><text transform="translate(541.1 1201.0) scale(0.965 1.05)" text-anchor="middle">0.2</text><text transform="translate(709.3 1201.0) scale(0.965 1.05)" text-anchor="middle">0.3</text><text transform="translate(877.4 1201.0) scale(0.965 1.05)" text-anchor="middle">0.4</text><text transform="translate(1045.5 1201.0) scale(0.965 1.05)" text-anchor="middle">0.5</text><text transform="translate(1213.7 1201.0) scale(0.965 1.05)" text-anchor="middle">0.6</text><text transform="translate(1381.8 1201.0) scale(0.965 1.05)" text-anchor="middle">0.7</text><text transform="translate(1549.9 1201.0) scale(0.965 1.05)" text-anchor="middle">0.8</text><text transform="translate(1718.0 1201.0) scale(0.965 1.05)" text-anchor="middle">0.9</text><text transform="translate(1886.2 1201.0) scale(0.965 1.05)" text-anchor="middle">1</text><text transform="translate(187.0 1154.7) scale(0.965 1.05)" text-anchor="end">-0.2</text><text transform="translate(187.0 1054.6) scale(0.965 1.05)" text-anchor="end">0</text><text transform="translate(187.0 954.5) scale(0.965 1.05)" text-anchor="end">0.2</text><text transform="translate(187.0 854.4) scale(0.965 1.05)" text-anchor="end">0.4</text><text transform="translate(187.0 754.2) scale(0.965 1.05)" text-anchor="end">0.6</text><text transform="translate(187.0 654.1) scale(0.965 1.05)" text-anchor="end">0.8</text><text transform="translate(187.0 554.0) scale(0.965 1.05)" text-anchor="end">1</text><text transform="translate(187.0 453.9) scale(0.965 1.05)" text-anchor="end">1.2</text><text transform="translate(187.0 353.8) scale(0.965 1.05)" text-anchor="end">1.4</text><text transform="translate(187.0 253.6) scale(0.965 1.05)" text-anchor="end">1.6</text><text transform="translate(187.0 153.5) scale(0.965 1.05)" text-anchor="end">1.8</text></g>
<text x="907.4" y="1313.0" font-family="'Liberation Serif', 'Times New Roman', serif" fill="#000" font-size="66" textLength="125.6" lengthAdjust="spacingAndGlyphs">Time</text>
<text x="1050.4" y="1313.0" font-family="'Liberation Serif', 'Times New Roman', serif" fill="#000" font-size="66" textLength="68.6" lengthAdjust="spacingAndGlyphs">[s]</text>
<text transform="translate(77.5 794.2) rotate(-90)" x="0" y="0" font-family="'Liberation Serif', 'Times New Roman', serif" fill="#000" font-size="66" textLength="186.4" lengthAdjust="spacingAndGlyphs">Electric</text>
<text transform="translate(77.5 582.6) rotate(-90)" x="0" y="0" font-family="'Liberation Serif', 'Times New Roman', serif" fill="#000" font-size="66" textLength="105.6" lengthAdjust="spacingAndGlyphs">field</text>
<text transform="translate(77.5 454.4) rotate(-90)" x="0" y="0" font-family="'Liberation Serif', 'Times New Roman', serif" fill="#000" font-size="66" textLength="146.8" lengthAdjust="spacingAndGlyphs">[V/m]</text>
<rect x="1031.5" y="71" width="820.0" height="177" fill="#fff" stroke="#262626" stroke-width="2.5"/>
<path d="M1045 104.5H1179" stroke="#0000ff" stroke-width="4.8"/>
<text transform="translate(1189 121.0) scale(1 1.04)" font-family="'Liberation Sans', Arial, sans-serif" font-size="40.2" fill="#000" stroke="#000" stroke-width="1.0" stroke-linejoin="round">IEMI + internal source</text>
<path d="M1045 159.5H1179" stroke="#ff0000" stroke-width="4.8"/>
<text transform="translate(1189 176.0) scale(1 1.04)" font-family="'Liberation Sans', Arial, sans-serif" font-size="40.2" fill="#000" stroke="#000" stroke-width="1.0" stroke-linejoin="round">Cancelling result (MPM)</text>
<path d="M1045 215H1179" stroke="#009900" stroke-width="4.8"/>
<text transform="translate(1189 231.5) scale(1 1.04)" font-family="'Liberation Sans', Arial, sans-serif" font-size="40.2" fill="#000" stroke="#000" stroke-width="1.0" stroke-linejoin="round">Cancelling result (proposed method)</text>
</svg>
</body></html>
